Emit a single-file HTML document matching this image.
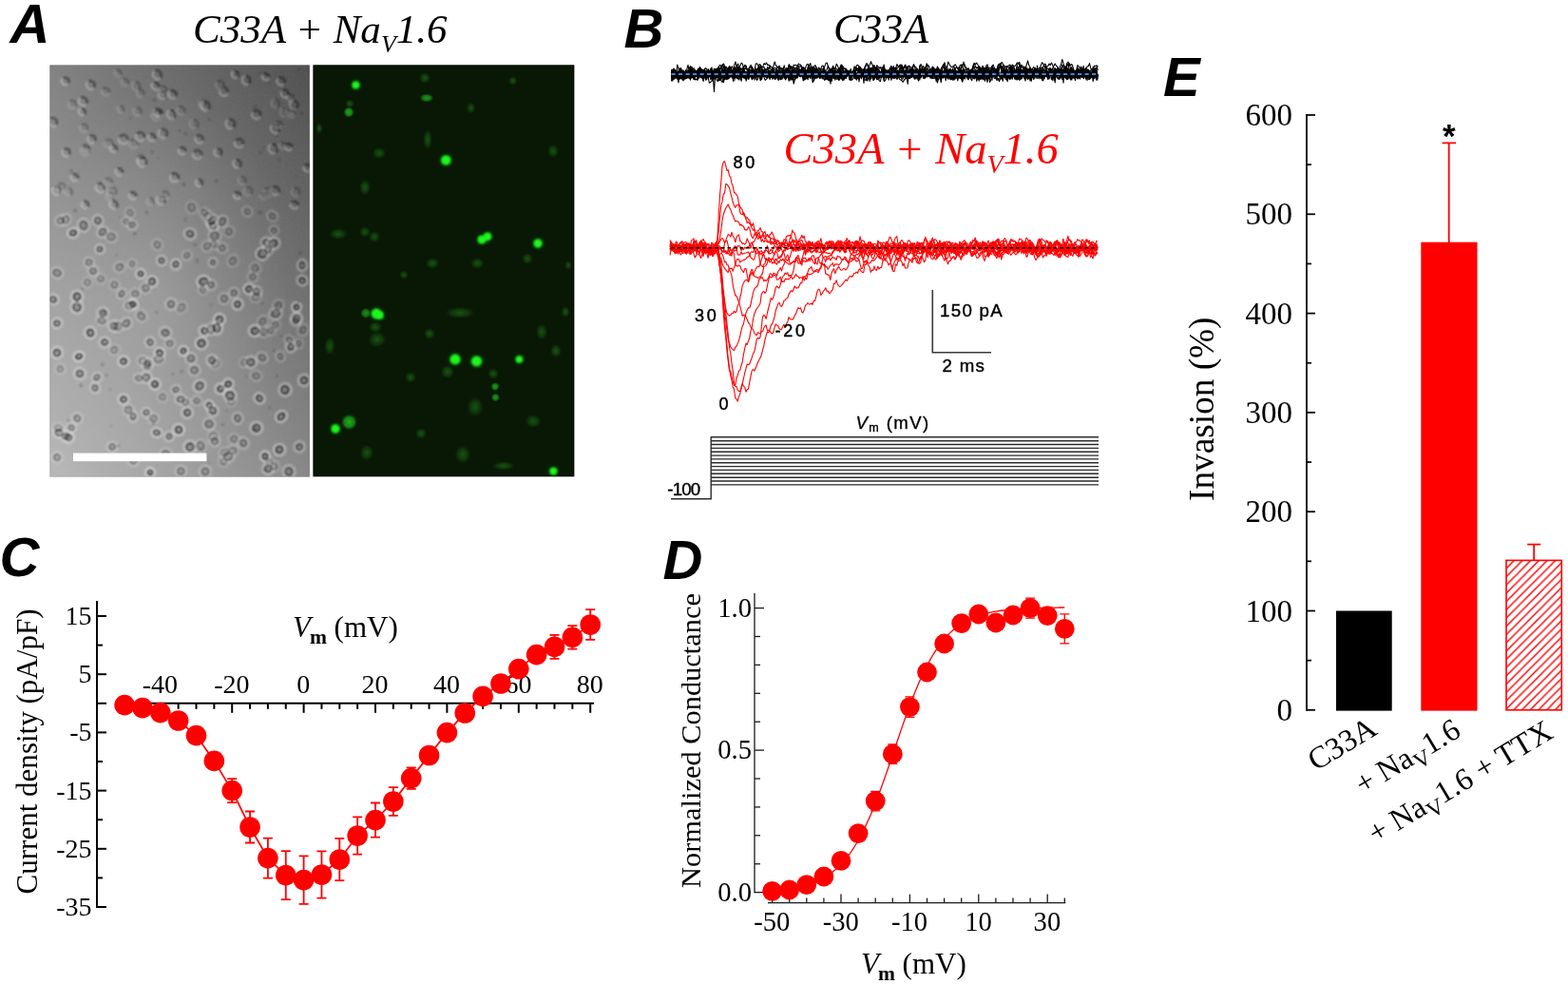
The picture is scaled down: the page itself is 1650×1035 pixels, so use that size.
<!DOCTYPE html>
<html lang="en"><head><meta charset="utf-8"><title>Figure</title>
<style>
html,body{margin:0;padding:0;background:#fff;}
body{width:1650px;height:1035px;overflow:hidden;}
svg{display:block;}
.ser{font-family:"Liberation Serif",serif;}
.seri{font-family:"Liberation Serif",serif;font-style:italic;}
.san{font-family:"Liberation Sans",sans-serif;}
.lab{font-family:"Liberation Sans",sans-serif;font-weight:bold;font-style:italic;font-size:58px;fill:#000;}
</style></head><body>
<svg width="1650" height="1035" viewBox="0 0 1650 1035">
<rect x="0" y="0" width="1650" height="1035" fill="#fff"/>
<g id="panelA">
<defs>
<linearGradient id="gbg" x1="1" y1="0" x2="0.058" y2="1.053">
<stop offset="0" stop-color="#505050"/><stop offset="1" stop-color="#bababa"/></linearGradient>
<radialGradient id="ghl" cx="0.42" cy="0.55" r="0.5"><stop offset="0" stop-color="#fff" stop-opacity="0.13"/><stop offset="1" stop-color="#fff" stop-opacity="0"/></radialGradient>
<radialGradient id="gb" cx="0.5" cy="0.5" r="0.5"><stop offset="0" stop-color="#14f014"/><stop offset="0.5" stop-color="#22f522"/><stop offset="0.68" stop-color="#22e522" stop-opacity="0.95"/><stop offset="0.85" stop-color="#148c12" stop-opacity="0.55"/><stop offset="1" stop-color="#0c400a" stop-opacity="0"/></radialGradient>
<radialGradient id="gd" cx="0.5" cy="0.5" r="0.5"><stop offset="0" stop-color="#1c6a16" stop-opacity="0.75"/><stop offset="0.6" stop-color="#15500f" stop-opacity="0.5"/><stop offset="1" stop-color="#0c300a" stop-opacity="0"/></radialGradient>
<radialGradient id="gm" cx="0.5" cy="0.5" r="0.5"><stop offset="0" stop-color="#22c41e"/><stop offset="0.6" stop-color="#1c9a18" stop-opacity="0.85"/><stop offset="1" stop-color="#0c400a" stop-opacity="0"/></radialGradient>
<filter id="fbl" x="-5%" y="-5%" width="110%" height="110%"><feGaussianBlur stdDeviation="0.9"/></filter>
<filter id="fglow" x="-5%" y="-5%" width="110%" height="110%"><feGaussianBlur stdDeviation="1.8"/></filter>
<filter id="fbl2" x="-5%" y="-5%" width="110%" height="110%"><feGaussianBlur stdDeviation="0.8"/></filter>
<filter id="fgrain" x="0" y="0" width="100%" height="100%"><feTurbulence type="fractalNoise" baseFrequency="0.55" numOctaves="2" seed="4" result="n"/><feColorMatrix in="n" type="matrix" values="0 0 0 0 0.5  0 0 0 0 0.5  0 0 0 0 0.5  0.9 0 0 0 -0.32"/></filter>
<clipPath id="clipL"><rect x="52.2" y="68.2" width="273.7" height="433.6"/></clipPath>
<clipPath id="clipR"><rect x="329.3" y="68.2" width="275.2" height="433.3"/></clipPath>
</defs>
<text class="lab" x="10.5" y="45.3">A</text>
<text class="seri" font-size="43" fill="#000" x="203" y="45">C33A + Na<tspan font-size="26" dy="9.6">V</tspan><tspan dy="-9.6">1.6</tspan></text>
<g clip-path="url(#clipL)">
<rect x="52.2" y="68.2" width="273.7" height="433.6" fill="url(#gbg)"/>
<rect x="52.2" y="68.2" width="273.7" height="433.6" fill="url(#ghl)"/>
<g filter="url(#fbl)" fill="none">
<g transform="translate(69 231) rotate(28)" opacity="0.55"><ellipse rx="5.7" ry="6.4" stroke="#fff" stroke-opacity="0.55" stroke-width="1.7"/><ellipse rx="3.4" ry="4.1" stroke="#141414" stroke-opacity="0.8" stroke-width="1.9" fill="#222" fill-opacity="0.3"/><circle cx="0.7" cy="0.6" r="0.9" fill="#eee" fill-opacity="0.45"/></g>
<g transform="translate(88 237) rotate(167)" opacity="0.65"><ellipse rx="6.4" ry="7.1" stroke="#fff" stroke-opacity="0.55" stroke-width="1.7"/><ellipse rx="4.1" ry="4.8" stroke="#141414" stroke-opacity="0.8" stroke-width="1.9" fill="#222" fill-opacity="0.3"/><circle cx="0.4" cy="0.5" r="0.9" fill="#eee" fill-opacity="0.45"/></g>
<g transform="translate(103 232) rotate(61)" opacity="0.65"><ellipse rx="6.1" ry="5.8" stroke="#fff" stroke-opacity="0.55" stroke-width="1.7"/><ellipse rx="3.8" ry="3.5" stroke="#141414" stroke-opacity="0.8" stroke-width="1.9" fill="#222" fill-opacity="0.3"/><circle cx="-0.7" cy="0.1" r="0.9" fill="#eee" fill-opacity="0.45"/></g>
<g transform="translate(77 245) rotate(163)" opacity="0.86"><ellipse rx="6.1" ry="5.2" stroke="#fff" stroke-opacity="0.55" stroke-width="1.7"/><ellipse rx="3.8" ry="2.9" stroke="#141414" stroke-opacity="0.8" stroke-width="1.9" fill="#222" fill-opacity="0.3"/><circle cx="0.7" cy="0.6" r="0.9" fill="#eee" fill-opacity="0.45"/></g>
<g transform="translate(108 244) rotate(134)" opacity="0.63"><ellipse rx="6.5" ry="5.7" stroke="#fff" stroke-opacity="0.55" stroke-width="1.7"/><ellipse rx="4.2" ry="3.4" stroke="#141414" stroke-opacity="0.8" stroke-width="1.9" fill="#222" fill-opacity="0.3"/><circle cx="-0.3" cy="0.3" r="0.9" fill="#eee" fill-opacity="0.45"/></g>
<g transform="translate(200 246) rotate(110)" opacity="0.70"><ellipse rx="5.9" ry="6.5" stroke="#fff" stroke-opacity="0.55" stroke-width="1.7"/><ellipse rx="3.6" ry="4.2" stroke="#141414" stroke-opacity="0.8" stroke-width="1.9" fill="#222" fill-opacity="0.3"/><circle cx="-0.4" cy="0.6" r="0.9" fill="#eee" fill-opacity="0.45"/></g>
<g transform="translate(224 237) rotate(36)" opacity="0.79"><ellipse rx="6.3" ry="5.7" stroke="#fff" stroke-opacity="0.55" stroke-width="1.7"/><ellipse rx="4" ry="3.4" stroke="#141414" stroke-opacity="0.8" stroke-width="1.9" fill="#222" fill-opacity="0.3"/><circle cx="0.5" cy="-0.5" r="0.9" fill="#eee" fill-opacity="0.45"/></g>
<g transform="translate(226 248) rotate(148)" opacity="0.55"><ellipse rx="6.8" ry="6.7" stroke="#fff" stroke-opacity="0.55" stroke-width="1.7"/><ellipse rx="4.5" ry="4.4" stroke="#141414" stroke-opacity="0.8" stroke-width="1.9" fill="#222" fill-opacity="0.3"/><circle cx="0.2" cy="0.6" r="0.9" fill="#eee" fill-opacity="0.45"/></g>
<g transform="translate(105 262) rotate(95)" opacity="0.74"><ellipse rx="5.2" ry="5.2" stroke="#fff" stroke-opacity="0.55" stroke-width="1.7"/><ellipse rx="2.9" ry="2.9" stroke="#141414" stroke-opacity="0.8" stroke-width="1.9" fill="#222" fill-opacity="0.3"/><circle cx="-0" cy="0.4" r="0.9" fill="#eee" fill-opacity="0.45"/></g>
<g transform="translate(224 276) rotate(22)" opacity="0.58"><ellipse rx="4.9" ry="5" stroke="#fff" stroke-opacity="0.55" stroke-width="1.7"/><ellipse rx="2.6" ry="2.7" stroke="#141414" stroke-opacity="0.8" stroke-width="1.9" fill="#222" fill-opacity="0.3"/><circle cx="0.8" cy="0.6" r="0.9" fill="#eee" fill-opacity="0.45"/></g>
<g transform="translate(170 274) rotate(57)" opacity="0.71"><ellipse rx="5.5" ry="5.3" stroke="#fff" stroke-opacity="0.55" stroke-width="1.7"/><ellipse rx="3.2" ry="3" stroke="#141414" stroke-opacity="0.8" stroke-width="1.9" fill="#222" fill-opacity="0.3"/><circle cx="0.2" cy="0.1" r="0.9" fill="#eee" fill-opacity="0.45"/></g>
<g transform="translate(185 278) rotate(22)" opacity="0.80"><ellipse rx="5.4" ry="5.6" stroke="#fff" stroke-opacity="0.55" stroke-width="1.7"/><ellipse rx="3.1" ry="3.3" stroke="#141414" stroke-opacity="0.8" stroke-width="1.9" fill="#222" fill-opacity="0.3"/><circle cx="0.3" cy="-0.2" r="0.9" fill="#eee" fill-opacity="0.45"/></g>
<g transform="translate(148 288) rotate(109)" opacity="0.90"><ellipse rx="5.1" ry="5.3" stroke="#fff" stroke-opacity="0.55" stroke-width="1.7"/><ellipse rx="2.8" ry="3" stroke="#141414" stroke-opacity="0.8" stroke-width="1.9" fill="#222" fill-opacity="0.3"/><circle cx="-0.2" cy="0.5" r="0.9" fill="#eee" fill-opacity="0.45"/></g>
<g transform="translate(160 296) rotate(89)" opacity="0.87"><ellipse rx="6" ry="5.9" stroke="#fff" stroke-opacity="0.55" stroke-width="1.7"/><ellipse rx="3.7" ry="3.6" stroke="#141414" stroke-opacity="0.8" stroke-width="1.9" fill="#222" fill-opacity="0.3"/><circle cx="-0.1" cy="0.3" r="0.9" fill="#eee" fill-opacity="0.45"/></g>
<g transform="translate(98 285) rotate(125)" opacity="0.58"><ellipse rx="5.6" ry="5.9" stroke="#fff" stroke-opacity="0.55" stroke-width="1.7"/><ellipse rx="3.3" ry="3.6" stroke="#141414" stroke-opacity="0.8" stroke-width="1.9" fill="#222" fill-opacity="0.3"/><circle cx="-0.1" cy="-0.1" r="0.9" fill="#eee" fill-opacity="0.45"/></g>
<g transform="translate(214 296) rotate(162)" opacity="0.91"><ellipse rx="7" ry="6.2" stroke="#fff" stroke-opacity="0.55" stroke-width="1.7"/><ellipse rx="4.7" ry="3.9" stroke="#141414" stroke-opacity="0.8" stroke-width="1.9" fill="#222" fill-opacity="0.3"/><circle cx="-0.4" cy="-0.1" r="0.9" fill="#eee" fill-opacity="0.45"/></g>
<g transform="translate(262 304) rotate(160)" opacity="0.91"><ellipse rx="5.9" ry="5.7" stroke="#fff" stroke-opacity="0.55" stroke-width="1.7"/><ellipse rx="3.6" ry="3.4" stroke="#141414" stroke-opacity="0.8" stroke-width="1.9" fill="#222" fill-opacity="0.3"/><circle cx="0.3" cy="0.4" r="0.9" fill="#eee" fill-opacity="0.45"/></g>
<g transform="translate(270 307) rotate(1)" opacity="0.61"><ellipse rx="5.5" ry="6.1" stroke="#fff" stroke-opacity="0.55" stroke-width="1.7"/><ellipse rx="3.2" ry="3.8" stroke="#141414" stroke-opacity="0.8" stroke-width="1.9" fill="#222" fill-opacity="0.3"/><circle cx="0.4" cy="-0.7" r="0.9" fill="#eee" fill-opacity="0.45"/></g>
<g transform="translate(128 309) rotate(32)" opacity="0.56"><ellipse rx="5" ry="5.9" stroke="#fff" stroke-opacity="0.55" stroke-width="1.7"/><ellipse rx="2.7" ry="3.6" stroke="#141414" stroke-opacity="0.8" stroke-width="1.9" fill="#222" fill-opacity="0.3"/><circle cx="0.5" cy="-0.6" r="0.9" fill="#eee" fill-opacity="0.45"/></g>
<g transform="translate(81 323) rotate(171)" opacity="0.81"><ellipse rx="6.6" ry="6.8" stroke="#fff" stroke-opacity="0.55" stroke-width="1.7"/><ellipse rx="4.3" ry="4.5" stroke="#141414" stroke-opacity="0.8" stroke-width="1.9" fill="#222" fill-opacity="0.3"/><circle cx="0.5" cy="-0.7" r="0.9" fill="#eee" fill-opacity="0.45"/></g>
<g transform="translate(81 312) rotate(19)" opacity="0.89"><ellipse rx="6.3" ry="6.5" stroke="#fff" stroke-opacity="0.55" stroke-width="1.7"/><ellipse rx="4" ry="4.2" stroke="#141414" stroke-opacity="0.8" stroke-width="1.9" fill="#222" fill-opacity="0.3"/><circle cx="0.7" cy="-0.7" r="0.9" fill="#eee" fill-opacity="0.45"/></g>
<g transform="translate(108 329) rotate(44)" opacity="0.63"><ellipse rx="5.8" ry="6.1" stroke="#fff" stroke-opacity="0.55" stroke-width="1.7"/><ellipse rx="3.5" ry="3.8" stroke="#141414" stroke-opacity="0.8" stroke-width="1.9" fill="#222" fill-opacity="0.3"/><circle cx="-0.4" cy="0.2" r="0.9" fill="#eee" fill-opacity="0.45"/></g>
<g transform="translate(120 343) rotate(71)" opacity="0.71"><ellipse rx="6.1" ry="6" stroke="#fff" stroke-opacity="0.55" stroke-width="1.7"/><ellipse rx="3.8" ry="3.7" stroke="#141414" stroke-opacity="0.8" stroke-width="1.9" fill="#222" fill-opacity="0.3"/><circle cx="-0.1" cy="-0.7" r="0.9" fill="#eee" fill-opacity="0.45"/></g>
<g transform="translate(133 340) rotate(135)" opacity="0.62"><ellipse rx="6.5" ry="5.8" stroke="#fff" stroke-opacity="0.55" stroke-width="1.7"/><ellipse rx="4.2" ry="3.5" stroke="#141414" stroke-opacity="0.8" stroke-width="1.9" fill="#222" fill-opacity="0.3"/><circle cx="0.3" cy="0.4" r="0.9" fill="#eee" fill-opacity="0.45"/></g>
<g transform="translate(231 336) rotate(116)" opacity="0.95"><ellipse rx="6.2" ry="6.1" stroke="#fff" stroke-opacity="0.55" stroke-width="1.7"/><ellipse rx="3.9" ry="3.8" stroke="#141414" stroke-opacity="0.8" stroke-width="1.9" fill="#222" fill-opacity="0.3"/><circle cx="-0.6" cy="-0.6" r="0.9" fill="#eee" fill-opacity="0.45"/></g>
<g transform="translate(228 345) rotate(80)" opacity="0.87"><ellipse rx="6.8" ry="6.2" stroke="#fff" stroke-opacity="0.55" stroke-width="1.7"/><ellipse rx="4.5" ry="3.9" stroke="#141414" stroke-opacity="0.8" stroke-width="1.9" fill="#222" fill-opacity="0.3"/><circle cx="-0.5" cy="-0.4" r="0.9" fill="#eee" fill-opacity="0.45"/></g>
<g transform="translate(215 348) rotate(42)" opacity="0.86"><ellipse rx="5.7" ry="5.4" stroke="#fff" stroke-opacity="0.55" stroke-width="1.7"/><ellipse rx="3.4" ry="3.1" stroke="#141414" stroke-opacity="0.8" stroke-width="1.9" fill="#222" fill-opacity="0.3"/><circle cx="0.7" cy="-0.3" r="0.9" fill="#eee" fill-opacity="0.45"/></g>
<g transform="translate(174 350) rotate(105)" opacity="0.67"><ellipse rx="6.1" ry="6.6" stroke="#fff" stroke-opacity="0.55" stroke-width="1.7"/><ellipse rx="3.8" ry="4.3" stroke="#141414" stroke-opacity="0.8" stroke-width="1.9" fill="#222" fill-opacity="0.3"/><circle cx="-0.5" cy="-0.8" r="0.9" fill="#eee" fill-opacity="0.45"/></g>
<g transform="translate(158 360) rotate(65)" opacity="0.69"><ellipse rx="5.8" ry="5.5" stroke="#fff" stroke-opacity="0.55" stroke-width="1.7"/><ellipse rx="3.5" ry="3.2" stroke="#141414" stroke-opacity="0.8" stroke-width="1.9" fill="#222" fill-opacity="0.3"/><circle cx="0.4" cy="-0.6" r="0.9" fill="#eee" fill-opacity="0.45"/></g>
<g transform="translate(212 361) rotate(84)" opacity="0.93"><ellipse rx="6.5" ry="6.6" stroke="#fff" stroke-opacity="0.55" stroke-width="1.7"/><ellipse rx="4.2" ry="4.3" stroke="#141414" stroke-opacity="0.8" stroke-width="1.9" fill="#222" fill-opacity="0.3"/><circle cx="0.5" cy="0.1" r="0.9" fill="#eee" fill-opacity="0.45"/></g>
<g transform="translate(268 348) rotate(72)" opacity="0.88"><ellipse rx="6.2" ry="6.4" stroke="#fff" stroke-opacity="0.55" stroke-width="1.7"/><ellipse rx="3.9" ry="4.1" stroke="#141414" stroke-opacity="0.8" stroke-width="1.9" fill="#222" fill-opacity="0.3"/><circle cx="0.7" cy="-0.1" r="0.9" fill="#eee" fill-opacity="0.45"/></g>
<g transform="translate(168 371) rotate(122)" opacity="0.98"><ellipse rx="5.3" ry="5.9" stroke="#fff" stroke-opacity="0.55" stroke-width="1.7"/><ellipse rx="3" ry="3.6" stroke="#141414" stroke-opacity="0.8" stroke-width="1.9" fill="#222" fill-opacity="0.3"/><circle cx="0.6" cy="-0.4" r="0.9" fill="#eee" fill-opacity="0.45"/></g>
<g transform="translate(193 369) rotate(127)" opacity="0.94"><ellipse rx="5.3" ry="5.2" stroke="#fff" stroke-opacity="0.55" stroke-width="1.7"/><ellipse rx="3" ry="2.9" stroke="#141414" stroke-opacity="0.8" stroke-width="1.9" fill="#222" fill-opacity="0.3"/><circle cx="0.6" cy="-0.4" r="0.9" fill="#eee" fill-opacity="0.45"/></g>
<g transform="translate(201 377) rotate(131)" opacity="0.59"><ellipse rx="6.1" ry="6.2" stroke="#fff" stroke-opacity="0.55" stroke-width="1.7"/><ellipse rx="3.8" ry="3.9" stroke="#141414" stroke-opacity="0.8" stroke-width="1.9" fill="#222" fill-opacity="0.3"/><circle cx="-0.7" cy="0.5" r="0.9" fill="#eee" fill-opacity="0.45"/></g>
<g transform="translate(156 382) rotate(122)" opacity="0.55"><ellipse rx="5.5" ry="5.8" stroke="#fff" stroke-opacity="0.55" stroke-width="1.7"/><ellipse rx="3.2" ry="3.5" stroke="#141414" stroke-opacity="0.8" stroke-width="1.9" fill="#222" fill-opacity="0.3"/><circle cx="-0.3" cy="-0.1" r="0.9" fill="#eee" fill-opacity="0.45"/></g>
<g transform="translate(223 379) rotate(172)" opacity="0.73"><ellipse rx="5.6" ry="6" stroke="#fff" stroke-opacity="0.55" stroke-width="1.7"/><ellipse rx="3.3" ry="3.7" stroke="#141414" stroke-opacity="0.8" stroke-width="1.9" fill="#222" fill-opacity="0.3"/><circle cx="0.1" cy="-0.6" r="0.9" fill="#eee" fill-opacity="0.45"/></g>
<g transform="translate(83 375) rotate(160)" opacity="0.96"><ellipse rx="5.9" ry="5.2" stroke="#fff" stroke-opacity="0.55" stroke-width="1.7"/><ellipse rx="3.6" ry="2.9" stroke="#141414" stroke-opacity="0.8" stroke-width="1.9" fill="#222" fill-opacity="0.3"/><circle cx="-0.6" cy="0.7" r="0.9" fill="#eee" fill-opacity="0.45"/></g>
<g transform="translate(60 371) rotate(53)" opacity="0.85"><ellipse rx="6.1" ry="6.1" stroke="#fff" stroke-opacity="0.55" stroke-width="1.7"/><ellipse rx="3.8" ry="3.8" stroke="#141414" stroke-opacity="0.8" stroke-width="1.9" fill="#222" fill-opacity="0.3"/><circle cx="0.2" cy="0.5" r="0.9" fill="#eee" fill-opacity="0.45"/></g>
<g transform="translate(84 393) rotate(121)" opacity="0.79"><ellipse rx="6" ry="6.2" stroke="#fff" stroke-opacity="0.55" stroke-width="1.7"/><ellipse rx="3.7" ry="3.9" stroke="#141414" stroke-opacity="0.8" stroke-width="1.9" fill="#222" fill-opacity="0.3"/><circle cx="-0.6" cy="-0" r="0.9" fill="#eee" fill-opacity="0.45"/></g>
<g transform="translate(154 397) rotate(102)" opacity="0.63"><ellipse rx="6" ry="6" stroke="#fff" stroke-opacity="0.55" stroke-width="1.7"/><ellipse rx="3.7" ry="3.7" stroke="#141414" stroke-opacity="0.8" stroke-width="1.9" fill="#222" fill-opacity="0.3"/><circle cx="0.2" cy="0.2" r="0.9" fill="#eee" fill-opacity="0.45"/></g>
<g transform="translate(163 404) rotate(22)" opacity="0.97"><ellipse rx="6" ry="5.8" stroke="#fff" stroke-opacity="0.55" stroke-width="1.7"/><ellipse rx="3.7" ry="3.5" stroke="#141414" stroke-opacity="0.8" stroke-width="1.9" fill="#222" fill-opacity="0.3"/><circle cx="-0.6" cy="-0.3" r="0.9" fill="#eee" fill-opacity="0.45"/></g>
<g transform="translate(264 381) rotate(117)" opacity="0.76"><ellipse rx="6.3" ry="6.3" stroke="#fff" stroke-opacity="0.55" stroke-width="1.7"/><ellipse rx="4" ry="4" stroke="#141414" stroke-opacity="0.8" stroke-width="1.9" fill="#222" fill-opacity="0.3"/><circle cx="-0.3" cy="-0.5" r="0.9" fill="#eee" fill-opacity="0.45"/></g>
<g transform="translate(232 409) rotate(98)" opacity="0.88"><ellipse rx="5.7" ry="5.7" stroke="#fff" stroke-opacity="0.55" stroke-width="1.7"/><ellipse rx="3.4" ry="3.4" stroke="#141414" stroke-opacity="0.8" stroke-width="1.9" fill="#222" fill-opacity="0.3"/><circle cx="-0.2" cy="-0.4" r="0.9" fill="#eee" fill-opacity="0.45"/></g>
<g transform="translate(318 279) rotate(91)" opacity="0.66"><ellipse rx="6.3" ry="5.3" stroke="#fff" stroke-opacity="0.55" stroke-width="1.7"/><ellipse rx="4" ry="3" stroke="#141414" stroke-opacity="0.8" stroke-width="1.9" fill="#222" fill-opacity="0.3"/><circle cx="0.4" cy="-0.2" r="0.9" fill="#eee" fill-opacity="0.45"/></g>
<g transform="translate(318 295) rotate(139)" opacity="0.71"><ellipse rx="5.6" ry="5.8" stroke="#fff" stroke-opacity="0.55" stroke-width="1.7"/><ellipse rx="3.3" ry="3.5" stroke="#141414" stroke-opacity="0.8" stroke-width="1.9" fill="#222" fill-opacity="0.3"/><circle cx="0.6" cy="-0.6" r="0.9" fill="#eee" fill-opacity="0.45"/></g>
<g transform="translate(312 323) rotate(140)" opacity="0.88"><ellipse rx="5.2" ry="5.2" stroke="#fff" stroke-opacity="0.55" stroke-width="1.7"/><ellipse rx="2.9" ry="2.9" stroke="#141414" stroke-opacity="0.8" stroke-width="1.9" fill="#222" fill-opacity="0.3"/><circle cx="-0.5" cy="-0.5" r="0.9" fill="#eee" fill-opacity="0.45"/></g>
<g transform="translate(312 335) rotate(135)" opacity="0.82"><ellipse rx="6.1" ry="6.2" stroke="#fff" stroke-opacity="0.55" stroke-width="1.7"/><ellipse rx="3.8" ry="3.9" stroke="#141414" stroke-opacity="0.8" stroke-width="1.9" fill="#222" fill-opacity="0.3"/><circle cx="-0.6" cy="-0.2" r="0.9" fill="#eee" fill-opacity="0.45"/></g>
<g transform="translate(280 255) rotate(36)" opacity="0.66"><ellipse rx="5.6" ry="5.7" stroke="#fff" stroke-opacity="0.55" stroke-width="1.7"/><ellipse rx="3.3" ry="3.4" stroke="#141414" stroke-opacity="0.8" stroke-width="1.9" fill="#222" fill-opacity="0.3"/><circle cx="0.5" cy="-0.8" r="0.9" fill="#eee" fill-opacity="0.45"/></g>
<g transform="translate(276 267) rotate(69)" opacity="0.80"><ellipse rx="6.8" ry="6.9" stroke="#fff" stroke-opacity="0.55" stroke-width="1.7"/><ellipse rx="4.5" ry="4.6" stroke="#141414" stroke-opacity="0.8" stroke-width="1.9" fill="#222" fill-opacity="0.3"/><circle cx="0.1" cy="0.2" r="0.9" fill="#eee" fill-opacity="0.45"/></g>
<g transform="translate(288 256) rotate(155)" opacity="0.77"><ellipse rx="6.7" ry="6.2" stroke="#fff" stroke-opacity="0.55" stroke-width="1.7"/><ellipse rx="4.4" ry="3.9" stroke="#141414" stroke-opacity="0.8" stroke-width="1.9" fill="#222" fill-opacity="0.3"/><circle cx="0.2" cy="0.4" r="0.9" fill="#eee" fill-opacity="0.45"/></g>
<g transform="translate(306 365) rotate(89)" opacity="0.79"><ellipse rx="5.7" ry="5.5" stroke="#fff" stroke-opacity="0.55" stroke-width="1.7"/><ellipse rx="3.4" ry="3.2" stroke="#141414" stroke-opacity="0.8" stroke-width="1.9" fill="#222" fill-opacity="0.3"/><circle cx="-0.1" cy="-0.5" r="0.9" fill="#eee" fill-opacity="0.45"/></g>
<g transform="translate(56 315) rotate(116)" opacity="0.75"><ellipse rx="5.4" ry="6" stroke="#fff" stroke-opacity="0.55" stroke-width="1.7"/><ellipse rx="3.1" ry="3.7" stroke="#141414" stroke-opacity="0.8" stroke-width="1.9" fill="#222" fill-opacity="0.3"/><circle cx="0.1" cy="0.7" r="0.9" fill="#eee" fill-opacity="0.45"/></g>
<g transform="translate(60 287) rotate(112)" opacity="0.57"><ellipse rx="5.9" ry="6.8" stroke="#fff" stroke-opacity="0.55" stroke-width="1.7"/><ellipse rx="3.6" ry="4.5" stroke="#141414" stroke-opacity="0.8" stroke-width="1.9" fill="#222" fill-opacity="0.3"/><circle cx="-0.2" cy="-0.4" r="0.9" fill="#eee" fill-opacity="0.45"/></g>
<g transform="translate(240 404) rotate(58)" opacity="0.94"><ellipse rx="5.5" ry="5.9" stroke="#fff" stroke-opacity="0.55" stroke-width="1.7"/><ellipse rx="3.2" ry="3.6" stroke="#141414" stroke-opacity="0.8" stroke-width="1.9" fill="#222" fill-opacity="0.3"/><circle cx="0.3" cy="-0.6" r="0.9" fill="#eee" fill-opacity="0.45"/></g>
<g transform="translate(242 416) rotate(129)" opacity="0.88"><ellipse rx="6.5" ry="6.9" stroke="#fff" stroke-opacity="0.55" stroke-width="1.7"/><ellipse rx="4.2" ry="4.6" stroke="#141414" stroke-opacity="0.8" stroke-width="1.9" fill="#222" fill-opacity="0.3"/><circle cx="-0.3" cy="0.5" r="0.9" fill="#eee" fill-opacity="0.45"/></g>
<g transform="translate(210 406) rotate(136)" opacity="0.77"><ellipse rx="6.9" ry="6.3" stroke="#fff" stroke-opacity="0.55" stroke-width="1.7"/><ellipse rx="4.6" ry="4" stroke="#141414" stroke-opacity="0.8" stroke-width="1.9" fill="#222" fill-opacity="0.3"/><circle cx="-0.6" cy="-0.7" r="0.9" fill="#eee" fill-opacity="0.45"/></g>
<g transform="translate(220 426) rotate(89)" opacity="0.86"><ellipse rx="5.1" ry="5.1" stroke="#fff" stroke-opacity="0.55" stroke-width="1.7"/><ellipse rx="2.8" ry="2.8" stroke="#141414" stroke-opacity="0.8" stroke-width="1.9" fill="#222" fill-opacity="0.3"/><circle cx="0.1" cy="-0.1" r="0.9" fill="#eee" fill-opacity="0.45"/></g>
<g transform="translate(224 432) rotate(136)" opacity="0.73"><ellipse rx="5.9" ry="6.1" stroke="#fff" stroke-opacity="0.55" stroke-width="1.7"/><ellipse rx="3.6" ry="3.8" stroke="#141414" stroke-opacity="0.8" stroke-width="1.9" fill="#222" fill-opacity="0.3"/><circle cx="-0.5" cy="0.6" r="0.9" fill="#eee" fill-opacity="0.45"/></g>
<g transform="translate(197 434) rotate(95)" opacity="0.82"><ellipse rx="6" ry="6" stroke="#fff" stroke-opacity="0.55" stroke-width="1.7"/><ellipse rx="3.7" ry="3.7" stroke="#141414" stroke-opacity="0.8" stroke-width="1.9" fill="#222" fill-opacity="0.3"/><circle cx="-0.4" cy="-0.8" r="0.9" fill="#eee" fill-opacity="0.45"/></g>
<g transform="translate(140 438) rotate(83)" opacity="0.64"><ellipse rx="5.9" ry="5.2" stroke="#fff" stroke-opacity="0.55" stroke-width="1.7"/><ellipse rx="3.6" ry="2.9" stroke="#141414" stroke-opacity="0.8" stroke-width="1.9" fill="#222" fill-opacity="0.3"/><circle cx="-0.5" cy="-0.5" r="0.9" fill="#eee" fill-opacity="0.45"/></g>
<g transform="translate(154 434) rotate(20)" opacity="0.63"><ellipse rx="5.4" ry="5.3" stroke="#fff" stroke-opacity="0.55" stroke-width="1.7"/><ellipse rx="3.1" ry="3" stroke="#141414" stroke-opacity="0.8" stroke-width="1.9" fill="#222" fill-opacity="0.3"/><circle cx="-0" cy="-0.7" r="0.9" fill="#eee" fill-opacity="0.45"/></g>
<g transform="translate(75 450) rotate(127)" opacity="0.57"><ellipse rx="5.3" ry="5.3" stroke="#fff" stroke-opacity="0.55" stroke-width="1.7"/><ellipse rx="3" ry="3" stroke="#141414" stroke-opacity="0.8" stroke-width="1.9" fill="#222" fill-opacity="0.3"/><circle cx="-0.2" cy="-0.2" r="0.9" fill="#eee" fill-opacity="0.45"/></g>
<g transform="translate(165 455) rotate(17)" opacity="0.76"><ellipse rx="5.9" ry="5.1" stroke="#fff" stroke-opacity="0.55" stroke-width="1.7"/><ellipse rx="3.6" ry="2.8" stroke="#141414" stroke-opacity="0.8" stroke-width="1.9" fill="#222" fill-opacity="0.3"/><circle cx="-0.5" cy="0.2" r="0.9" fill="#eee" fill-opacity="0.45"/></g>
<g transform="translate(178 459) rotate(131)" opacity="0.67"><ellipse rx="5.3" ry="5.2" stroke="#fff" stroke-opacity="0.55" stroke-width="1.7"/><ellipse rx="3" ry="2.9" stroke="#141414" stroke-opacity="0.8" stroke-width="1.9" fill="#222" fill-opacity="0.3"/><circle cx="0.5" cy="-0.1" r="0.9" fill="#eee" fill-opacity="0.45"/></g>
<g transform="translate(188 452) rotate(48)" opacity="0.92"><ellipse rx="6.1" ry="6.1" stroke="#fff" stroke-opacity="0.55" stroke-width="1.7"/><ellipse rx="3.8" ry="3.8" stroke="#141414" stroke-opacity="0.8" stroke-width="1.9" fill="#222" fill-opacity="0.3"/><circle cx="0.2" cy="-0.2" r="0.9" fill="#eee" fill-opacity="0.45"/></g>
<g transform="translate(60 481) rotate(107)" opacity="0.55"><ellipse rx="5.7" ry="6" stroke="#fff" stroke-opacity="0.55" stroke-width="1.7"/><ellipse rx="3.4" ry="3.7" stroke="#141414" stroke-opacity="0.8" stroke-width="1.9" fill="#222" fill-opacity="0.3"/><circle cx="-0.8" cy="-0.7" r="0.9" fill="#eee" fill-opacity="0.45"/></g>
<g transform="translate(158 497) rotate(118)" opacity="0.96"><ellipse rx="5.1" ry="5.1" stroke="#fff" stroke-opacity="0.55" stroke-width="1.7"/><ellipse rx="2.8" ry="2.8" stroke="#141414" stroke-opacity="0.8" stroke-width="1.9" fill="#222" fill-opacity="0.3"/><circle cx="-0.5" cy="0.8" r="0.9" fill="#eee" fill-opacity="0.45"/></g>
<g transform="translate(216 496) rotate(169)" opacity="0.57"><ellipse rx="6.3" ry="6.4" stroke="#fff" stroke-opacity="0.55" stroke-width="1.7"/><ellipse rx="4" ry="4.1" stroke="#141414" stroke-opacity="0.8" stroke-width="1.9" fill="#222" fill-opacity="0.3"/><circle cx="-0.3" cy="0.2" r="0.9" fill="#eee" fill-opacity="0.45"/></g>
<g transform="translate(256 466) rotate(153)" opacity="0.60"><ellipse rx="5.9" ry="6.2" stroke="#fff" stroke-opacity="0.55" stroke-width="1.7"/><ellipse rx="3.6" ry="3.9" stroke="#141414" stroke-opacity="0.8" stroke-width="1.9" fill="#222" fill-opacity="0.3"/><circle cx="-0.2" cy="-0.3" r="0.9" fill="#eee" fill-opacity="0.45"/></g>
<g transform="translate(296 438) rotate(133)" opacity="0.88"><ellipse rx="6.7" ry="5.7" stroke="#fff" stroke-opacity="0.55" stroke-width="1.7"/><ellipse rx="4.4" ry="3.4" stroke="#141414" stroke-opacity="0.8" stroke-width="1.9" fill="#222" fill-opacity="0.3"/><circle cx="0.5" cy="0.1" r="0.9" fill="#eee" fill-opacity="0.45"/></g>
<g transform="translate(294 473) rotate(41)" opacity="0.90"><ellipse rx="6.2" ry="6.3" stroke="#fff" stroke-opacity="0.55" stroke-width="1.7"/><ellipse rx="3.9" ry="4" stroke="#141414" stroke-opacity="0.8" stroke-width="1.9" fill="#222" fill-opacity="0.3"/><circle cx="-0" cy="-0.4" r="0.9" fill="#eee" fill-opacity="0.45"/></g>
<g transform="translate(315 470) rotate(128)" opacity="0.72"><ellipse rx="5.8" ry="5.7" stroke="#fff" stroke-opacity="0.55" stroke-width="1.7"/><ellipse rx="3.5" ry="3.4" stroke="#141414" stroke-opacity="0.8" stroke-width="1.9" fill="#222" fill-opacity="0.3"/><circle cx="-0" cy="-0.6" r="0.9" fill="#eee" fill-opacity="0.45"/></g>
<g transform="translate(273 419) rotate(137)" opacity="0.85"><ellipse rx="5.5" ry="6.1" stroke="#fff" stroke-opacity="0.55" stroke-width="1.7"/><ellipse rx="3.2" ry="3.8" stroke="#141414" stroke-opacity="0.8" stroke-width="1.9" fill="#222" fill-opacity="0.3"/><circle cx="-0.6" cy="-0.4" r="0.9" fill="#eee" fill-opacity="0.45"/></g>
<g transform="translate(304 496) rotate(157)" opacity="0.75"><ellipse rx="6.5" ry="6.8" stroke="#fff" stroke-opacity="0.55" stroke-width="1.7"/><ellipse rx="4.2" ry="4.5" stroke="#141414" stroke-opacity="0.8" stroke-width="1.9" fill="#222" fill-opacity="0.3"/><circle cx="0.6" cy="0.4" r="0.9" fill="#eee" fill-opacity="0.45"/></g>
<g transform="translate(279 480) rotate(72)" opacity="0.98"><ellipse rx="5.6" ry="5.2" stroke="#fff" stroke-opacity="0.55" stroke-width="1.7"/><ellipse rx="3.3" ry="2.9" stroke="#141414" stroke-opacity="0.8" stroke-width="1.9" fill="#222" fill-opacity="0.3"/><circle cx="-0.6" cy="0.1" r="0.9" fill="#eee" fill-opacity="0.45"/></g>
<g transform="translate(102 397) rotate(43)" opacity="0.57"><ellipse rx="5" ry="5.7" stroke="#fff" stroke-opacity="0.55" stroke-width="1.7"/><ellipse rx="2.7" ry="3.4" stroke="#141414" stroke-opacity="0.8" stroke-width="1.9" fill="#222" fill-opacity="0.3"/><circle cx="-0.6" cy="0.2" r="0.9" fill="#eee" fill-opacity="0.45"/></g>
<g transform="translate(100 408) rotate(174)" opacity="0.65"><ellipse rx="5.4" ry="5.7" stroke="#fff" stroke-opacity="0.55" stroke-width="1.7"/><ellipse rx="3.1" ry="3.4" stroke="#141414" stroke-opacity="0.8" stroke-width="1.9" fill="#222" fill-opacity="0.3"/><circle cx="0.1" cy="-0.1" r="0.9" fill="#eee" fill-opacity="0.45"/></g>
<g transform="translate(220 446) rotate(96)" opacity="0.63"><ellipse rx="6.4" ry="6.6" stroke="#fff" stroke-opacity="0.55" stroke-width="1.7"/><ellipse rx="4.1" ry="4.3" stroke="#141414" stroke-opacity="0.8" stroke-width="1.9" fill="#222" fill-opacity="0.3"/><circle cx="-0.5" cy="-0.7" r="0.9" fill="#eee" fill-opacity="0.45"/></g>
<g transform="translate(226 464) rotate(174)" opacity="0.64"><ellipse rx="5.8" ry="5.7" stroke="#fff" stroke-opacity="0.55" stroke-width="1.7"/><ellipse rx="3.5" ry="3.4" stroke="#141414" stroke-opacity="0.8" stroke-width="1.9" fill="#222" fill-opacity="0.3"/><circle cx="0.6" cy="-0.7" r="0.9" fill="#eee" fill-opacity="0.45"/></g>
<g transform="translate(62 455) rotate(111)" opacity="0.84"><ellipse rx="5.6" ry="6.3" stroke="#fff" stroke-opacity="0.55" stroke-width="1.7"/><ellipse rx="3.3" ry="4" stroke="#141414" stroke-opacity="0.8" stroke-width="1.9" fill="#222" fill-opacity="0.3"/><circle cx="0.4" cy="0.6" r="0.9" fill="#eee" fill-opacity="0.45"/></g>
<g transform="translate(72 460) rotate(20)" opacity="0.93"><ellipse rx="5.9" ry="5.7" stroke="#fff" stroke-opacity="0.55" stroke-width="1.7"/><ellipse rx="3.6" ry="3.4" stroke="#141414" stroke-opacity="0.8" stroke-width="1.9" fill="#222" fill-opacity="0.3"/><circle cx="0.2" cy="0.5" r="0.9" fill="#eee" fill-opacity="0.45"/></g>
<g transform="translate(118 470) rotate(131)" opacity="0.58"><ellipse rx="5.7" ry="5.6" stroke="#fff" stroke-opacity="0.55" stroke-width="1.7"/><ellipse rx="3.4" ry="3.3" stroke="#141414" stroke-opacity="0.8" stroke-width="1.9" fill="#222" fill-opacity="0.3"/><circle cx="-0.2" cy="-0" r="0.9" fill="#eee" fill-opacity="0.45"/></g>
<g transform="translate(130 420) rotate(76)" opacity="0.84"><ellipse rx="5.5" ry="5.7" stroke="#fff" stroke-opacity="0.55" stroke-width="1.7"/><ellipse rx="3.2" ry="3.4" stroke="#141414" stroke-opacity="0.8" stroke-width="1.9" fill="#222" fill-opacity="0.3"/><circle cx="0.2" cy="-0.5" r="0.9" fill="#eee" fill-opacity="0.45"/></g>
<g transform="translate(250 440) rotate(78)" opacity="0.59"><ellipse rx="6.4" ry="5.6" stroke="#fff" stroke-opacity="0.55" stroke-width="1.7"/><ellipse rx="4.1" ry="3.3" stroke="#141414" stroke-opacity="0.8" stroke-width="1.9" fill="#222" fill-opacity="0.3"/><circle cx="-0.5" cy="-0.5" r="0.9" fill="#eee" fill-opacity="0.45"/></g>
<g transform="translate(300 410) rotate(178)" opacity="0.83"><ellipse rx="6.7" ry="7" stroke="#fff" stroke-opacity="0.55" stroke-width="1.7"/><ellipse rx="4.4" ry="4.7" stroke="#141414" stroke-opacity="0.8" stroke-width="1.9" fill="#222" fill-opacity="0.3"/><circle cx="0.7" cy="0.1" r="0.9" fill="#eee" fill-opacity="0.45"/></g>
<g transform="translate(320 400) rotate(171)" opacity="0.77"><ellipse rx="6.4" ry="6.3" stroke="#fff" stroke-opacity="0.55" stroke-width="1.7"/><ellipse rx="4.1" ry="4" stroke="#141414" stroke-opacity="0.8" stroke-width="1.9" fill="#222" fill-opacity="0.3"/><circle cx="0.4" cy="-0.1" r="0.9" fill="#eee" fill-opacity="0.45"/></g>
<g transform="translate(290 330) rotate(168)" opacity="0.63"><ellipse rx="7.1" ry="6.2" stroke="#fff" stroke-opacity="0.55" stroke-width="1.7"/><ellipse rx="4.8" ry="3.9" stroke="#141414" stroke-opacity="0.8" stroke-width="1.9" fill="#222" fill-opacity="0.3"/><circle cx="-0.6" cy="0.4" r="0.9" fill="#eee" fill-opacity="0.45"/></g>
<g transform="translate(250 320) rotate(7)" opacity="0.89"><ellipse rx="5.7" ry="5.9" stroke="#fff" stroke-opacity="0.55" stroke-width="1.7"/><ellipse rx="3.4" ry="3.6" stroke="#141414" stroke-opacity="0.8" stroke-width="1.9" fill="#222" fill-opacity="0.3"/><circle cx="-0.4" cy="-0.1" r="0.9" fill="#eee" fill-opacity="0.45"/></g>
<g transform="translate(180 320) rotate(52)" opacity="0.60"><ellipse rx="6.1" ry="6.1" stroke="#fff" stroke-opacity="0.55" stroke-width="1.7"/><ellipse rx="3.8" ry="3.8" stroke="#141414" stroke-opacity="0.8" stroke-width="1.9" fill="#222" fill-opacity="0.3"/><circle cx="-0.3" cy="-0.1" r="0.9" fill="#eee" fill-opacity="0.45"/></g>
<g transform="translate(140 320) rotate(126)" opacity="0.99"><ellipse rx="5.1" ry="5.7" stroke="#fff" stroke-opacity="0.55" stroke-width="1.7"/><ellipse rx="2.8" ry="3.4" stroke="#141414" stroke-opacity="0.8" stroke-width="1.9" fill="#222" fill-opacity="0.3"/><circle cx="0.8" cy="0.6" r="0.9" fill="#eee" fill-opacity="0.45"/></g>
<g transform="translate(60 340) rotate(83)" opacity="0.79"><ellipse rx="5.4" ry="5.6" stroke="#fff" stroke-opacity="0.55" stroke-width="1.7"/><ellipse rx="3.1" ry="3.3" stroke="#141414" stroke-opacity="0.8" stroke-width="1.9" fill="#222" fill-opacity="0.3"/><circle cx="0.1" cy="-0.2" r="0.9" fill="#eee" fill-opacity="0.45"/></g>
<g transform="translate(95 350) rotate(160)" opacity="0.91"><ellipse rx="6" ry="6.3" stroke="#fff" stroke-opacity="0.55" stroke-width="1.7"/><ellipse rx="3.7" ry="4" stroke="#141414" stroke-opacity="0.8" stroke-width="1.9" fill="#222" fill-opacity="0.3"/><circle cx="-0.3" cy="-0.4" r="0.9" fill="#eee" fill-opacity="0.45"/></g>
<g transform="translate(110 360) rotate(96)" opacity="0.79"><ellipse rx="5.6" ry="5.8" stroke="#fff" stroke-opacity="0.55" stroke-width="1.7"/><ellipse rx="3.3" ry="3.5" stroke="#141414" stroke-opacity="0.8" stroke-width="1.9" fill="#222" fill-opacity="0.3"/><circle cx="-0.5" cy="-0.7" r="0.9" fill="#eee" fill-opacity="0.45"/></g>
<g transform="translate(130 380) rotate(176)" opacity="0.90"><ellipse rx="5.9" ry="5.6" stroke="#fff" stroke-opacity="0.55" stroke-width="1.7"/><ellipse rx="3.6" ry="3.3" stroke="#141414" stroke-opacity="0.8" stroke-width="1.9" fill="#222" fill-opacity="0.3"/><circle cx="0.8" cy="-0.7" r="0.9" fill="#eee" fill-opacity="0.45"/></g>
<g transform="translate(185 410) rotate(61)" opacity="0.57"><ellipse rx="5" ry="5.5" stroke="#fff" stroke-opacity="0.55" stroke-width="1.7"/><ellipse rx="2.7" ry="3.2" stroke="#141414" stroke-opacity="0.8" stroke-width="1.9" fill="#222" fill-opacity="0.3"/><circle cx="0.1" cy="-0.6" r="0.9" fill="#eee" fill-opacity="0.45"/></g>
<g transform="translate(190 420) rotate(75)" opacity="0.67"><ellipse rx="5.4" ry="6.1" stroke="#fff" stroke-opacity="0.55" stroke-width="1.7"/><ellipse rx="3.1" ry="3.8" stroke="#141414" stroke-opacity="0.8" stroke-width="1.9" fill="#222" fill-opacity="0.3"/><circle cx="-0.7" cy="-0.1" r="0.9" fill="#eee" fill-opacity="0.45"/></g>
<g transform="translate(270 450) rotate(146)" opacity="0.66"><ellipse rx="6.3" ry="6.6" stroke="#fff" stroke-opacity="0.55" stroke-width="1.7"/><ellipse rx="4" ry="4.3" stroke="#141414" stroke-opacity="0.8" stroke-width="1.9" fill="#222" fill-opacity="0.3"/><circle cx="-0.6" cy="0.4" r="0.9" fill="#eee" fill-opacity="0.45"/></g>
<g transform="translate(240 480) rotate(99)" opacity="0.68"><ellipse rx="6.3" ry="6.7" stroke="#fff" stroke-opacity="0.55" stroke-width="1.7"/><ellipse rx="4" ry="4.4" stroke="#141414" stroke-opacity="0.8" stroke-width="1.9" fill="#222" fill-opacity="0.3"/><circle cx="-0.5" cy="-0.8" r="0.9" fill="#eee" fill-opacity="0.45"/></g>
<g transform="translate(200 470) rotate(84)" opacity="0.85"><ellipse rx="6.6" ry="6.6" stroke="#fff" stroke-opacity="0.55" stroke-width="1.7"/><ellipse rx="4.3" ry="4.3" stroke="#141414" stroke-opacity="0.8" stroke-width="1.9" fill="#222" fill-opacity="0.3"/><circle cx="0.7" cy="0.5" r="0.9" fill="#eee" fill-opacity="0.45"/></g>
<g transform="translate(120.3 367.9) rotate(31)" opacity="0.35"><ellipse rx="5.9" ry="6.1" stroke="#fff" stroke-opacity="0.55" stroke-width="1.7"/><ellipse rx="3.6" ry="3.8" stroke="#141414" stroke-opacity="0.8" stroke-width="1.9" fill="#222" fill-opacity="0.3"/><circle cx="0.3" cy="0.8" r="0.9" fill="#eee" fill-opacity="0.45"/></g>
<g transform="translate(154.9 384.7) rotate(82)" opacity="0.50"><ellipse rx="5.9" ry="5.8" stroke="#fff" stroke-opacity="0.55" stroke-width="1.7"/><ellipse rx="3.6" ry="3.5" stroke="#141414" stroke-opacity="0.8" stroke-width="1.9" fill="#222" fill-opacity="0.3"/><circle cx="-0.1" cy="0.7" r="0.9" fill="#eee" fill-opacity="0.45"/></g>
<g transform="translate(221.9 233.4) rotate(74)" opacity="0.51"><ellipse rx="5.3" ry="5.6" stroke="#fff" stroke-opacity="0.55" stroke-width="1.7"/><ellipse rx="3" ry="3.3" stroke="#141414" stroke-opacity="0.8" stroke-width="1.9" fill="#222" fill-opacity="0.3"/><circle cx="0.5" cy="0.7" r="0.9" fill="#eee" fill-opacity="0.45"/></g>
<g transform="translate(61.5 450.3) rotate(99)" opacity="0.42"><ellipse rx="5.5" ry="6.2" stroke="#fff" stroke-opacity="0.55" stroke-width="1.7"/><ellipse rx="3.2" ry="3.9" stroke="#141414" stroke-opacity="0.8" stroke-width="1.9" fill="#222" fill-opacity="0.3"/><circle cx="-0.4" cy="0.3" r="0.9" fill="#eee" fill-opacity="0.45"/></g>
<g transform="translate(126 280.8) rotate(67)" opacity="0.43"><ellipse rx="5.8" ry="6.6" stroke="#fff" stroke-opacity="0.55" stroke-width="1.7"/><ellipse rx="3.5" ry="4.3" stroke="#141414" stroke-opacity="0.8" stroke-width="1.9" fill="#222" fill-opacity="0.3"/><circle cx="0.6" cy="0.7" r="0.9" fill="#eee" fill-opacity="0.45"/></g>
<g transform="translate(318.9 347.1) rotate(33)" opacity="0.40"><ellipse rx="5.7" ry="6.6" stroke="#fff" stroke-opacity="0.55" stroke-width="1.7"/><ellipse rx="3.4" ry="4.3" stroke="#141414" stroke-opacity="0.8" stroke-width="1.9" fill="#222" fill-opacity="0.3"/><circle cx="0.5" cy="-0.3" r="0.9" fill="#eee" fill-opacity="0.45"/></g>
<g transform="translate(277.2 348.9) rotate(57)" opacity="0.40"><ellipse rx="6.2" ry="6.2" stroke="#fff" stroke-opacity="0.55" stroke-width="1.7"/><ellipse rx="3.9" ry="3.9" stroke="#141414" stroke-opacity="0.8" stroke-width="1.9" fill="#222" fill-opacity="0.3"/><circle cx="-0.3" cy="-0.6" r="0.9" fill="#eee" fill-opacity="0.45"/></g>
<g transform="translate(225.4 257.3) rotate(41)" opacity="0.35"><ellipse rx="6.2" ry="5.2" stroke="#fff" stroke-opacity="0.55" stroke-width="1.7"/><ellipse rx="3.9" ry="2.9" stroke="#141414" stroke-opacity="0.8" stroke-width="1.9" fill="#222" fill-opacity="0.3"/><circle cx="-0.7" cy="0" r="0.9" fill="#eee" fill-opacity="0.45"/></g>
<g transform="translate(224.3 458.9) rotate(147)" opacity="0.30"><ellipse rx="6.7" ry="6.4" stroke="#fff" stroke-opacity="0.55" stroke-width="1.7"/><ellipse rx="4.4" ry="4.1" stroke="#141414" stroke-opacity="0.8" stroke-width="1.9" fill="#222" fill-opacity="0.3"/><circle cx="-0.3" cy="0.7" r="0.9" fill="#eee" fill-opacity="0.45"/></g>
<g transform="translate(195.1 423.3) rotate(48)" opacity="0.44"><ellipse rx="5.2" ry="5.4" stroke="#fff" stroke-opacity="0.55" stroke-width="1.7"/><ellipse rx="2.9" ry="3.1" stroke="#141414" stroke-opacity="0.8" stroke-width="1.9" fill="#222" fill-opacity="0.3"/><circle cx="-0.7" cy="-0.4" r="0.9" fill="#eee" fill-opacity="0.45"/></g>
<g transform="translate(233.9 233) rotate(32)" opacity="0.55"><ellipse rx="5.9" ry="7" stroke="#fff" stroke-opacity="0.55" stroke-width="1.7"/><ellipse rx="3.6" ry="4.7" stroke="#141414" stroke-opacity="0.8" stroke-width="1.9" fill="#222" fill-opacity="0.3"/><circle cx="0.3" cy="0.2" r="0.9" fill="#eee" fill-opacity="0.45"/></g>
<g transform="translate(256.7 381.1) rotate(32)" opacity="0.35"><ellipse rx="5" ry="5.8" stroke="#fff" stroke-opacity="0.55" stroke-width="1.7"/><ellipse rx="2.7" ry="3.5" stroke="#141414" stroke-opacity="0.8" stroke-width="1.9" fill="#222" fill-opacity="0.3"/><circle cx="0.5" cy="0.6" r="0.9" fill="#eee" fill-opacity="0.45"/></g>
<g transform="translate(136.9 223.7) rotate(69)" opacity="0.33"><ellipse rx="5.9" ry="5.5" stroke="#fff" stroke-opacity="0.55" stroke-width="1.7"/><ellipse rx="3.6" ry="3.2" stroke="#141414" stroke-opacity="0.8" stroke-width="1.9" fill="#222" fill-opacity="0.3"/><circle cx="-0.2" cy="0.8" r="0.9" fill="#eee" fill-opacity="0.45"/></g>
<g transform="translate(284.8 347.8) rotate(23)" opacity="0.39"><ellipse rx="5.3" ry="5.3" stroke="#fff" stroke-opacity="0.55" stroke-width="1.7"/><ellipse rx="3" ry="3" stroke="#141414" stroke-opacity="0.8" stroke-width="1.9" fill="#222" fill-opacity="0.3"/><circle cx="0.7" cy="-0.7" r="0.9" fill="#eee" fill-opacity="0.45"/></g>
<g transform="translate(246.3 461.9) rotate(176)" opacity="0.36"><ellipse rx="6.1" ry="6.1" stroke="#fff" stroke-opacity="0.55" stroke-width="1.7"/><ellipse rx="3.8" ry="3.8" stroke="#141414" stroke-opacity="0.8" stroke-width="1.9" fill="#222" fill-opacity="0.3"/><circle cx="-0.2" cy="0.7" r="0.9" fill="#eee" fill-opacity="0.45"/></g>
<g transform="translate(245.1 473.8) rotate(4)" opacity="0.39"><ellipse rx="6.2" ry="5.7" stroke="#fff" stroke-opacity="0.55" stroke-width="1.7"/><ellipse rx="3.9" ry="3.4" stroke="#141414" stroke-opacity="0.8" stroke-width="1.9" fill="#222" fill-opacity="0.3"/><circle cx="0.4" cy="0.5" r="0.9" fill="#eee" fill-opacity="0.45"/></g>
<g transform="translate(161.5 440.1) rotate(80)" opacity="0.43"><ellipse rx="6" ry="6.1" stroke="#fff" stroke-opacity="0.55" stroke-width="1.7"/><ellipse rx="3.7" ry="3.8" stroke="#141414" stroke-opacity="0.8" stroke-width="1.9" fill="#222" fill-opacity="0.3"/><circle cx="0.5" cy="-0.5" r="0.9" fill="#eee" fill-opacity="0.45"/></g>
<g transform="translate(174.5 477.9) rotate(32)" opacity="0.54"><ellipse rx="6.6" ry="6.5" stroke="#fff" stroke-opacity="0.55" stroke-width="1.7"/><ellipse rx="4.3" ry="4.2" stroke="#141414" stroke-opacity="0.8" stroke-width="1.9" fill="#222" fill-opacity="0.3"/><circle cx="0.5" cy="-0.5" r="0.9" fill="#eee" fill-opacity="0.45"/></g>
<g transform="translate(288.3 242.4) rotate(176)" opacity="0.40"><ellipse rx="5.3" ry="5.2" stroke="#fff" stroke-opacity="0.55" stroke-width="1.7"/><ellipse rx="3" ry="2.9" stroke="#141414" stroke-opacity="0.8" stroke-width="1.9" fill="#222" fill-opacity="0.3"/><circle cx="0.6" cy="-0.6" r="0.9" fill="#eee" fill-opacity="0.45"/></g>
<g transform="translate(93.6 276) rotate(178)" opacity="0.47"><ellipse rx="5.8" ry="5.7" stroke="#fff" stroke-opacity="0.55" stroke-width="1.7"/><ellipse rx="3.5" ry="3.4" stroke="#141414" stroke-opacity="0.8" stroke-width="1.9" fill="#222" fill-opacity="0.3"/><circle cx="0" cy="0.4" r="0.9" fill="#eee" fill-opacity="0.45"/></g>
<g transform="translate(311 337.6) rotate(26)" opacity="0.45"><ellipse rx="5.5" ry="5.4" stroke="#fff" stroke-opacity="0.55" stroke-width="1.7"/><ellipse rx="3.2" ry="3.1" stroke="#141414" stroke-opacity="0.8" stroke-width="1.9" fill="#222" fill-opacity="0.3"/><circle cx="-0.3" cy="0" r="0.9" fill="#eee" fill-opacity="0.45"/></g>
<g transform="translate(222.2 299.6) rotate(108)" opacity="0.55"><ellipse rx="5.6" ry="5.6" stroke="#fff" stroke-opacity="0.55" stroke-width="1.7"/><ellipse rx="3.3" ry="3.3" stroke="#141414" stroke-opacity="0.8" stroke-width="1.9" fill="#222" fill-opacity="0.3"/><circle cx="0.7" cy="0.6" r="0.9" fill="#eee" fill-opacity="0.45"/></g>
<g transform="translate(190.9 323.4) rotate(49)" opacity="0.33"><ellipse rx="6" ry="7" stroke="#fff" stroke-opacity="0.55" stroke-width="1.7"/><ellipse rx="3.7" ry="4.7" stroke="#141414" stroke-opacity="0.8" stroke-width="1.9" fill="#222" fill-opacity="0.3"/><circle cx="0" cy="0.4" r="0.9" fill="#eee" fill-opacity="0.45"/></g>
<g transform="translate(149.9 379.4) rotate(174)" opacity="0.41"><ellipse rx="5.9" ry="5.5" stroke="#fff" stroke-opacity="0.55" stroke-width="1.7"/><ellipse rx="3.6" ry="3.2" stroke="#141414" stroke-opacity="0.8" stroke-width="1.9" fill="#222" fill-opacity="0.3"/><circle cx="-0" cy="0.1" r="0.9" fill="#eee" fill-opacity="0.45"/></g>
<g transform="translate(211.1 469.1) rotate(79)" opacity="0.46"><ellipse rx="7" ry="6.4" stroke="#fff" stroke-opacity="0.55" stroke-width="1.7"/><ellipse rx="4.7" ry="4.1" stroke="#141414" stroke-opacity="0.8" stroke-width="1.9" fill="#222" fill-opacity="0.3"/><circle cx="-0.7" cy="-0.1" r="0.9" fill="#eee" fill-opacity="0.45"/></g>
<g transform="translate(236.7 476) rotate(154)" opacity="0.40"><ellipse rx="6.7" ry="5.7" stroke="#fff" stroke-opacity="0.55" stroke-width="1.7"/><ellipse rx="4.4" ry="3.4" stroke="#141414" stroke-opacity="0.8" stroke-width="1.9" fill="#222" fill-opacity="0.3"/><circle cx="0.8" cy="-0.2" r="0.9" fill="#eee" fill-opacity="0.45"/></g>
<g transform="translate(282.4 493.5) rotate(78)" opacity="0.52"><ellipse rx="5.7" ry="6.1" stroke="#fff" stroke-opacity="0.55" stroke-width="1.7"/><ellipse rx="3.4" ry="3.8" stroke="#141414" stroke-opacity="0.8" stroke-width="1.9" fill="#222" fill-opacity="0.3"/><circle cx="0.3" cy="-0.2" r="0.9" fill="#eee" fill-opacity="0.45"/></g>
<g transform="translate(233.9 260.8) rotate(67)" opacity="0.46"><ellipse rx="5.7" ry="5.6" stroke="#fff" stroke-opacity="0.55" stroke-width="1.7"/><ellipse rx="3.4" ry="3.3" stroke="#141414" stroke-opacity="0.8" stroke-width="1.9" fill="#222" fill-opacity="0.3"/><circle cx="0.6" cy="0.1" r="0.9" fill="#eee" fill-opacity="0.45"/></g>
<g transform="translate(283.5 486.1) rotate(111)" opacity="0.34"><ellipse rx="5.2" ry="5.4" stroke="#fff" stroke-opacity="0.55" stroke-width="1.7"/><ellipse rx="2.9" ry="3.1" stroke="#141414" stroke-opacity="0.8" stroke-width="1.9" fill="#222" fill-opacity="0.3"/><circle cx="-0.7" cy="-0.3" r="0.9" fill="#eee" fill-opacity="0.45"/></g>
<g transform="translate(295 374.9) rotate(166)" opacity="0.43"><ellipse rx="5.1" ry="5.7" stroke="#fff" stroke-opacity="0.55" stroke-width="1.7"/><ellipse rx="2.8" ry="3.4" stroke="#141414" stroke-opacity="0.8" stroke-width="1.9" fill="#222" fill-opacity="0.3"/><circle cx="0.4" cy="0.5" r="0.9" fill="#eee" fill-opacity="0.45"/></g>
<g transform="translate(245 274.3) rotate(123)" opacity="0.33"><ellipse rx="6.9" ry="6.2" stroke="#fff" stroke-opacity="0.55" stroke-width="1.7"/><ellipse rx="4.6" ry="3.9" stroke="#141414" stroke-opacity="0.8" stroke-width="1.9" fill="#222" fill-opacity="0.3"/><circle cx="0.6" cy="-0.2" r="0.9" fill="#eee" fill-opacity="0.45"/></g>
<g transform="translate(275.9 376.2) rotate(34)" opacity="0.51"><ellipse rx="6.4" ry="5.6" stroke="#fff" stroke-opacity="0.55" stroke-width="1.7"/><ellipse rx="4.1" ry="3.3" stroke="#141414" stroke-opacity="0.8" stroke-width="1.9" fill="#222" fill-opacity="0.3"/><circle cx="0.2" cy="-0.7" r="0.9" fill="#eee" fill-opacity="0.45"/></g>
<g transform="translate(132.7 232.8) rotate(150)" opacity="0.35"><ellipse rx="5.2" ry="4.9" stroke="#fff" stroke-opacity="0.55" stroke-width="1.7"/><ellipse rx="2.9" ry="2.6" stroke="#141414" stroke-opacity="0.8" stroke-width="1.9" fill="#222" fill-opacity="0.3"/><circle cx="-0.4" cy="-0.2" r="0.9" fill="#eee" fill-opacity="0.45"/></g>
<g transform="translate(281.7 493.1) rotate(119)" opacity="0.41"><ellipse rx="5.9" ry="6.1" stroke="#fff" stroke-opacity="0.55" stroke-width="1.7"/><ellipse rx="3.6" ry="3.8" stroke="#141414" stroke-opacity="0.8" stroke-width="1.9" fill="#222" fill-opacity="0.3"/><circle cx="-0.6" cy="0.8" r="0.9" fill="#eee" fill-opacity="0.45"/></g>
<g transform="translate(81.2 440) rotate(136)" opacity="0.55"><ellipse rx="5.6" ry="6.1" stroke="#fff" stroke-opacity="0.55" stroke-width="1.7"/><ellipse rx="3.3" ry="3.8" stroke="#141414" stroke-opacity="0.8" stroke-width="1.9" fill="#222" fill-opacity="0.3"/><circle cx="-0.7" cy="-0.8" r="0.9" fill="#eee" fill-opacity="0.45"/></g>
<g transform="translate(165.5 257.4) rotate(149)" opacity="0.38"><ellipse rx="5.8" ry="6.4" stroke="#fff" stroke-opacity="0.55" stroke-width="1.7"/><ellipse rx="3.5" ry="4.1" stroke="#141414" stroke-opacity="0.8" stroke-width="1.9" fill="#222" fill-opacity="0.3"/><circle cx="-0.1" cy="0.1" r="0.9" fill="#eee" fill-opacity="0.45"/></g>
<g transform="translate(135 431) rotate(16)" opacity="0.46"><ellipse rx="6" ry="6.2" stroke="#fff" stroke-opacity="0.55" stroke-width="1.7"/><ellipse rx="3.7" ry="3.9" stroke="#141414" stroke-opacity="0.8" stroke-width="1.9" fill="#222" fill-opacity="0.3"/><circle cx="-0.8" cy="0.7" r="0.9" fill="#eee" fill-opacity="0.45"/></g>
<g transform="translate(286.7 227.4) rotate(42)" opacity="0.42"><ellipse rx="6.1" ry="5.4" stroke="#fff" stroke-opacity="0.55" stroke-width="1.7"/><ellipse rx="3.8" ry="3.1" stroke="#141414" stroke-opacity="0.8" stroke-width="1.9" fill="#222" fill-opacity="0.3"/><circle cx="0.6" cy="0.1" r="0.9" fill="#eee" fill-opacity="0.45"/></g>
<g transform="translate(219 227.6) rotate(95)" opacity="0.35"><ellipse rx="6.3" ry="5.9" stroke="#fff" stroke-opacity="0.55" stroke-width="1.7"/><ellipse rx="4" ry="3.6" stroke="#141414" stroke-opacity="0.8" stroke-width="1.9" fill="#222" fill-opacity="0.3"/><circle cx="-0.3" cy="0.6" r="0.9" fill="#eee" fill-opacity="0.45"/></g>
<g transform="translate(246.2 308) rotate(64)" opacity="0.49"><ellipse rx="5.6" ry="5.7" stroke="#fff" stroke-opacity="0.55" stroke-width="1.7"/><ellipse rx="3.3" ry="3.4" stroke="#141414" stroke-opacity="0.8" stroke-width="1.9" fill="#222" fill-opacity="0.3"/><circle cx="0.7" cy="0.6" r="0.9" fill="#eee" fill-opacity="0.45"/></g>
<g transform="translate(288.8 490.6) rotate(78)" opacity="0.38"><ellipse rx="5.8" ry="5.6" stroke="#fff" stroke-opacity="0.55" stroke-width="1.7"/><ellipse rx="3.5" ry="3.3" stroke="#141414" stroke-opacity="0.8" stroke-width="1.9" fill="#222" fill-opacity="0.3"/><circle cx="-0.5" cy="0.6" r="0.9" fill="#eee" fill-opacity="0.45"/></g>
<g transform="translate(190.4 495.6) rotate(22)" opacity="0.53"><ellipse rx="6" ry="6.1" stroke="#fff" stroke-opacity="0.55" stroke-width="1.7"/><ellipse rx="3.7" ry="3.8" stroke="#141414" stroke-opacity="0.8" stroke-width="1.9" fill="#222" fill-opacity="0.3"/><circle cx="-0.2" cy="-0.5" r="0.9" fill="#eee" fill-opacity="0.45"/></g>
<g transform="translate(139.1 236.6) rotate(69)" opacity="0.51"><ellipse rx="5.1" ry="5.6" stroke="#fff" stroke-opacity="0.55" stroke-width="1.7"/><ellipse rx="2.8" ry="3.3" stroke="#141414" stroke-opacity="0.8" stroke-width="1.9" fill="#222" fill-opacity="0.3"/><circle cx="0.5" cy="-0.7" r="0.9" fill="#eee" fill-opacity="0.45"/></g>
<g transform="translate(215.1 223.8) rotate(45)" opacity="0.37"><ellipse rx="5.7" ry="5.4" stroke="#fff" stroke-opacity="0.55" stroke-width="1.7"/><ellipse rx="3.4" ry="3.1" stroke="#141414" stroke-opacity="0.8" stroke-width="1.9" fill="#222" fill-opacity="0.3"/><circle cx="0.3" cy="-0.3" r="0.9" fill="#eee" fill-opacity="0.45"/></g>
<g transform="translate(109.7 329.6) rotate(102)" opacity="0.36"><ellipse rx="5.2" ry="5.4" stroke="#fff" stroke-opacity="0.55" stroke-width="1.7"/><ellipse rx="2.9" ry="3.1" stroke="#141414" stroke-opacity="0.8" stroke-width="1.9" fill="#222" fill-opacity="0.3"/><circle cx="0.3" cy="-0.5" r="0.9" fill="#eee" fill-opacity="0.45"/></g>
<g transform="translate(217.9 258.9) rotate(135)" opacity="0.40"><ellipse rx="6.3" ry="5.7" stroke="#fff" stroke-opacity="0.55" stroke-width="1.7"/><ellipse rx="4" ry="3.4" stroke="#141414" stroke-opacity="0.8" stroke-width="1.9" fill="#222" fill-opacity="0.3"/><circle cx="0.1" cy="0.2" r="0.9" fill="#eee" fill-opacity="0.45"/></g>
<g transform="translate(69.1 458.8) rotate(142)" opacity="0.52"><ellipse rx="6" ry="5.5" stroke="#fff" stroke-opacity="0.55" stroke-width="1.7"/><ellipse rx="3.7" ry="3.2" stroke="#141414" stroke-opacity="0.8" stroke-width="1.9" fill="#222" fill-opacity="0.3"/><circle cx="-0" cy="0.1" r="0.9" fill="#eee" fill-opacity="0.45"/></g>
<g transform="translate(140.2 484.4) rotate(40)" opacity="0.50"><ellipse rx="6.1" ry="5.9" stroke="#fff" stroke-opacity="0.55" stroke-width="1.7"/><ellipse rx="3.8" ry="3.6" stroke="#141414" stroke-opacity="0.8" stroke-width="1.9" fill="#222" fill-opacity="0.3"/><circle cx="0.8" cy="-0.2" r="0.9" fill="#eee" fill-opacity="0.45"/></g>
<g transform="translate(292.9 321.2) rotate(129)" opacity="0.39"><ellipse rx="6.5" ry="6" stroke="#fff" stroke-opacity="0.55" stroke-width="1.7"/><ellipse rx="4.2" ry="3.7" stroke="#141414" stroke-opacity="0.8" stroke-width="1.9" fill="#222" fill-opacity="0.3"/><circle cx="0.4" cy="0.1" r="0.9" fill="#eee" fill-opacity="0.45"/></g>
<g transform="translate(178.6 361.1) rotate(86)" opacity="0.44"><ellipse rx="5.5" ry="5.9" stroke="#fff" stroke-opacity="0.55" stroke-width="1.7"/><ellipse rx="3.2" ry="3.6" stroke="#141414" stroke-opacity="0.8" stroke-width="1.9" fill="#222" fill-opacity="0.3"/><circle cx="0.6" cy="-0.1" r="0.9" fill="#eee" fill-opacity="0.45"/></g>
<g transform="translate(226.7 382.4) rotate(37)" opacity="0.33"><ellipse rx="6" ry="6.3" stroke="#fff" stroke-opacity="0.55" stroke-width="1.7"/><ellipse rx="3.7" ry="4" stroke="#141414" stroke-opacity="0.8" stroke-width="1.9" fill="#222" fill-opacity="0.3"/><circle cx="0.4" cy="0.1" r="0.9" fill="#eee" fill-opacity="0.45"/></g>
<g transform="translate(204.5 389.3) rotate(97)" opacity="0.55"><ellipse rx="6.2" ry="6.2" stroke="#fff" stroke-opacity="0.55" stroke-width="1.7"/><ellipse rx="3.9" ry="3.9" stroke="#141414" stroke-opacity="0.8" stroke-width="1.9" fill="#222" fill-opacity="0.3"/><circle cx="0.5" cy="0.4" r="0.9" fill="#eee" fill-opacity="0.45"/></g>
<g transform="translate(304.4 357.5) rotate(132)" opacity="0.39"><ellipse rx="5.1" ry="5.9" stroke="#fff" stroke-opacity="0.55" stroke-width="1.7"/><ellipse rx="2.8" ry="3.6" stroke="#141414" stroke-opacity="0.8" stroke-width="1.9" fill="#222" fill-opacity="0.3"/><circle cx="-0" cy="0.1" r="0.9" fill="#eee" fill-opacity="0.45"/></g>
<g transform="translate(171 417.4) rotate(69)" opacity="0.33"><ellipse rx="5.9" ry="5.7" stroke="#fff" stroke-opacity="0.55" stroke-width="1.7"/><ellipse rx="3.6" ry="3.4" stroke="#141414" stroke-opacity="0.8" stroke-width="1.9" fill="#222" fill-opacity="0.3"/><circle cx="0.1" cy="-0.3" r="0.9" fill="#eee" fill-opacity="0.45"/></g>
<g transform="translate(120.3 299.6) rotate(35)" opacity="0.40"><ellipse rx="5.8" ry="6.1" stroke="#fff" stroke-opacity="0.55" stroke-width="1.7"/><ellipse rx="3.5" ry="3.8" stroke="#141414" stroke-opacity="0.8" stroke-width="1.9" fill="#222" fill-opacity="0.3"/><circle cx="0.1" cy="-0.6" r="0.9" fill="#eee" fill-opacity="0.45"/></g>
<g transform="translate(314.2 361.4) rotate(91)" opacity="0.34"><ellipse rx="5.4" ry="5.1" stroke="#fff" stroke-opacity="0.55" stroke-width="1.7"/><ellipse rx="3.1" ry="2.8" stroke="#141414" stroke-opacity="0.8" stroke-width="1.9" fill="#222" fill-opacity="0.3"/><circle cx="-0.6" cy="0.1" r="0.9" fill="#eee" fill-opacity="0.45"/></g>
<g transform="translate(201.7 218.2) rotate(72)" opacity="0.32"><ellipse rx="6.9" ry="6.4" stroke="#fff" stroke-opacity="0.55" stroke-width="1.7"/><ellipse rx="4.6" ry="4.1" stroke="#141414" stroke-opacity="0.8" stroke-width="1.9" fill="#222" fill-opacity="0.3"/><circle cx="-0.4" cy="-0.3" r="0.9" fill="#eee" fill-opacity="0.45"/></g>
<g transform="translate(166.8 378) rotate(86)" opacity="0.41"><ellipse rx="5.9" ry="7.1" stroke="#fff" stroke-opacity="0.55" stroke-width="1.7"/><ellipse rx="3.6" ry="4.8" stroke="#141414" stroke-opacity="0.8" stroke-width="1.9" fill="#222" fill-opacity="0.3"/><circle cx="-0.4" cy="0.7" r="0.9" fill="#eee" fill-opacity="0.45"/></g>
<g transform="translate(63.3 388) rotate(36)" opacity="0.36"><ellipse rx="5.7" ry="5.6" stroke="#fff" stroke-opacity="0.55" stroke-width="1.7"/><ellipse rx="3.4" ry="3.3" stroke="#141414" stroke-opacity="0.8" stroke-width="1.9" fill="#222" fill-opacity="0.3"/><circle cx="0.8" cy="0.5" r="0.9" fill="#eee" fill-opacity="0.45"/></g>
<g transform="translate(223.6 231.9) rotate(127)" opacity="0.49"><ellipse rx="6.7" ry="5.7" stroke="#fff" stroke-opacity="0.55" stroke-width="1.7"/><ellipse rx="4.4" ry="3.4" stroke="#141414" stroke-opacity="0.8" stroke-width="1.9" fill="#222" fill-opacity="0.3"/><circle cx="-0.4" cy="-0.1" r="0.9" fill="#eee" fill-opacity="0.45"/></g>
<g transform="translate(222.4 346) rotate(30)" opacity="0.47"><ellipse rx="6.2" ry="6.8" stroke="#fff" stroke-opacity="0.55" stroke-width="1.7"/><ellipse rx="3.9" ry="4.5" stroke="#141414" stroke-opacity="0.8" stroke-width="1.9" fill="#222" fill-opacity="0.3"/><circle cx="-0.4" cy="0" r="0.9" fill="#eee" fill-opacity="0.45"/></g>
<g transform="translate(236 314.1) rotate(91)" opacity="0.47"><ellipse rx="6.2" ry="6.1" stroke="#fff" stroke-opacity="0.55" stroke-width="1.7"/><ellipse rx="3.9" ry="3.8" stroke="#141414" stroke-opacity="0.8" stroke-width="1.9" fill="#222" fill-opacity="0.3"/><circle cx="-0.1" cy="0.5" r="0.9" fill="#eee" fill-opacity="0.45"/></g>
<g transform="translate(243.2 422.4) rotate(70)" opacity="0.31"><ellipse rx="5.7" ry="5.8" stroke="#fff" stroke-opacity="0.55" stroke-width="1.7"/><ellipse rx="3.4" ry="3.5" stroke="#141414" stroke-opacity="0.8" stroke-width="1.9" fill="#222" fill-opacity="0.3"/><circle cx="-0.5" cy="0.2" r="0.9" fill="#eee" fill-opacity="0.45"/></g>
<g transform="translate(63.8 232) rotate(172)" opacity="0.51"><ellipse rx="5.9" ry="5.6" stroke="#fff" stroke-opacity="0.55" stroke-width="1.7"/><ellipse rx="3.6" ry="3.3" stroke="#141414" stroke-opacity="0.8" stroke-width="1.9" fill="#222" fill-opacity="0.3"/><circle cx="0.4" cy="-0.2" r="0.9" fill="#eee" fill-opacity="0.45"/></g>
<g transform="translate(235.1 485.7) rotate(166)" opacity="0.35"><ellipse rx="5.5" ry="5.7" stroke="#fff" stroke-opacity="0.55" stroke-width="1.7"/><ellipse rx="3.2" ry="3.4" stroke="#141414" stroke-opacity="0.8" stroke-width="1.9" fill="#222" fill-opacity="0.3"/><circle cx="-0.5" cy="0.8" r="0.9" fill="#eee" fill-opacity="0.45"/></g>
<g transform="translate(123.8 343.2) rotate(27)" opacity="0.44"><ellipse rx="6.2" ry="6.5" stroke="#fff" stroke-opacity="0.55" stroke-width="1.7"/><ellipse rx="3.9" ry="4.2" stroke="#141414" stroke-opacity="0.8" stroke-width="1.9" fill="#222" fill-opacity="0.3"/><circle cx="0.3" cy="0.2" r="0.9" fill="#eee" fill-opacity="0.45"/></g>
<g transform="translate(213.3 304.9) rotate(159)" opacity="0.34"><ellipse rx="5.2" ry="5.7" stroke="#fff" stroke-opacity="0.55" stroke-width="1.7"/><ellipse rx="2.9" ry="3.4" stroke="#141414" stroke-opacity="0.8" stroke-width="1.9" fill="#222" fill-opacity="0.3"/><circle cx="-0.8" cy="-0.7" r="0.9" fill="#eee" fill-opacity="0.45"/></g>
<g transform="translate(153.4 302.9) rotate(179)" opacity="0.45"><ellipse rx="6.1" ry="6.2" stroke="#fff" stroke-opacity="0.55" stroke-width="1.7"/><ellipse rx="3.8" ry="3.9" stroke="#141414" stroke-opacity="0.8" stroke-width="1.9" fill="#222" fill-opacity="0.3"/><circle cx="-0.4" cy="0.3" r="0.9" fill="#eee" fill-opacity="0.45"/></g>
<g transform="translate(154.7 382.4) rotate(31)" opacity="0.31"><ellipse rx="5.1" ry="5.6" stroke="#fff" stroke-opacity="0.55" stroke-width="1.7"/><ellipse rx="2.8" ry="3.3" stroke="#141414" stroke-opacity="0.8" stroke-width="1.9" fill="#222" fill-opacity="0.3"/><circle cx="0" cy="-0.3" r="0.9" fill="#eee" fill-opacity="0.45"/></g>
<g transform="translate(136.7 321) rotate(70)" opacity="0.50"><ellipse rx="5.9" ry="6.9" stroke="#fff" stroke-opacity="0.55" stroke-width="1.7"/><ellipse rx="3.6" ry="4.6" stroke="#141414" stroke-opacity="0.8" stroke-width="1.9" fill="#222" fill-opacity="0.3"/><circle cx="-0.1" cy="0.3" r="0.9" fill="#eee" fill-opacity="0.45"/></g>
<g transform="translate(260.3 222.6) rotate(144)" opacity="0.39"><ellipse rx="5.4" ry="5.7" stroke="#fff" stroke-opacity="0.55" stroke-width="1.7"/><ellipse rx="3.1" ry="3.4" stroke="#141414" stroke-opacity="0.8" stroke-width="1.9" fill="#222" fill-opacity="0.3"/><circle cx="-0.4" cy="-0.1" r="0.9" fill="#eee" fill-opacity="0.45"/></g>
<g transform="translate(207.1 421.6) rotate(98)" opacity="0.45"><ellipse rx="5.3" ry="5.6" stroke="#fff" stroke-opacity="0.55" stroke-width="1.7"/><ellipse rx="3" ry="3.3" stroke="#141414" stroke-opacity="0.8" stroke-width="1.9" fill="#222" fill-opacity="0.3"/><circle cx="-0.3" cy="-0.8" r="0.9" fill="#eee" fill-opacity="0.45"/></g>
<g transform="translate(139.2 277.5) rotate(102)" opacity="0.37"><ellipse rx="5.2" ry="5.1" stroke="#fff" stroke-opacity="0.55" stroke-width="1.7"/><ellipse rx="2.9" ry="2.8" stroke="#141414" stroke-opacity="0.8" stroke-width="1.9" fill="#222" fill-opacity="0.3"/><circle cx="0.4" cy="0.2" r="0.9" fill="#eee" fill-opacity="0.45"/></g>
<g transform="translate(268.6 282.1) rotate(77)" opacity="0.38"><ellipse rx="6.4" ry="6.1" stroke="#fff" stroke-opacity="0.55" stroke-width="1.7"/><ellipse rx="4.1" ry="3.8" stroke="#141414" stroke-opacity="0.8" stroke-width="1.9" fill="#222" fill-opacity="0.3"/><circle cx="-0.7" cy="0.5" r="0.9" fill="#eee" fill-opacity="0.45"/></g>
<g transform="translate(107.1 337.3) rotate(105)" opacity="0.46"><ellipse rx="5.4" ry="6.5" stroke="#fff" stroke-opacity="0.55" stroke-width="1.7"/><ellipse rx="3.1" ry="4.2" stroke="#141414" stroke-opacity="0.8" stroke-width="1.9" fill="#222" fill-opacity="0.3"/><circle cx="-0.1" cy="-0.6" r="0.9" fill="#eee" fill-opacity="0.45"/></g>
<g transform="translate(240.9 243.6) rotate(180)" opacity="0.33"><ellipse rx="6" ry="6.3" stroke="#fff" stroke-opacity="0.55" stroke-width="1.7"/><ellipse rx="3.7" ry="4" stroke="#141414" stroke-opacity="0.8" stroke-width="1.9" fill="#222" fill-opacity="0.3"/><circle cx="-0" cy="-0" r="0.9" fill="#eee" fill-opacity="0.45"/></g>
<g transform="translate(142.4 308.8) rotate(2)" opacity="0.42"><ellipse rx="6.1" ry="5.6" stroke="#fff" stroke-opacity="0.55" stroke-width="1.7"/><ellipse rx="3.8" ry="3.3" stroke="#141414" stroke-opacity="0.8" stroke-width="1.9" fill="#222" fill-opacity="0.3"/><circle cx="-0.8" cy="0.3" r="0.9" fill="#eee" fill-opacity="0.45"/></g>
<g transform="translate(276.4 338.2) rotate(122)" opacity="0.38"><ellipse rx="6.9" ry="5.7" stroke="#fff" stroke-opacity="0.55" stroke-width="1.7"/><ellipse rx="4.6" ry="3.4" stroke="#141414" stroke-opacity="0.8" stroke-width="1.9" fill="#222" fill-opacity="0.3"/><circle cx="-0" cy="-0.3" r="0.9" fill="#eee" fill-opacity="0.45"/></g>
<g transform="translate(282.2 262.6) rotate(16)" opacity="0.54"><ellipse rx="5.3" ry="5.9" stroke="#fff" stroke-opacity="0.55" stroke-width="1.7"/><ellipse rx="3" ry="3.6" stroke="#141414" stroke-opacity="0.8" stroke-width="1.9" fill="#222" fill-opacity="0.3"/><circle cx="-0.7" cy="0.7" r="0.9" fill="#eee" fill-opacity="0.45"/></g>
<g transform="translate(146.2 397.7) rotate(96)" opacity="0.49"><ellipse rx="5.1" ry="5.9" stroke="#fff" stroke-opacity="0.55" stroke-width="1.7"/><ellipse rx="2.8" ry="3.6" stroke="#141414" stroke-opacity="0.8" stroke-width="1.9" fill="#222" fill-opacity="0.3"/><circle cx="0" cy="0.2" r="0.9" fill="#eee" fill-opacity="0.45"/></g>
<g transform="translate(289.8 341.8) rotate(173)" opacity="0.30"><ellipse rx="5.7" ry="5.5" stroke="#fff" stroke-opacity="0.55" stroke-width="1.7"/><ellipse rx="3.4" ry="3.2" stroke="#141414" stroke-opacity="0.8" stroke-width="1.9" fill="#222" fill-opacity="0.3"/><circle cx="-0.7" cy="0.3" r="0.9" fill="#eee" fill-opacity="0.45"/></g>
<g transform="translate(117 249) rotate(101)" opacity="0.40"><ellipse rx="6.3" ry="6.7" stroke="#fff" stroke-opacity="0.55" stroke-width="1.7"/><ellipse rx="4" ry="4.4" stroke="#141414" stroke-opacity="0.8" stroke-width="1.9" fill="#222" fill-opacity="0.3"/><circle cx="-0.1" cy="0.2" r="0.9" fill="#eee" fill-opacity="0.45"/></g>
<g transform="translate(196.8 268.6) rotate(46)" opacity="0.42"><ellipse rx="5.2" ry="5.7" stroke="#fff" stroke-opacity="0.55" stroke-width="1.7"/><ellipse rx="2.9" ry="3.4" stroke="#141414" stroke-opacity="0.8" stroke-width="1.9" fill="#222" fill-opacity="0.3"/><circle cx="-0.4" cy="-0.2" r="0.9" fill="#eee" fill-opacity="0.45"/></g>
<g transform="translate(269.4 450.6) rotate(86)" opacity="0.35"><ellipse rx="6.4" ry="6.7" stroke="#fff" stroke-opacity="0.55" stroke-width="1.7"/><ellipse rx="4.1" ry="4.4" stroke="#141414" stroke-opacity="0.8" stroke-width="1.9" fill="#222" fill-opacity="0.3"/><circle cx="-0.3" cy="-0.7" r="0.9" fill="#eee" fill-opacity="0.45"/></g>
<g transform="translate(106.1 293.3) rotate(43)" opacity="0.35"><ellipse rx="5.7" ry="5.8" stroke="#fff" stroke-opacity="0.55" stroke-width="1.7"/><ellipse rx="3.4" ry="3.5" stroke="#141414" stroke-opacity="0.8" stroke-width="1.9" fill="#222" fill-opacity="0.3"/><circle cx="-0.6" cy="-0.5" r="0.9" fill="#eee" fill-opacity="0.45"/></g>
<g transform="translate(269.5 395.4) rotate(102)" opacity="0.39"><ellipse rx="5.6" ry="6.4" stroke="#fff" stroke-opacity="0.55" stroke-width="1.7"/><ellipse rx="3.3" ry="4.1" stroke="#141414" stroke-opacity="0.8" stroke-width="1.9" fill="#222" fill-opacity="0.3"/><circle cx="-0.1" cy="-0.7" r="0.9" fill="#eee" fill-opacity="0.45"/></g>
<g transform="translate(269.2 312) rotate(131)" opacity="0.37"><ellipse rx="6.5" ry="6" stroke="#fff" stroke-opacity="0.55" stroke-width="1.7"/><ellipse rx="4.2" ry="3.7" stroke="#141414" stroke-opacity="0.8" stroke-width="1.9" fill="#222" fill-opacity="0.3"/><circle cx="-0.4" cy="-0.4" r="0.9" fill="#eee" fill-opacity="0.45"/></g>
<g transform="translate(92 297) rotate(131)" opacity="0.33"><ellipse rx="5.7" ry="5.8" stroke="#fff" stroke-opacity="0.55" stroke-width="1.7"/><ellipse rx="3.4" ry="3.5" stroke="#141414" stroke-opacity="0.8" stroke-width="1.9" fill="#222" fill-opacity="0.3"/><circle cx="0.4" cy="-0" r="0.9" fill="#eee" fill-opacity="0.45"/></g>
<g transform="translate(266 291.2) rotate(36)" opacity="0.40"><ellipse rx="5.8" ry="5.7" stroke="#fff" stroke-opacity="0.55" stroke-width="1.7"/><ellipse rx="3.5" ry="3.4" stroke="#141414" stroke-opacity="0.8" stroke-width="1.9" fill="#222" fill-opacity="0.3"/><circle cx="0.2" cy="0.3" r="0.9" fill="#eee" fill-opacity="0.45"/></g>
<g transform="translate(148.7 332.2) rotate(144)" opacity="0.48"><ellipse rx="6" ry="7" stroke="#fff" stroke-opacity="0.55" stroke-width="1.7"/><ellipse rx="3.7" ry="4.7" stroke="#141414" stroke-opacity="0.8" stroke-width="1.9" fill="#222" fill-opacity="0.3"/><circle cx="0.8" cy="-0.6" r="0.9" fill="#eee" fill-opacity="0.45"/></g>
<path d="M71.3 87.8A3.6 3.6 0 0 0 66.3 82.6" stroke="#0c0c0c" stroke-opacity="0.45" stroke-width="2.4"/>
<path d="M65.2 82.8A4.4 4.4 0 0 0 71.2 88.8" stroke="#fff" stroke-opacity="0.38" stroke-width="1.7"/>
<path d="M98.6 92.4A4.3 4.3 0 0 0 92.9 86.1" stroke="#0c0c0c" stroke-opacity="0.45" stroke-width="2.4"/>
<path d="M91.7 86.2A5.1 5.1 0 0 0 98.3 93.5" stroke="#fff" stroke-opacity="0.38" stroke-width="1.7"/>
<path d="M90.7 109.3A4.3 4.3 0 0 0 84.8 103.2" stroke="#0c0c0c" stroke-opacity="0.45" stroke-width="2.4"/>
<path d="M83.6 103.4A5.1 5.1 0 0 0 90.5 110.4" stroke="#fff" stroke-opacity="0.38" stroke-width="1.7"/>
<path d="M88.3 120.1A3.4 3.4 0 0 0 85.1 114.2" stroke="#0c0c0c" stroke-opacity="0.45" stroke-width="2.4"/>
<path d="M84.1 114A4.2 4.2 0 0 0 88 121.1" stroke="#fff" stroke-opacity="0.38" stroke-width="1.7"/>
<path d="M58.8 131.4A4.4 4.4 0 0 0 52.7 125.1" stroke="#0c0c0c" stroke-opacity="0.45" stroke-width="2.4"/>
<path d="M51.6 125.3A5.2 5.2 0 0 0 58.5 132.5" stroke="#fff" stroke-opacity="0.38" stroke-width="1.7"/>
<path d="M99.4 148.8A3.7 3.7 0 0 0 94.1 143.6" stroke="#0c0c0c" stroke-opacity="0.45" stroke-width="2.4"/>
<path d="M93 143.8A4.5 4.5 0 0 0 99.3 149.9" stroke="#fff" stroke-opacity="0.38" stroke-width="1.7"/>
<path d="M168.4 81.6A4.4 4.4 0 0 0 163 74.8" stroke="#0c0c0c" stroke-opacity="0.45" stroke-width="2.4"/>
<path d="M161.8 74.9A5.2 5.2 0 0 0 168.1 82.7" stroke="#fff" stroke-opacity="0.38" stroke-width="1.7"/>
<path d="M166 93.1A3.7 3.7 0 0 0 161.5 87.3" stroke="#0c0c0c" stroke-opacity="0.45" stroke-width="2.4"/>
<path d="M160.4 87.3A4.5 4.5 0 0 0 165.8 94.1" stroke="#fff" stroke-opacity="0.38" stroke-width="1.7"/>
<path d="M173.2 102.4A3.2 3.2 0 0 0 168.5 98" stroke="#0c0c0c" stroke-opacity="0.45" stroke-width="2.4"/>
<path d="M167.4 98.1A4 4 0 0 0 173.1 103.4" stroke="#fff" stroke-opacity="0.38" stroke-width="1.7"/>
<path d="M184.5 102A3.9 3.9 0 0 0 179 96.5" stroke="#0c0c0c" stroke-opacity="0.45" stroke-width="2.4"/>
<path d="M178 96.6A4.7 4.7 0 0 0 184.3 103.1" stroke="#fff" stroke-opacity="0.38" stroke-width="1.7"/>
<path d="M168.4 121A3.8 3.8 0 0 0 163.1 115.5" stroke="#0c0c0c" stroke-opacity="0.45" stroke-width="2.4"/>
<path d="M162 115.6A4.6 4.6 0 0 0 168.2 122.1" stroke="#fff" stroke-opacity="0.38" stroke-width="1.7"/>
<path d="M182.7 123.8A4.2 4.2 0 0 0 178.6 116.5" stroke="#0c0c0c" stroke-opacity="0.45" stroke-width="2.4"/>
<path d="M177.5 116.4A5 5 0 0 0 182.2 124.8" stroke="#fff" stroke-opacity="0.38" stroke-width="1.7"/>
<path d="M218.6 115.3A4.6 4.6 0 0 0 214.7 107.1" stroke="#0c0c0c" stroke-opacity="0.45" stroke-width="2.4"/>
<path d="M213.5 106.9A5.4 5.4 0 0 0 218 116.3" stroke="#fff" stroke-opacity="0.38" stroke-width="1.7"/>
<path d="M244.8 134A4.4 4.4 0 0 0 240.5 126.3" stroke="#0c0c0c" stroke-opacity="0.45" stroke-width="2.4"/>
<path d="M239.4 126.2A5.2 5.2 0 0 0 244.2 135.1" stroke="#fff" stroke-opacity="0.38" stroke-width="1.7"/>
<path d="M174 143.8A4.3 4.3 0 0 0 169.3 136.6" stroke="#0c0c0c" stroke-opacity="0.45" stroke-width="2.4"/>
<path d="M168.2 136.6A5.1 5.1 0 0 0 173.6 144.9" stroke="#fff" stroke-opacity="0.38" stroke-width="1.7"/>
<path d="M162.2 146.5A3.3 3.3 0 0 0 157.4 142" stroke="#0c0c0c" stroke-opacity="0.45" stroke-width="2.4"/>
<path d="M156.4 142.1A4.1 4.1 0 0 0 162.2 147.5" stroke="#fff" stroke-opacity="0.38" stroke-width="1.7"/>
<path d="M151.7 145.4A4.4 4.4 0 0 0 144 141.3" stroke="#0c0c0c" stroke-opacity="0.45" stroke-width="2.4"/>
<path d="M143 141.9A5.2 5.2 0 0 0 151.8 146.5" stroke="#fff" stroke-opacity="0.38" stroke-width="1.7"/>
<path d="M134 147.9A4.4 4.4 0 0 0 125.7 144.8" stroke="#0c0c0c" stroke-opacity="0.45" stroke-width="2.4"/>
<path d="M124.8 145.5A5.2 5.2 0 0 0 134.2 149.1" stroke="#fff" stroke-opacity="0.38" stroke-width="1.7"/>
<path d="M121.8 158.7A3.3 3.3 0 0 0 117.7 153.6" stroke="#0c0c0c" stroke-opacity="0.45" stroke-width="2.4"/>
<path d="M116.7 153.6A4.1 4.1 0 0 0 121.7 159.7" stroke="#fff" stroke-opacity="0.38" stroke-width="1.7"/>
<path d="M194.7 160A3.3 3.3 0 0 0 189 156.5" stroke="#0c0c0c" stroke-opacity="0.45" stroke-width="2.4"/>
<path d="M188 156.8A4.1 4.1 0 0 0 194.8 161" stroke="#fff" stroke-opacity="0.38" stroke-width="1.7"/>
<path d="M213 148.3A3.8 3.8 0 0 0 206.6 144.2" stroke="#0c0c0c" stroke-opacity="0.45" stroke-width="2.4"/>
<path d="M205.6 144.6A4.6 4.6 0 0 0 213.1 149.4" stroke="#fff" stroke-opacity="0.38" stroke-width="1.7"/>
<path d="M211.9 163.8A4.3 4.3 0 0 0 203.8 160.9" stroke="#0c0c0c" stroke-opacity="0.45" stroke-width="2.4"/>
<path d="M202.9 161.5A5.1 5.1 0 0 0 212.2 164.9" stroke="#fff" stroke-opacity="0.38" stroke-width="1.7"/>
<path d="M255.5 152.2A4.1 4.1 0 0 0 248.1 148.5" stroke="#0c0c0c" stroke-opacity="0.45" stroke-width="2.4"/>
<path d="M247.1 149A4.9 4.9 0 0 0 255.7 153.3" stroke="#fff" stroke-opacity="0.38" stroke-width="1.7"/>
<path d="M251.3 175.8A4 4 0 0 0 248.1 168.5" stroke="#0c0c0c" stroke-opacity="0.45" stroke-width="2.4"/>
<path d="M247 168.3A4.8 4.8 0 0 0 250.7 176.7" stroke="#fff" stroke-opacity="0.38" stroke-width="1.7"/>
<path d="M289.5 160.2A4.4 4.4 0 0 0 285.8 152.1" stroke="#0c0c0c" stroke-opacity="0.45" stroke-width="2.4"/>
<path d="M284.7 152A5.2 5.2 0 0 0 288.9 161.2" stroke="#fff" stroke-opacity="0.38" stroke-width="1.7"/>
<path d="M306.8 155.8A3.3 3.3 0 0 0 301 152.7" stroke="#0c0c0c" stroke-opacity="0.45" stroke-width="2.4"/>
<path d="M300 153A4.1 4.1 0 0 0 307 156.8" stroke="#fff" stroke-opacity="0.38" stroke-width="1.7"/>
<path d="M302.7 100.4A3.6 3.6 0 0 0 296.9 96.1" stroke="#0c0c0c" stroke-opacity="0.45" stroke-width="2.4"/>
<path d="M295.9 96.4A4.4 4.4 0 0 0 302.7 101.5" stroke="#fff" stroke-opacity="0.38" stroke-width="1.7"/>
<path d="M249.4 80.9A3.2 3.2 0 0 0 246.1 75.4" stroke="#0c0c0c" stroke-opacity="0.45" stroke-width="2.4"/>
<path d="M245.1 75.2A4 4 0 0 0 249.1 81.9" stroke="#fff" stroke-opacity="0.38" stroke-width="1.7"/>
<path d="M261.2 88A4.2 4.2 0 0 0 258.1 80.3" stroke="#0c0c0c" stroke-opacity="0.45" stroke-width="2.4"/>
<path d="M257 80A5 5 0 0 0 260.6 89" stroke="#fff" stroke-opacity="0.38" stroke-width="1.7"/>
<path d="M239.5 97.8A3.9 3.9 0 0 0 232.3 94.8" stroke="#0c0c0c" stroke-opacity="0.45" stroke-width="2.4"/>
<path d="M231.3 95.3A4.7 4.7 0 0 0 239.7 98.9" stroke="#fff" stroke-opacity="0.38" stroke-width="1.7"/>
<path d="M81.7 188.2A3.5 3.5 0 0 0 76 184.3" stroke="#0c0c0c" stroke-opacity="0.45" stroke-width="2.4"/>
<path d="M75 184.5A4.3 4.3 0 0 0 81.8 189.3" stroke="#fff" stroke-opacity="0.38" stroke-width="1.7"/>
<path d="M109.1 199.9A4.2 4.2 0 0 0 102.5 194.6" stroke="#0c0c0c" stroke-opacity="0.45" stroke-width="2.4"/>
<path d="M101.4 194.9A5 5 0 0 0 109 201.1" stroke="#fff" stroke-opacity="0.38" stroke-width="1.7"/>
<path d="M187.3 188.8A4.3 4.3 0 0 0 180.3 183.9" stroke="#0c0c0c" stroke-opacity="0.45" stroke-width="2.4"/>
<path d="M179.2 184.3A5.1 5.1 0 0 0 187.3 189.9" stroke="#fff" stroke-opacity="0.38" stroke-width="1.7"/>
<path d="M211.3 194.9A3.2 3.2 0 0 0 208.2 189.3" stroke="#0c0c0c" stroke-opacity="0.45" stroke-width="2.4"/>
<path d="M207.2 189.1A4 4 0 0 0 211 195.9" stroke="#fff" stroke-opacity="0.38" stroke-width="1.7"/>
<path d="M327.5 177.8A4 4 0 0 0 320.2 174.9" stroke="#0c0c0c" stroke-opacity="0.45" stroke-width="2.4"/>
<path d="M319.3 175.5A4.8 4.8 0 0 0 327.8 178.8" stroke="#fff" stroke-opacity="0.38" stroke-width="1.7"/>
<path d="M128.4 182.5A3.5 3.5 0 0 0 123.2 178" stroke="#0c0c0c" stroke-opacity="0.45" stroke-width="2.4"/>
<path d="M122.1 178.1A4.3 4.3 0 0 0 128.4 183.6" stroke="#fff" stroke-opacity="0.38" stroke-width="1.7"/>
<path d="M282.8 81.8A3.4 3.4 0 0 0 276.9 78.7" stroke="#0c0c0c" stroke-opacity="0.45" stroke-width="2.4"/>
<path d="M275.9 79.1A4.2 4.2 0 0 0 283.1 82.8" stroke="#fff" stroke-opacity="0.38" stroke-width="1.7"/>
<path d="M298.5 87.9A3.8 3.8 0 0 0 293 82.6" stroke="#0c0c0c" stroke-opacity="0.45" stroke-width="2.4"/>
<path d="M292 82.8A4.6 4.6 0 0 0 298.4 89" stroke="#fff" stroke-opacity="0.38" stroke-width="1.7"/>
<path d="M311.5 113.8A4.1 4.1 0 0 0 307.8 106.5" stroke="#0c0c0c" stroke-opacity="0.45" stroke-width="2.4"/>
<path d="M306.7 106.3A4.9 4.9 0 0 0 311 114.8" stroke="#fff" stroke-opacity="0.38" stroke-width="1.7"/>
<path d="M273.5 122.4A4.2 4.2 0 0 0 266.2 118.2" stroke="#0c0c0c" stroke-opacity="0.45" stroke-width="2.4"/>
<path d="M265.2 118.7A5 5 0 0 0 273.5 123.6" stroke="#fff" stroke-opacity="0.38" stroke-width="1.7"/>
<path d="M292.1 138.8A4.4 4.4 0 0 0 287.2 131.6" stroke="#0c0c0c" stroke-opacity="0.45" stroke-width="2.4"/>
<path d="M286.1 131.6A5.2 5.2 0 0 0 291.7 139.9" stroke="#fff" stroke-opacity="0.38" stroke-width="1.7"/>
<path d="M231.4 163.2A3.5 3.5 0 0 0 228.1 157" stroke="#0c0c0c" stroke-opacity="0.45" stroke-width="2.4"/>
<path d="M227 156.8A4.3 4.3 0 0 0 231 164.2" stroke="#fff" stroke-opacity="0.38" stroke-width="1.7"/>
<path d="M152.7 173.6A4.5 4.5 0 0 0 146.7 167" stroke="#0c0c0c" stroke-opacity="0.45" stroke-width="2.4"/>
<path d="M145.6 167.1A5.3 5.3 0 0 0 152.4 174.7" stroke="#fff" stroke-opacity="0.38" stroke-width="1.7"/>
<path d="M72.5 162.8A3.7 3.7 0 0 0 67.1 157.6" stroke="#0c0c0c" stroke-opacity="0.45" stroke-width="2.4"/>
<path d="M66 157.8A4.5 4.5 0 0 0 72.3 163.9" stroke="#fff" stroke-opacity="0.38" stroke-width="1.7"/>
<path d="M62.1 203.6A4.2 4.2 0 0 0 57.3 196.8" stroke="#0c0c0c" stroke-opacity="0.45" stroke-width="2.4"/>
<path d="M56.1 196.9A5 5 0 0 0 61.8 204.7" stroke="#fff" stroke-opacity="0.38" stroke-width="1.7"/>
<path d="M142.9 207.2A3.7 3.7 0 0 0 136.7 203.4" stroke="#0c0c0c" stroke-opacity="0.45" stroke-width="2.4"/>
<path d="M135.7 203.7A4.5 4.5 0 0 0 143.1 208.3" stroke="#fff" stroke-opacity="0.38" stroke-width="1.7"/>
<path d="M172.1 213.7A4.3 4.3 0 0 0 167.3 206.7" stroke="#0c0c0c" stroke-opacity="0.45" stroke-width="2.4"/>
<path d="M166.1 206.7A5.1 5.1 0 0 0 171.7 214.8" stroke="#fff" stroke-opacity="0.38" stroke-width="1.7"/>
<path d="M252.9 206.6A3.3 3.3 0 0 0 246.9 203.9" stroke="#0c0c0c" stroke-opacity="0.45" stroke-width="2.4"/>
<path d="M245.9 204.4A4.1 4.1 0 0 0 253.2 207.6" stroke="#fff" stroke-opacity="0.38" stroke-width="1.7"/>
<path d="M293 203A4.2 4.2 0 0 0 286.6 197.6" stroke="#0c0c0c" stroke-opacity="0.45" stroke-width="2.4"/>
<path d="M285.5 197.9A5 5 0 0 0 292.9 204.1" stroke="#fff" stroke-opacity="0.38" stroke-width="1.7"/>
<path d="M313.4 216.7A3.8 3.8 0 0 0 306.4 213.9" stroke="#0c0c0c" stroke-opacity="0.45" stroke-width="2.4"/>
<path d="M305.5 214.4A4.6 4.6 0 0 0 313.6 217.8" stroke="#fff" stroke-opacity="0.38" stroke-width="1.7"/>
<path d="M121.7 218.4A3.8 3.8 0 0 0 117.8 211.9" stroke="#0c0c0c" stroke-opacity="0.45" stroke-width="2.4"/>
<path d="M116.7 211.8A4.6 4.6 0 0 0 121.3 219.4" stroke="#fff" stroke-opacity="0.38" stroke-width="1.7"/>
<path d="M91.8 217.8A3.3 3.3 0 0 0 87.7 212.5" stroke="#0c0c0c" stroke-opacity="0.45" stroke-width="2.4"/>
<path d="M86.7 212.5A4.1 4.1 0 0 0 91.6 218.8" stroke="#fff" stroke-opacity="0.38" stroke-width="1.7"/>
<path d="M263.7 204.2A4 4 0 0 0 258.7 197.9" stroke="#0c0c0c" stroke-opacity="0.26" stroke-width="2.4"/>
<path d="M257.6 197.9A4.8 4.8 0 0 0 263.4 205.3" stroke="#fff" stroke-opacity="0.2" stroke-width="1.7"/>
<path d="M93.3 160.9A4.5 4.5 0 0 0 86.2 155.4" stroke="#0c0c0c" stroke-opacity="0.26" stroke-width="2.4"/>
<path d="M85.1 155.8A5.3 5.3 0 0 0 93.2 162.1" stroke="#fff" stroke-opacity="0.2" stroke-width="1.7"/>
<path d="M309 117.9A3.8 3.8 0 0 0 302.9 113.3" stroke="#0c0c0c" stroke-opacity="0.26" stroke-width="2.4"/>
<path d="M301.8 113.6A4.6 4.6 0 0 0 309 119" stroke="#fff" stroke-opacity="0.2" stroke-width="1.7"/>
<path d="M285 204.6A4 4 0 0 0 278.7 199.5" stroke="#0c0c0c" stroke-opacity="0.26" stroke-width="2.4"/>
<path d="M277.7 199.8A4.8 4.8 0 0 0 284.9 205.7" stroke="#fff" stroke-opacity="0.2" stroke-width="1.7"/>
<path d="M174.6 97.4A3.9 3.9 0 0 0 169 92" stroke="#0c0c0c" stroke-opacity="0.26" stroke-width="2.4"/>
<path d="M167.9 92.2A4.7 4.7 0 0 0 174.4 98.5" stroke="#fff" stroke-opacity="0.2" stroke-width="1.7"/>
<path d="M117.7 193.1A3.9 3.9 0 0 0 110.9 189.5" stroke="#0c0c0c" stroke-opacity="0.26" stroke-width="2.4"/>
<path d="M109.9 189.9A4.7 4.7 0 0 0 117.9 194.2" stroke="#fff" stroke-opacity="0.2" stroke-width="1.7"/>
<path d="M171.4 120.5A3.5 3.5 0 0 0 165.5 117" stroke="#0c0c0c" stroke-opacity="0.26" stroke-width="2.4"/>
<path d="M164.5 117.4A4.3 4.3 0 0 0 171.6 121.6" stroke="#fff" stroke-opacity="0.2" stroke-width="1.7"/>
<path d="M177.1 206.8A3.6 3.6 0 0 0 170.7 203.5" stroke="#0c0c0c" stroke-opacity="0.26" stroke-width="2.4"/>
<path d="M169.7 203.9A4.4 4.4 0 0 0 177.3 207.9" stroke="#fff" stroke-opacity="0.2" stroke-width="1.7"/>
<path d="M126.6 79.1A3.3 3.3 0 0 0 122 74.4" stroke="#0c0c0c" stroke-opacity="0.26" stroke-width="2.4"/>
<path d="M121 74.5A4.1 4.1 0 0 0 126.5 80.2" stroke="#fff" stroke-opacity="0.2" stroke-width="1.7"/>
<path d="M309.6 121.1A3.8 3.8 0 0 0 303.4 116.8" stroke="#0c0c0c" stroke-opacity="0.26" stroke-width="2.4"/>
<path d="M302.3 117.1A4.6 4.6 0 0 0 309.7 122.2" stroke="#fff" stroke-opacity="0.2" stroke-width="1.7"/>
<path d="M160.6 214.7A3.5 3.5 0 0 0 156.8 208.9" stroke="#0c0c0c" stroke-opacity="0.26" stroke-width="2.4"/>
<path d="M155.8 208.7A4.3 4.3 0 0 0 160.3 215.7" stroke="#fff" stroke-opacity="0.2" stroke-width="1.7"/>
<path d="M134.2 88.6A3.4 3.4 0 0 0 129.2 84.1" stroke="#0c0c0c" stroke-opacity="0.26" stroke-width="2.4"/>
<path d="M128.1 84.2A4.2 4.2 0 0 0 134.1 89.6" stroke="#fff" stroke-opacity="0.2" stroke-width="1.7"/>
<path d="M291.6 112.3A4 4 0 0 0 288.9 104.8" stroke="#0c0c0c" stroke-opacity="0.26" stroke-width="2.4"/>
<path d="M287.8 104.4A4.8 4.8 0 0 0 291 113.2" stroke="#fff" stroke-opacity="0.2" stroke-width="1.7"/>
<path d="M117.5 209.3A3.4 3.4 0 0 0 114.1 203.4" stroke="#0c0c0c" stroke-opacity="0.26" stroke-width="2.4"/>
<path d="M113.1 203.2A4.2 4.2 0 0 0 117.2 210.3" stroke="#fff" stroke-opacity="0.2" stroke-width="1.7"/>
<path d="M120.9 204.6A4.5 4.5 0 0 0 114.7 198" stroke="#0c0c0c" stroke-opacity="0.26" stroke-width="2.4"/>
<path d="M113.6 198.2A5.3 5.3 0 0 0 120.6 205.8" stroke="#fff" stroke-opacity="0.2" stroke-width="1.7"/>
<path d="M147.2 120.2A4 4 0 0 0 142.7 113.7" stroke="#0c0c0c" stroke-opacity="0.26" stroke-width="2.4"/>
<path d="M141.6 113.6A4.8 4.8 0 0 0 146.9 121.3" stroke="#fff" stroke-opacity="0.2" stroke-width="1.7"/>
<path d="M118 152.8A4.1 4.1 0 0 0 110.8 148.8" stroke="#0c0c0c" stroke-opacity="0.26" stroke-width="2.4"/>
<path d="M109.8 149.2A4.9 4.9 0 0 0 118.1 153.9" stroke="#fff" stroke-opacity="0.2" stroke-width="1.7"/>
<path d="M205.8 134.2A4.1 4.1 0 0 0 203 126.4" stroke="#0c0c0c" stroke-opacity="0.26" stroke-width="2.4"/>
<path d="M201.9 126.1A4.9 4.9 0 0 0 205.2 135.1" stroke="#fff" stroke-opacity="0.2" stroke-width="1.7"/>
<path d="M193.4 119A3.8 3.8 0 0 0 188 113.6" stroke="#0c0c0c" stroke-opacity="0.26" stroke-width="2.4"/>
<path d="M187 113.7A4.6 4.6 0 0 0 193.2 120.1" stroke="#fff" stroke-opacity="0.2" stroke-width="1.7"/>
<path d="M280.1 207.6A3.3 3.3 0 0 0 274.5 204.3" stroke="#0c0c0c" stroke-opacity="0.26" stroke-width="2.4"/>
<path d="M273.6 204.6A4.1 4.1 0 0 0 280.3 208.6" stroke="#fff" stroke-opacity="0.2" stroke-width="1.7"/>
<path d="M257.1 192.8A3.6 3.6 0 0 0 253 186.8" stroke="#0c0c0c" stroke-opacity="0.26" stroke-width="2.4"/>
<path d="M251.9 186.7A4.4 4.4 0 0 0 256.8 193.8" stroke="#fff" stroke-opacity="0.2" stroke-width="1.7"/>
<path d="M79.4 112.2A4.1 4.1 0 0 0 73.2 106.9" stroke="#0c0c0c" stroke-opacity="0.26" stroke-width="2.4"/>
<path d="M72.1 107.2A4.9 4.9 0 0 0 79.3 113.3" stroke="#fff" stroke-opacity="0.2" stroke-width="1.7"/>
<path d="M114.7 97.9A3.9 3.9 0 0 0 107.8 94.4" stroke="#0c0c0c" stroke-opacity="0.26" stroke-width="2.4"/>
<path d="M106.8 94.9A4.7 4.7 0 0 0 114.9 99" stroke="#fff" stroke-opacity="0.2" stroke-width="1.7"/>
<path d="M313.8 205A3.9 3.9 0 0 0 309.1 198.7" stroke="#0c0c0c" stroke-opacity="0.26" stroke-width="2.4"/>
<path d="M308 198.7A4.7 4.7 0 0 0 313.5 206" stroke="#fff" stroke-opacity="0.2" stroke-width="1.7"/>
<path d="M299.7 155.1A3.3 3.3 0 0 0 294.9 150.7" stroke="#0c0c0c" stroke-opacity="0.26" stroke-width="2.4"/>
<path d="M293.9 150.8A4.1 4.1 0 0 0 299.7 156.1" stroke="#fff" stroke-opacity="0.2" stroke-width="1.7"/>
<path d="M91 137A3.7 3.7 0 0 0 85.6 131.9" stroke="#0c0c0c" stroke-opacity="0.26" stroke-width="2.4"/>
<path d="M84.5 132.1A4.5 4.5 0 0 0 90.9 138" stroke="#fff" stroke-opacity="0.2" stroke-width="1.7"/>
<path d="M73.7 205.1A3.7 3.7 0 0 0 71.2 198.2" stroke="#0c0c0c" stroke-opacity="0.26" stroke-width="2.4"/>
<path d="M70.1 197.9A4.5 4.5 0 0 0 73.1 206" stroke="#fff" stroke-opacity="0.2" stroke-width="1.7"/>
<path d="M128.8 117.6A3.3 3.3 0 0 0 125.8 111.9" stroke="#0c0c0c" stroke-opacity="0.26" stroke-width="2.4"/>
<path d="M124.8 111.7A4.1 4.1 0 0 0 128.5 118.6" stroke="#fff" stroke-opacity="0.2" stroke-width="1.7"/>
<path d="M308.6 104.1A3.3 3.3 0 0 0 302.7 101" stroke="#0c0c0c" stroke-opacity="0.26" stroke-width="2.4"/>
<path d="M301.8 101.4A4.1 4.1 0 0 0 308.8 105.1" stroke="#fff" stroke-opacity="0.2" stroke-width="1.7"/>
<path d="M301.5 121.4A4 4 0 0 0 297.3 114.7" stroke="#0c0c0c" stroke-opacity="0.26" stroke-width="2.4"/>
<path d="M296.2 114.6A4.8 4.8 0 0 0 301.1 122.5" stroke="#fff" stroke-opacity="0.2" stroke-width="1.7"/>
<path d="M235.2 91.9A4.2 4.2 0 0 0 228.7 86.7" stroke="#0c0c0c" stroke-opacity="0.26" stroke-width="2.4"/>
<path d="M227.6 87.1A5 5 0 0 0 235.2 93" stroke="#fff" stroke-opacity="0.2" stroke-width="1.7"/>
<path d="M296 132.2A3.3 3.3 0 0 0 290.5 128.7" stroke="#0c0c0c" stroke-opacity="0.26" stroke-width="2.4"/>
<path d="M289.5 129A4.1 4.1 0 0 0 296.1 133.2" stroke="#fff" stroke-opacity="0.2" stroke-width="1.7"/>
<path d="M151.6 167.8A3.5 3.5 0 0 0 145 165.3" stroke="#0c0c0c" stroke-opacity="0.26" stroke-width="2.4"/>
<path d="M144.1 165.9A4.3 4.3 0 0 0 151.9 168.8" stroke="#fff" stroke-opacity="0.2" stroke-width="1.7"/>
<path d="M215.1 112.4A3.4 3.4 0 0 0 211.3 106.8" stroke="#0c0c0c" stroke-opacity="0.26" stroke-width="2.4"/>
<path d="M210.3 106.6A4.2 4.2 0 0 0 214.9 113.4" stroke="#fff" stroke-opacity="0.2" stroke-width="1.7"/>
<path d="M93.5 157A3.5 3.5 0 0 0 87.2 153.8" stroke="#0c0c0c" stroke-opacity="0.26" stroke-width="2.4"/>
<path d="M86.3 154.2A4.3 4.3 0 0 0 93.8 158" stroke="#fff" stroke-opacity="0.2" stroke-width="1.7"/>
<path d="M67.5 200A4.3 4.3 0 0 0 60.9 194.3" stroke="#0c0c0c" stroke-opacity="0.26" stroke-width="2.4"/>
<path d="M59.8 194.6A5.1 5.1 0 0 0 67.3 201.1" stroke="#fff" stroke-opacity="0.2" stroke-width="1.7"/>
<path d="M150.1 100.7A3.4 3.4 0 0 0 145.6 95.6" stroke="#0c0c0c" stroke-opacity="0.26" stroke-width="2.4"/>
<path d="M144.6 95.6A4.2 4.2 0 0 0 149.9 101.7" stroke="#fff" stroke-opacity="0.2" stroke-width="1.7"/>
<path d="M145.2 94A4.2 4.2 0 0 0 142 86.4" stroke="#0c0c0c" stroke-opacity="0.26" stroke-width="2.4"/>
<path d="M140.8 86.1A5 5 0 0 0 144.6 95" stroke="#fff" stroke-opacity="0.2" stroke-width="1.7"/>
<path d="M144.7 153A4.5 4.5 0 0 0 136.8 148.8" stroke="#0c0c0c" stroke-opacity="0.26" stroke-width="2.4"/>
<path d="M135.8 149.4A5.3 5.3 0 0 0 144.8 154.2" stroke="#fff" stroke-opacity="0.2" stroke-width="1.7"/>
<path d="M168.1 124A4.5 4.5 0 0 0 160.7 118.9" stroke="#0c0c0c" stroke-opacity="0.26" stroke-width="2.4"/>
<path d="M159.6 119.3A5.3 5.3 0 0 0 168 125.2" stroke="#fff" stroke-opacity="0.2" stroke-width="1.7"/>
<circle cx="220.3" cy="487.4" r="1" fill="#222" fill-opacity="0.4"/>
<circle cx="137.3" cy="124.5" r="0.9" fill="#222" fill-opacity="0.4"/>
<circle cx="268.4" cy="112.6" r="1.3" fill="#222" fill-opacity="0.4"/>
<circle cx="161.4" cy="445.9" r="1.3" fill="#222" fill-opacity="0.4"/>
<circle cx="238.7" cy="432" r="0.8" fill="#222" fill-opacity="0.4"/>
<circle cx="126.6" cy="229" r="1.1" fill="#222" fill-opacity="0.4"/>
<circle cx="234.3" cy="446.5" r="1.3" fill="#222" fill-opacity="0.4"/>
<circle cx="303" cy="368.5" r="1" fill="#222" fill-opacity="0.4"/>
<circle cx="191.1" cy="390.9" r="1.4" fill="#222" fill-opacity="0.4"/>
<circle cx="154.4" cy="223.4" r="1.2" fill="#222" fill-opacity="0.4"/>
<circle cx="116.7" cy="448.1" r="0.8" fill="#222" fill-opacity="0.4"/>
<circle cx="228.6" cy="278.9" r="0.9" fill="#222" fill-opacity="0.4"/>
<circle cx="207.7" cy="274" r="1.5" fill="#222" fill-opacity="0.4"/>
<circle cx="291.3" cy="321.9" r="1.4" fill="#222" fill-opacity="0.4"/>
<circle cx="291.1" cy="142.4" r="1.4" fill="#222" fill-opacity="0.4"/>
<circle cx="277.7" cy="494.1" r="1.3" fill="#222" fill-opacity="0.4"/>
<circle cx="160.3" cy="159.9" r="1.3" fill="#222" fill-opacity="0.4"/>
<circle cx="112" cy="394.6" r="1.2" fill="#222" fill-opacity="0.4"/>
<circle cx="275.7" cy="223.9" r="1" fill="#222" fill-opacity="0.4"/>
<circle cx="296.6" cy="354.2" r="1.1" fill="#222" fill-opacity="0.4"/>
<circle cx="205.1" cy="257.5" r="1.3" fill="#222" fill-opacity="0.4"/>
<circle cx="193.5" cy="193.7" r="1.5" fill="#222" fill-opacity="0.4"/>
<circle cx="291.5" cy="395.2" r="1" fill="#222" fill-opacity="0.4"/>
<circle cx="107.7" cy="383.4" r="1.4" fill="#222" fill-opacity="0.4"/>
<circle cx="229.6" cy="163" r="1.3" fill="#222" fill-opacity="0.4"/>
<circle cx="195.2" cy="231" r="1.2" fill="#222" fill-opacity="0.4"/>
<circle cx="175.4" cy="348.4" r="1.3" fill="#222" fill-opacity="0.4"/>
<circle cx="317.4" cy="119.4" r="1.2" fill="#222" fill-opacity="0.4"/>
<circle cx="307.5" cy="351.9" r="1.2" fill="#222" fill-opacity="0.4"/>
<circle cx="282.9" cy="85.3" r="1.4" fill="#222" fill-opacity="0.4"/>
<circle cx="221.8" cy="320.9" r="1" fill="#222" fill-opacity="0.4"/>
<circle cx="220.7" cy="125.4" r="1.2" fill="#222" fill-opacity="0.4"/>
<circle cx="124.6" cy="468.9" r="1.4" fill="#222" fill-opacity="0.4"/>
<circle cx="181.8" cy="393.6" r="1.1" fill="#222" fill-opacity="0.4"/>
<circle cx="195.3" cy="140.8" r="1.4" fill="#222" fill-opacity="0.4"/>
<circle cx="259.2" cy="395.8" r="0.9" fill="#222" fill-opacity="0.4"/>
<circle cx="274" cy="77.1" r="1.2" fill="#222" fill-opacity="0.4"/>
<circle cx="185.8" cy="97.2" r="1.1" fill="#222" fill-opacity="0.4"/>
<circle cx="292" cy="337.9" r="1" fill="#222" fill-opacity="0.4"/>
<circle cx="272.6" cy="223.4" r="1.4" fill="#222" fill-opacity="0.4"/>
<circle cx="162.6" cy="105.1" r="1.5" fill="#222" fill-opacity="0.4"/>
<circle cx="74.9" cy="179.8" r="1.3" fill="#222" fill-opacity="0.4"/>
<circle cx="86.6" cy="303.8" r="1.4" fill="#222" fill-opacity="0.4"/>
<circle cx="212.9" cy="220.3" r="1.3" fill="#222" fill-opacity="0.4"/>
<circle cx="275.6" cy="318.8" r="1.2" fill="#222" fill-opacity="0.4"/>
<circle cx="141.7" cy="245.6" r="1.5" fill="#222" fill-opacity="0.4"/>
<circle cx="314.5" cy="72.7" r="0.9" fill="#222" fill-opacity="0.4"/>
<circle cx="115.9" cy="409.8" r="0.9" fill="#222" fill-opacity="0.4"/>
<circle cx="101.1" cy="398.3" r="0.9" fill="#222" fill-opacity="0.4"/>
<circle cx="316" cy="266" r="1.4" fill="#222" fill-opacity="0.4"/>
<circle cx="274" cy="160.3" r="1.3" fill="#222" fill-opacity="0.4"/>
<circle cx="166.4" cy="166.6" r="0.8" fill="#222" fill-opacity="0.4"/>
<circle cx="243.1" cy="311" r="1" fill="#222" fill-opacity="0.4"/>
<circle cx="277.5" cy="155.9" r="1.1" fill="#222" fill-opacity="0.4"/>
<circle cx="79.2" cy="221.3" r="1.4" fill="#222" fill-opacity="0.4"/>
<circle cx="189" cy="137.4" r="1" fill="#222" fill-opacity="0.4"/>
<circle cx="227.4" cy="190.3" r="1.4" fill="#222" fill-opacity="0.4"/>
<circle cx="72.1" cy="442.2" r="1.2" fill="#222" fill-opacity="0.4"/>
<circle cx="274.7" cy="222.9" r="0.8" fill="#222" fill-opacity="0.4"/>
<circle cx="101.8" cy="339" r="0.8" fill="#222" fill-opacity="0.4"/>
<circle cx="85.3" cy="405.3" r="1.4" fill="#222" fill-opacity="0.4"/>
<circle cx="283.7" cy="428.7" r="1.2" fill="#222" fill-opacity="0.4"/>
<circle cx="288.8" cy="369.2" r="1.2" fill="#222" fill-opacity="0.4"/>
<circle cx="169.2" cy="82.4" r="0.9" fill="#222" fill-opacity="0.4"/>
<circle cx="122.4" cy="268.3" r="0.9" fill="#222" fill-opacity="0.4"/>
<circle cx="314.1" cy="317.6" r="1.3" fill="#222" fill-opacity="0.4"/>
<circle cx="293.5" cy="168.4" r="1.4" fill="#222" fill-opacity="0.4"/>
<circle cx="310.8" cy="185.9" r="0.9" fill="#222" fill-opacity="0.4"/>
<circle cx="268.8" cy="451" r="1.4" fill="#222" fill-opacity="0.4"/>
<circle cx="164.6" cy="328.5" r="0.9" fill="#222" fill-opacity="0.4"/>
</g>
<rect x="52.2" y="68.2" width="273.7" height="433.6" filter="url(#fgrain)" opacity="0.16"/>
<rect x="52.7" y="68.7" width="272.7" height="432.6" fill="none" stroke="#000" stroke-opacity="0.12" stroke-width="1"/>
<rect x="77" y="476.6" width="140.4" height="8.6" fill="#fff"/>
</g>
<g clip-path="url(#clipR)">
<rect x="329.3" y="68.2" width="275.2" height="433.3" fill="#091805"/>
<ellipse cx="368" cy="109" rx="5" ry="5" fill="url(#gd)"/>
<ellipse cx="447" cy="82" rx="6.2" ry="6.2" fill="url(#gd)"/>
<ellipse cx="495.6" cy="113.6" rx="5" ry="6.2" fill="url(#gd)"/>
<ellipse cx="539.6" cy="85" rx="5" ry="5" fill="url(#gd)"/>
<ellipse cx="450" cy="147" rx="5" ry="11.2" fill="url(#gd)"/>
<ellipse cx="399" cy="161" rx="7.5" ry="6.2" fill="url(#gd)"/>
<ellipse cx="582" cy="159" rx="6.2" ry="7.5" fill="url(#gd)"/>
<ellipse cx="384" cy="197" rx="6.2" ry="8.8" fill="url(#gd)"/>
<ellipse cx="356" cy="246" rx="10" ry="6.2" fill="url(#gd)"/>
<ellipse cx="384" cy="244" rx="6.2" ry="6.2" fill="url(#gd)"/>
<ellipse cx="394" cy="249" rx="6.2" ry="6.2" fill="url(#gd)"/>
<ellipse cx="455" cy="277" rx="7.5" ry="6.2" fill="url(#gd)"/>
<ellipse cx="502.4" cy="277" rx="7.5" ry="6.2" fill="url(#gd)"/>
<ellipse cx="555" cy="272" rx="6.2" ry="6.2" fill="url(#gd)"/>
<ellipse cx="425" cy="289" rx="5" ry="5" fill="url(#gd)"/>
<ellipse cx="484" cy="329" rx="16.2" ry="6.2" fill="url(#gd)"/>
<ellipse cx="595" cy="328" rx="5" ry="6.2" fill="url(#gd)"/>
<ellipse cx="570" cy="349" rx="6.2" ry="8.8" fill="url(#gd)"/>
<ellipse cx="452" cy="351" rx="6.2" ry="6.2" fill="url(#gd)"/>
<ellipse cx="397" cy="357" rx="10" ry="8.8" fill="url(#gd)"/>
<ellipse cx="395" cy="344" rx="7.5" ry="6.2" fill="url(#gd)"/>
<ellipse cx="585" cy="369" rx="6.2" ry="7.5" fill="url(#gd)"/>
<ellipse cx="471" cy="391" rx="7.5" ry="7.5" fill="url(#gd)"/>
<ellipse cx="432" cy="397" rx="6.2" ry="6.2" fill="url(#gd)"/>
<ellipse cx="519" cy="393" rx="6.2" ry="6.2" fill="url(#gd)"/>
<ellipse cx="500" cy="428" rx="8.8" ry="11.2" fill="url(#gd)"/>
<ellipse cx="530" cy="490" rx="12.5" ry="5" fill="url(#gd)"/>
<ellipse cx="443" cy="456" rx="6.2" ry="6.2" fill="url(#gd)"/>
<ellipse cx="386" cy="476" rx="7.5" ry="8.8" fill="url(#gd)"/>
<ellipse cx="487" cy="478" rx="8.8" ry="10" fill="url(#gd)"/>
<ellipse cx="561" cy="443" rx="8.8" ry="7.5" fill="url(#gd)"/>
<ellipse cx="347" cy="364" rx="6.2" ry="10" fill="url(#gd)"/>
<ellipse cx="336" cy="135" rx="3.8" ry="6.2" fill="url(#gd)"/>
<ellipse cx="598" cy="279" rx="3.8" ry="5" fill="url(#gd)"/>
<ellipse cx="367" cy="118" rx="6" ry="6" fill="url(#gm)" opacity="0.85"/>
<ellipse cx="449" cy="103" rx="7.8" ry="4.8" fill="url(#gm)" opacity="0.75"/>
<ellipse cx="367.4" cy="444" rx="9" ry="9" fill="url(#gm)" opacity="0.90"/>
<ellipse cx="521" cy="406.6" rx="4.8" ry="4.8" fill="url(#gm)" opacity="0.80"/>
<ellipse cx="521.4" cy="418" rx="4.8" ry="4.8" fill="url(#gm)" opacity="0.75"/>
<ellipse cx="385" cy="329.4" rx="6" ry="6" fill="url(#gm)" opacity="0.70"/>
<g filter="url(#fglow)" fill="#17c417" fill-opacity="0.5">
<circle cx="374.4" cy="89.4" r="4.8"/>
<circle cx="469.3" cy="168.5" r="6.1"/>
<circle cx="507" cy="252" r="5.2"/>
<circle cx="513" cy="248.8" r="5"/>
<circle cx="566" cy="256" r="5.4"/>
<circle cx="396" cy="330" r="6.2"/>
<circle cx="399.5" cy="331.5" r="5"/>
<circle cx="479" cy="378" r="6.5"/>
<circle cx="501.5" cy="380" r="6.5"/>
<circle cx="546.4" cy="378" r="4.5"/>
<circle cx="353" cy="451" r="5.4"/>
<circle cx="582.4" cy="495.6" r="4.8"/>
</g>
<g filter="url(#fbl2)" fill="#1ff81f">
<circle cx="374.4" cy="89.4" r="3.7"/>
<circle cx="469.3" cy="168.5" r="4.8"/>
<circle cx="507" cy="252" r="4.1"/>
<circle cx="513" cy="248.8" r="3.9"/>
<circle cx="566" cy="256" r="4.2"/>
<circle cx="396" cy="330" r="4.9"/>
<circle cx="399.5" cy="331.5" r="3.9"/>
<circle cx="479" cy="378" r="5.1"/>
<circle cx="501.5" cy="380" r="5.1"/>
<circle cx="546.4" cy="378" r="3.5"/>
<circle cx="353" cy="451" r="4.2"/>
<circle cx="582.4" cy="495.6" r="3.7"/>
</g>
<rect x="329.9" y="68.8" width="274" height="432.1" fill="none" stroke="#000" stroke-opacity="0.6" stroke-width="1.2"/>
</g>
</g>
<g id="panelB">
<text class="lab" x="656.5" y="49.5">B</text>
<text class="seri" font-size="44" fill="#000" x="877" y="45">C33A</text>
<g fill="none" stroke="#000" stroke-width="1.1" stroke-linejoin="round">
<polyline points="706.5,78.1 707.8,77.9 709,75.1 710.2,75.1 711.5,77.9 712.8,80.6 714,83.1 715.2,81.4 716.5,81.3 717.8,79.6 719,75.9 720.2,76.8 721.5,77.4 722.8,81.7 724,76.7 725.2,72.2 726.5,69.5 727.8,71.9 729,75.9 730.2,77.6 731.5,79.5 732.8,77.7 734,78.4 735.2,78.1 736.5,78.1 737.8,80.8 739,81.2 740.2,84.8 741.5,80.2 742.8,77.7 744,74.7 745.2,75.7 746.5,78.4 747.8,79.5 749,78.9 750.2,75.7 751.5,74.2 752.8,77.5 754,74.4 755.2,75.9 756.5,74.4 757.8,73 759,72.7 760.2,74.4 761.5,73.4 762.8,72.6 764,69.9 765.2,72.2 766.5,73.8 767.8,73.9 769,72.6 770.2,73.3 771.5,74.7 772.8,79.5 774,80.7 775.2,80.1 776.5,78.4 777.8,73.1 779,73.5 780.2,72.1 781.5,73.8 782.8,70.1 784,69.4 785.2,69.2 786.5,74.2 787.8,72.2 789,70.3 790.2,68.3 791.5,75.1 792.8,79.1 794,74.9 795.2,67.1 796.5,66.7 797.8,69 799,71.7 800.2,72.9 801.5,76.5 802.8,79 804,77.6 805.2,76.3 806.5,79.1 807.8,79.9 809,80 810.2,78 811.5,73.7 812.8,75.2 814,76 815.2,80.1 816.5,73.7 817.8,70.6 819,71.2 820.2,71.5 821.5,72.4 822.8,72.7 824,73.7 825.2,77.2 826.5,76.3 827.8,78.6 829,76.1 830.2,76.3 831.5,76.8 832.8,78.4 834,75.8 835.2,74.8 836.5,74.6 837.8,75.9 839,75 840.2,74.8 841.5,77.7 842.8,78.5 844,74 845.2,70.8 846.5,71.4 847.8,73.5 849,76.5 850.2,74.8 851.5,77.9 852.8,72.6 854,73.1 855.2,71.9 856.5,76.6 857.8,79.8 859,79.2 860.2,77.3 861.5,75.9 862.8,76.4 864,75.7 865.2,76 866.5,76 867.8,76.3 869,77.3 870.2,77.3 871.5,81.2 872.8,80.4 874,78.4 875.2,73.7 876.5,73.1 877.8,75.7 879,75.8 880.2,76.6 881.5,78.4 882.8,74 884,71 885.2,67.9 886.5,73.7 887.8,76.4 889,75.1 890.2,75.6 891.5,75.6 892.8,75.5 894,79 895.2,79.1 896.5,79 897.8,74.1 899,72.9 900.2,73.9 901.5,68.7 902.8,68.2 904,70.3 905.2,73.4 906.5,74.2 907.8,74.1 909,78.1 910.2,81.1 911.5,75.9 912.8,73.5 914,70 915.2,74.5 916.5,77.4 917.8,72.8 919,73.7 920.2,68.7 921.5,75.3 922.8,70.2 924,73.4 925.2,74.4 926.5,77.1 927.8,77.1 929,76.3 930.2,76.9 931.5,76.3 932.8,77.8 934,79.6 935.2,79.1 936.5,81.5 937.8,77.2 939,79.6 940.2,73.7 941.5,76.2 942.8,75.8 944,76.7 945.2,77.7 946.5,73.3 947.8,69.9 949,69.9 950.2,71 951.5,72 952.8,67.9 954,72.2 955.2,75.7 956.5,81.5 957.8,77.2 959,75.7 960.2,70.6 961.5,73.9 962.8,77 964,77.5 965.2,79.1 966.5,77.9 967.8,79.3 969,72.4 970.2,73.2 971.5,73.4 972.8,76 974,74.1 975.2,75.1 976.5,79.2 977.8,76.4 979,77.8 980.2,77.8 981.5,82.7 982.8,80.1 984,75.7 985.2,74.8 986.5,75.4 987.8,77.1 989,77.9 990.2,77.2 991.5,72.4 992.8,68.9 994,65.7 995.2,71.9 996.5,73.2 997.8,75.7 999,74.1 1000.2,75.1 1001.5,76.4 1002.8,79 1004,77.3 1005.2,79.2 1006.5,79.5 1007.8,82.8 1009,79.4 1010.2,78.2 1011.5,71.4 1012.8,70.6 1014,65 1015.2,70.8 1016.5,70.5 1017.8,74.3 1019,71.8 1020.2,74.2 1021.5,73.1 1022.8,73.9 1024,77.5 1025.2,78.7 1026.5,79.3 1027.8,77.7 1029,77.3 1030.2,73.8 1031.5,70.7 1032.8,73.2 1034,72.4 1035.2,72.4 1036.5,72.2 1037.8,77 1039,78.2 1040.2,77.8 1041.5,76.6 1042.8,74.2 1044,69.6 1045.2,68 1046.5,72.1 1047.8,74.1 1049,73.6 1050.2,70.3 1051.5,68.4 1052.8,69.9 1054,69.1 1055.2,72.8 1056.5,68.4 1057.8,71.4 1059,69.4 1060.2,70.2 1061.5,71 1062.8,71.7 1064,71.2 1065.2,68 1066.5,69.1 1067.8,72.6 1069,75.9 1070.2,76.8 1071.5,79 1072.8,78.1 1074,79.2 1075.2,79.2 1076.5,79.5 1077.8,72.7 1079,73.2 1080.2,74.9 1081.5,78.4 1082.8,75.7 1084,77 1085.2,74.1 1086.5,75.9 1087.8,76.9 1089,78.5 1090.2,78.9 1091.5,77.9 1092.8,79.5 1094,79.2 1095.2,77.3 1096.5,75.8 1097.8,74.5 1099,73.3 1100.2,76.7 1101.5,76.8 1102.8,75.8 1104,72.2 1105.2,71.6 1106.5,73.7 1107.8,75.9 1109,74.9 1110.2,71.5 1111.5,76.6 1112.8,80.5 1114,83.4 1115.2,73.1 1116.5,72 1117.8,71.7 1119,80.1 1120.2,79.7 1121.5,78.7 1122.8,76.4 1124,71.7 1125.2,73.9 1126.5,73.5 1127.8,75.9 1129,76.5 1130.2,79.4 1131.5,78.1 1132.8,74.1 1134,71.2 1135.2,74.3 1136.5,74.8 1137.8,72.3 1139,76.1 1140.2,78.9 1141.5,78.5 1142.8,71.7 1144,73 1145.2,77.3 1146.5,83.5 1147.8,81.8 1149,78.1 1150.2,75 1151.5,69.2 1152.8,69.5 1154,68.8 1155.2,74.1"/>
<polyline points="706.5,79.3 707.8,79.8 709,79.4 710.2,80.7 711.5,79 712.8,81.6 714,79.4 715.2,82.8 716.5,80.5 717.8,82.7 719,81.9 720.2,81.3 721.5,82.8 722.8,81.7 724,80.3 725.2,76.7 726.5,71.9 727.8,73.8 729,77 730.2,83.8 731.5,81 732.8,79.1 734,77.9 735.2,78.3 736.5,74.3 737.8,73.2 739,76.7 740.2,79.5 741.5,81.1 742.8,76.6 744,75.5 745.2,72.5 746.5,74.8 747.8,76.7 749,78.7 750.2,79.6 751.5,79 752.8,77 754,71.9 755.2,72.7 756.5,76.4 757.8,72.6 759,71.1 760.2,67.6 761.5,71 762.8,73.4 764,73.7 765.2,73.9 766.5,70.8 767.8,72.4 769,77.3 770.2,77.5 771.5,75.5 772.8,70 774,72.9 775.2,74 776.5,74.3 777.8,72.7 779,71.5 780.2,73 781.5,71.6 782.8,73.3 784,71.6 785.2,72.9 786.5,72.8 787.8,73.9 789,73.4 790.2,73.8 791.5,74.6 792.8,75.3 794,75.3 795.2,76.2 796.5,72.7 797.8,71.9 799,67.6 800.2,68.2 801.5,70.2 802.8,70.6 804,70.5 805.2,74.2 806.5,77.4 807.8,82.5 809,77.1 810.2,74.8 811.5,74.4 812.8,71.2 814,69.4 815.2,65 816.5,69 817.8,70.2 819,70.2 820.2,69.5 821.5,72.2 822.8,71.5 824,73 825.2,68.9 826.5,74.3 827.8,71.3 829,73.1 830.2,69.4 831.5,72.3 832.8,73 834,73.7 835.2,73.4 836.5,74.5 837.8,72.9 839,70.3 840.2,67 841.5,68.2 842.8,68.1 844,73.6 845.2,74.6 846.5,76.6 847.8,70.8 849,67.9 850.2,67.3 851.5,72.6 852.8,76.7 854,77.3 855.2,75.1 856.5,73.5 857.8,76.7 859,76.8 860.2,80.2 861.5,79.3 862.8,78.1 864,73.3 865.2,72.6 866.5,71.6 867.8,70.2 869,66.6 870.2,66 871.5,70.1 872.8,72.7 874,74.5 875.2,76.8 876.5,75.4 877.8,77.9 879,75.3 880.2,76.2 881.5,73.5 882.8,75.7 884,74.6 885.2,72.2 886.5,68.7 887.8,72 889,72.6 890.2,73.7 891.5,74.5 892.8,79.4 894,80.7 895.2,82.8 896.5,80.3 897.8,78.4 899,69.8 900.2,70.4 901.5,72.6 902.8,75.7 904,74.6 905.2,73.8 906.5,75.5 907.8,75.2 909,73 910.2,71.2 911.5,66.8 912.8,67 914,70 915.2,77.5 916.5,74.1 917.8,71.5 919,68.4 920.2,71.1 921.5,73.1 922.8,72.2 924,73.7 925.2,71.9 926.5,71.1 927.8,71.1 929,70.7 930.2,73.9 931.5,72.8 932.8,74.6 934,73.6 935.2,74.5 936.5,73.1 937.8,69.3 939,72.6 940.2,75.7 941.5,78.5 942.8,71.1 944,67.5 945.2,70.3 946.5,68.8 947.8,73.8 949,70.4 950.2,75 951.5,69.1 952.8,71.4 954,73.2 955.2,74.9 956.5,75 957.8,72.8 959,73.9 960.2,72.5 961.5,73.6 962.8,74.6 964,75.9 965.2,77.9 966.5,79.5 967.8,77.7 969,77 970.2,70.5 971.5,75.6 972.8,72.1 974,71.7 975.2,66.7 976.5,72.2 977.8,76.1 979,74 980.2,71.9 981.5,70 982.8,71.8 984,75.1 985.2,77.5 986.5,80.3 987.8,77.6 989,75.3 990.2,75.1 991.5,73.2 992.8,68.7 994,67.2 995.2,70.4 996.5,75 997.8,77.5 999,73.7 1000.2,75.3 1001.5,73.6 1002.8,75.7 1004,76.8 1005.2,74.9 1006.5,74.5 1007.8,76.8 1009,80.2 1010.2,79.4 1011.5,76 1012.8,74.9 1014,76.4 1015.2,76.6 1016.5,76.8 1017.8,76.1 1019,75 1020.2,76.3 1021.5,78 1022.8,76 1024,71.7 1025.2,70.3 1026.5,70.5 1027.8,72 1029,70.5 1030.2,73 1031.5,72.4 1032.8,77.9 1034,78.9 1035.2,81.4 1036.5,73.7 1037.8,69.2 1039,67.9 1040.2,72.1 1041.5,75 1042.8,76.6 1044,70.5 1045.2,72.1 1046.5,72.4 1047.8,73.8 1049,72.7 1050.2,70.4 1051.5,72.6 1052.8,68.1 1054,65.4 1055.2,66.9 1056.5,72.9 1057.8,75.5 1059,78.3 1060.2,74.8 1061.5,78 1062.8,70.6 1064,72.2 1065.2,69.9 1066.5,75.4 1067.8,77.4 1069,74.5 1070.2,68.9 1071.5,66.4 1072.8,65.5 1074,70 1075.2,68.3 1076.5,70.6 1077.8,70.2 1079,72.7 1080.2,71.8 1081.5,74.5 1082.8,72.8 1084,73.9 1085.2,72.4 1086.5,73.7 1087.8,76.8 1089,75.5 1090.2,74.7 1091.5,74 1092.8,75.4 1094,74.6 1095.2,71.5 1096.5,70.9 1097.8,75.2 1099,77.8 1100.2,77.5 1101.5,70 1102.8,69.6 1104,67 1105.2,68.6 1106.5,66 1107.8,68.7 1109,72 1110.2,78.4 1111.5,77.7 1112.8,76 1114,73.3 1115.2,74.1 1116.5,74.8 1117.8,70.6 1119,70.2 1120.2,74 1121.5,77.1 1122.8,76.6 1124,75.5 1125.2,74.6 1126.5,72.6 1127.8,72.3 1129,73 1130.2,79 1131.5,77.4 1132.8,73.9 1134,72.1 1135.2,77.2 1136.5,78.1 1137.8,80.1 1139,75.2 1140.2,78 1141.5,74.7 1142.8,72.9 1144,73.8 1145.2,73 1146.5,75.1 1147.8,74.2 1149,72.4 1150.2,73.3 1151.5,73.1 1152.8,75.2 1154,72.7 1155.2,72.5"/>
<polyline points="706.5,80.7 707.8,81 709,83.8 710.2,79.6 711.5,78.1 712.8,68.1 714,72.1 715.2,72.1 716.5,80.7 717.8,83.3 719,84 720.2,81.7 721.5,76.5 722.8,74.9 724,74.1 725.2,76.4 726.5,78.1 727.8,79.5 729,77.9 730.2,79.6 731.5,80.4 732.8,80.5 734,80 735.2,78.7 736.5,76.7 737.8,78.3 739,79.5 740.2,79.9 741.5,79.2 742.8,78.9 744,77.7 745.2,78.8 746.5,78.7 747.8,83.6 749,80.8 750.2,79.8 751.5,75.1 752.8,76.6 754,74.6 755.2,77.1 756.5,75.8 757.8,75.9 759,77.8 760.2,76.4 761.5,76.2 762.8,70.6 764,70.5 765.2,71.9 766.5,78.8 767.8,78.9 769,77.3 770.2,77.8 771.5,77.9 772.8,79.6 774,79.7 775.2,80.5 776.5,81.4 777.8,76.7 779,77.1 780.2,74.5 781.5,76.1 782.8,77.9 784,82.8 785.2,81.3 786.5,77.9 787.8,74.2 789,73.4 790.2,75.5 791.5,75.7 792.8,77.2 794,77.3 795.2,73.1 796.5,75.1 797.8,71.1 799,72.7 800.2,70.2 801.5,72.4 802.8,75.5 804,76.7 805.2,76.7 806.5,76.1 807.8,79 809,79.8 810.2,79.5 811.5,78.8 812.8,79.3 814,76.1 815.2,78.5 816.5,82.4 817.8,81 819,76 820.2,72.5 821.5,78.3 822.8,79.7 824,78.3 825.2,74.4 826.5,73.2 827.8,75.8 829,75.7 830.2,73.5 831.5,71.4 832.8,69.8 834,71.3 835.2,70.5 836.5,75.2 837.8,74.3 839,73.4 840.2,71.8 841.5,73 842.8,73.5 844,74.3 845.2,75.8 846.5,79.5 847.8,82.8 849,79.8 850.2,76.6 851.5,68.4 852.8,73.7 854,73.1 855.2,77.9 856.5,75.2 857.8,73.9 859,74.9 860.2,73.8 861.5,72.9 862.8,72.6 864,75 865.2,74.9 866.5,75.9 867.8,74 869,78.6 870.2,77.9 871.5,80 872.8,78.6 874,79.5 875.2,76.1 876.5,78 877.8,74.7 879,75.3 880.2,77.2 881.5,79.7 882.8,79.6 884,74 885.2,71.5 886.5,72.2 887.8,76.3 889,78.7 890.2,79.4 891.5,77.4 892.8,79.2 894,77.5 895.2,76.5 896.5,75.5 897.8,76.4 899,77 900.2,74.1 901.5,73.5 902.8,75.2 904,77.1 905.2,75.2 906.5,74.8 907.8,74.5 909,74.9 910.2,75.6 911.5,74.7 912.8,76 914,76 915.2,79.1 916.5,78.5 917.8,77.7 919,73.4 920.2,79.3 921.5,77.5 922.8,81.6 924,75.8 925.2,78.3 926.5,80.3 927.8,76.6 929,74.2 930.2,70.8 931.5,75.6 932.8,75.1 934,78.4 935.2,78.7 936.5,76.8 937.8,74.3 939,70.7 940.2,76.2 941.5,73.4 942.8,77.1 944,77.3 945.2,78.6 946.5,75.6 947.8,69.8 949,71.9 950.2,76.1 951.5,77.8 952.8,77.2 954,76.7 955.2,79.6 956.5,73.5 957.8,71.9 959,72.4 960.2,78.3 961.5,80.6 962.8,74 964,72.9 965.2,72.1 966.5,82 967.8,79.8 969,78.1 970.2,73.2 971.5,76.8 972.8,76.6 974,78.8 975.2,75.5 976.5,76.9 977.8,73.6 979,75.4 980.2,73.6 981.5,71.5 982.8,73.3 984,75.3 985.2,77.3 986.5,75.5 987.8,76.9 989,76.1 990.2,75.5 991.5,74.6 992.8,77.5 994,77.1 995.2,71.9 996.5,73.3 997.8,74.6 999,78.8 1000.2,75.8 1001.5,75.6 1002.8,74.8 1004,73.3 1005.2,71.3 1006.5,71 1007.8,71.8 1009,71 1010.2,73.4 1011.5,72.1 1012.8,75.6 1014,72.4 1015.2,75.6 1016.5,77 1017.8,79.4 1019,77.3 1020.2,74.7 1021.5,74.6 1022.8,72.6 1024,71.3 1025.2,71.4 1026.5,73.9 1027.8,75.2 1029,76.3 1030.2,78.7 1031.5,80.4 1032.8,80.1 1034,78 1035.2,76.2 1036.5,74.5 1037.8,74.5 1039,74.1 1040.2,71.3 1041.5,71.3 1042.8,71.6 1044,73 1045.2,73.6 1046.5,74.7 1047.8,76.3 1049,80.4 1050.2,74.3 1051.5,74.2 1052.8,66.5 1054,73.6 1055.2,79.2 1056.5,77.9 1057.8,76.2 1059,72 1060.2,76.3 1061.5,77.2 1062.8,71.7 1064,74 1065.2,73.6 1066.5,78.1 1067.8,75.3 1069,75.8 1070.2,74.8 1071.5,76.4 1072.8,74.1 1074,70.7 1075.2,70.2 1076.5,71.6 1077.8,77.5 1079,75.8 1080.2,75.3 1081.5,75.1 1082.8,77.1 1084,79.6 1085.2,82.3 1086.5,80.2 1087.8,74 1089,71.8 1090.2,76.6 1091.5,82.1 1092.8,82.1 1094,77.8 1095.2,74.6 1096.5,74.8 1097.8,74.2 1099,72 1100.2,68.3 1101.5,75 1102.8,82.4 1104,83 1105.2,76.6 1106.5,73.3 1107.8,73.2 1109,77.2 1110.2,76.6 1111.5,75.9 1112.8,75.9 1114,74.9 1115.2,77.5 1116.5,74.9 1117.8,75.4 1119,75.6 1120.2,74.3 1121.5,71.3 1122.8,66.3 1124,65.2 1125.2,67.3 1126.5,71.6 1127.8,74.2 1129,76.8 1130.2,77.1 1131.5,75.4 1132.8,72.9 1134,68.5 1135.2,69.8 1136.5,72.1 1137.8,77.3 1139,77.4 1140.2,76.1 1141.5,76.9 1142.8,77.2 1144,79 1145.2,78.3 1146.5,78.7 1147.8,79.8 1149,77.5 1150.2,76.4 1151.5,72.2 1152.8,71.8 1154,75.6 1155.2,80.6"/>
<polyline points="706.5,76.7 707.8,73.1 709,72.8 710.2,73.4 711.5,76.4 712.8,76.3 714,76.7 715.2,74.8 716.5,72.8 717.8,76.6 719,74.3 720.2,77.5 721.5,75.1 722.8,78 724,76.9 725.2,76.7 726.5,76.2 727.8,75.3 729,75.7 730.2,78.3 731.5,78.8 732.8,78.4 734,73.3 735.2,71.8 736.5,72.9 737.8,78.4 739,78 740.2,75.7 741.5,72.5 742.8,71.5 744,73.7 745.2,77.5 746.5,80.1 747.8,79.9 749,81 750.2,79 751.5,96.5 752.8,75.5 754,75.1 755.2,72.5 756.5,69.6 757.8,68.4 759,69.8 760.2,73.4 761.5,73.8 762.8,76 764,77.3 765.2,76.6 766.5,75.7 767.8,71 769,72.3 770.2,69.8 771.5,72.5 772.8,73.3 774,72.6 775.2,74.2 776.5,70.2 777.8,73.2 779,68.6 780.2,66.2 781.5,67.3 782.8,74.4 784,79.9 785.2,79.2 786.5,75.5 787.8,77.2 789,80.2 790.2,78.8 791.5,73.7 792.8,74.2 794,74.6 795.2,77.8 796.5,76.5 797.8,75.7 799,73.4 800.2,68.3 801.5,72 802.8,72.8 804,77.1 805.2,72.4 806.5,74 807.8,70.7 809,72.9 810.2,69 811.5,70.2 812.8,71.9 814,73.8 815.2,73.7 816.5,73.4 817.8,73.4 819,74.9 820.2,74.1 821.5,76.3 822.8,74.6 824,74.7 825.2,73.5 826.5,77.2 827.8,77.7 829,75.3 830.2,70.1 831.5,69.2 832.8,70.5 834,71.2 835.2,70.3 836.5,72.5 837.8,70.8 839,72.3 840.2,70.4 841.5,76.6 842.8,72.9 844,74.2 845.2,70.9 846.5,74.4 847.8,74.5 849,78.5 850.2,79 851.5,79.2 852.8,72.9 854,73.3 855.2,69.8 856.5,72.2 857.8,71.8 859,77 860.2,79.1 861.5,78.7 862.8,77.6 864,75.4 865.2,75.1 866.5,73.4 867.8,75.3 869,74.7 870.2,73 871.5,69.2 872.8,74.1 874,72.1 875.2,74.2 876.5,69.3 877.8,72.8 879,71.1 880.2,72.6 881.5,73.1 882.8,73.2 884,71.4 885.2,68.8 886.5,71.4 887.8,75.9 889,81.3 890.2,82.4 891.5,78.7 892.8,75.7 894,74.7 895.2,77.8 896.5,77.9 897.8,76.9 899,71.5 900.2,71.4 901.5,71.8 902.8,72.9 904,70.9 905.2,70.6 906.5,72.6 907.8,73.1 909,74.5 910.2,73.2 911.5,75.2 912.8,76.7 914,76.3 915.2,75.6 916.5,72.1 917.8,72.5 919,73.2 920.2,70.7 921.5,72 922.8,68.6 924,70.3 925.2,71.2 926.5,70.7 927.8,74.4 929,76.4 930.2,81.8 931.5,80.5 932.8,77.2 934,74.8 935.2,77.7 936.5,75.5 937.8,75.9 939,72.7 940.2,73.7 941.5,71.4 942.8,70.9 944,71.9 945.2,71 946.5,69.3 947.8,67.8 949,70.5 950.2,72.6 951.5,75.7 952.8,73.8 954,72.7 955.2,69.9 956.5,69.2 957.8,70.5 959,70.8 960.2,73.5 961.5,68.2 962.8,70.1 964,70.7 965.2,75.9 966.5,74 967.8,76.8 969,76.1 970.2,76.2 971.5,74.1 972.8,74.7 974,74.5 975.2,75.8 976.5,75.5 977.8,78.1 979,78 980.2,82 981.5,80.4 982.8,77.5 984,73.5 985.2,73.4 986.5,70 987.8,72.9 989,74 990.2,75.2 991.5,70.2 992.8,69.9 994,72.3 995.2,72.8 996.5,72.8 997.8,75.3 999,77.9 1000.2,77.8 1001.5,76.7 1002.8,71.9 1004,68.7 1005.2,67.9 1006.5,69.7 1007.8,72.8 1009,71.2 1010.2,71 1011.5,70.5 1012.8,67.9 1014,66.7 1015.2,68.1 1016.5,72.3 1017.8,72.6 1019,71.9 1020.2,75.1 1021.5,79.6 1022.8,76.9 1024,72.6 1025.2,66.4 1026.5,67.5 1027.8,66.2 1029,68.2 1030.2,69.9 1031.5,71.8 1032.8,72.8 1034,69.3 1035.2,71.6 1036.5,71.6 1037.8,71.9 1039,70.3 1040.2,73 1041.5,73 1042.8,73.8 1044,69.2 1045.2,73.5 1046.5,73.8 1047.8,75.8 1049,72.3 1050.2,68.3 1051.5,67.1 1052.8,70.5 1054,73.9 1055.2,75.5 1056.5,72.9 1057.8,72.1 1059,73.1 1060.2,69.6 1061.5,69 1062.8,68 1064,70.4 1065.2,70.2 1066.5,69.8 1067.8,69.7 1069,68.4 1070.2,66.1 1071.5,66.4 1072.8,68.5 1074,72.6 1075.2,74.2 1076.5,73.6 1077.8,70.6 1079,71.1 1080.2,70.9 1081.5,74.5 1082.8,74.2 1084,76.7 1085.2,75.4 1086.5,75.4 1087.8,74.1 1089,71.7 1090.2,73 1091.5,72.2 1092.8,72.3 1094,71.1 1095.2,73.1 1096.5,74.6 1097.8,70.1 1099,67.3 1100.2,67.3 1101.5,72.6 1102.8,72.1 1104,72.6 1105.2,73 1106.5,75.4 1107.8,71.7 1109,69.2 1110.2,66.9 1111.5,69.2 1112.8,70.1 1114,73.5 1115.2,74.4 1116.5,72.6 1117.8,68.1 1119,69.4 1120.2,69.7 1121.5,71.8 1122.8,73.3 1124,77.9 1125.2,81.2 1126.5,76.5 1127.8,76.9 1129,74.1 1130.2,78.3 1131.5,75.2 1132.8,77.5 1134,75.7 1135.2,75.8 1136.5,73.5 1137.8,71.9 1139,71.8 1140.2,73.7 1141.5,73.2 1142.8,73.5 1144,69.9 1145.2,69.8 1146.5,66.6 1147.8,71.9 1149,74.5 1150.2,76.9 1151.5,75.5 1152.8,71.3 1154,72.1 1155.2,69"/>
<polyline points="706.5,82.3 707.8,82.9 709,82.3 710.2,76.3 711.5,76.8 712.8,78.3 714,79.9 715.2,82.4 716.5,81.1 717.8,81.7 719,81.1 720.2,79.8 721.5,80.9 722.8,81.7 724,81 725.2,76.8 726.5,71.1 727.8,70.2 729,73.2 730.2,71.6 731.5,76.2 732.8,78.2 734,78.7 735.2,77.1 736.5,70.4 737.8,75.1 739,74.3 740.2,77.6 741.5,76.1 742.8,78.7 744,78.5 745.2,78.4 746.5,76.3 747.8,77.2 749,74.9 750.2,76 751.5,72 752.8,73.4 754,72.6 755.2,76.5 756.5,75 757.8,71.7 759,69.7 760.2,68.9 761.5,67 762.8,70.3 764,74.3 765.2,75.6 766.5,72.3 767.8,69.4 769,72.3 770.2,74.6 771.5,74.8 772.8,68 774,64.9 775.2,71.6 776.5,73.5 777.8,76 779,71.6 780.2,73.5 781.5,73.1 782.8,70 784,68.2 785.2,72.1 786.5,73.3 787.8,77 789,70.4 790.2,71.3 791.5,70.2 792.8,75.6 794,73.9 795.2,74.6 796.5,73.3 797.8,74 799,73.8 800.2,71.3 801.5,71.2 802.8,70.2 804,66.6 805.2,68 806.5,66 807.8,68.5 809,67.9 810.2,71.3 811.5,73.4 812.8,76.7 814,73 815.2,71.2 816.5,71.7 817.8,74.8 819,79.2 820.2,74.6 821.5,75.4 822.8,74 824,76.9 825.2,75.4 826.5,77.2 827.8,74.7 829,72.8 830.2,67.5 831.5,71 832.8,71.5 834,72.3 835.2,68.2 836.5,68.8 837.8,68.3 839,69.6 840.2,69.3 841.5,70.7 842.8,69.4 844,70.7 845.2,70.8 846.5,72.9 847.8,73.4 849,74.9 850.2,70.4 851.5,68.9 852.8,66.6 854,72.5 855.2,70.4 856.5,70.6 857.8,68.5 859,70.9 860.2,74.3 861.5,74 862.8,76.5 864,71.7 865.2,69 866.5,69.5 867.8,73.2 869,77.8 870.2,75.6 871.5,75.7 872.8,72.4 874,74 875.2,72 876.5,76.3 877.8,74.6 879,71.8 880.2,67.3 881.5,69.4 882.8,73 884,74.7 885.2,73 886.5,72.4 887.8,72.1 889,71.8 890.2,73 891.5,77 892.8,76.9 894,80.3 895.2,80.9 896.5,84.2 897.8,82.5 899,79.3 900.2,76.2 901.5,73.8 902.8,72.1 904,71.7 905.2,70.7 906.5,75.4 907.8,76.6 909,76.9 910.2,70 911.5,68.8 912.8,68.9 914,70.5 915.2,68.4 916.5,64.8 917.8,68 919,70.1 920.2,79.6 921.5,78.4 922.8,78.3 924,76 925.2,76.4 926.5,77 927.8,73.4 929,72 930.2,74.6 931.5,77.3 932.8,81.8 934,78.2 935.2,76.3 936.5,71.2 937.8,73.8 939,71 940.2,73.8 941.5,74.1 942.8,79.6 944,76.6 945.2,76.6 946.5,72.4 947.8,72.8 949,68.1 950.2,71.7 951.5,76.5 952.8,77.9 954,74.1 955.2,70.2 956.5,76.3 957.8,79.8 959,79.4 960.2,70.9 961.5,67.6 962.8,71 964,78.2 965.2,79 966.5,75.3 967.8,70.7 969,67.5 970.2,70.6 971.5,69.5 972.8,75.3 974,70.2 975.2,69.8 976.5,68.3 977.8,70.1 979,74.2 980.2,73.6 981.5,72.8 982.8,72.5 984,74.1 985.2,72.7 986.5,75 987.8,74.4 989,79.6 990.2,72.4 991.5,70 992.8,67.8 994,73.6 995.2,72.1 996.5,71.1 997.8,65 999,67.4 1000.2,69.8 1001.5,70.4 1002.8,69.8 1004,70.1 1005.2,76.5 1006.5,79 1007.8,77.4 1009,71.9 1010.2,68.8 1011.5,68.1 1012.8,70.7 1014,72.4 1015.2,77 1016.5,77.3 1017.8,75.3 1019,75 1020.2,76.3 1021.5,78.6 1022.8,74.2 1024,68.7 1025.2,66.5 1026.5,69.7 1027.8,71.8 1029,71.2 1030.2,69.8 1031.5,71.8 1032.8,75.6 1034,76.5 1035.2,78.8 1036.5,76 1037.8,76.6 1039,71.9 1040.2,74.9 1041.5,73.3 1042.8,75.7 1044,76.3 1045.2,75.9 1046.5,77.6 1047.8,77.4 1049,77.7 1050.2,74.4 1051.5,71.2 1052.8,69.9 1054,70.6 1055.2,72.1 1056.5,79 1057.8,80.6 1059,82.2 1060.2,74.6 1061.5,72 1062.8,69.8 1064,71.9 1065.2,71.3 1066.5,75.1 1067.8,73.6 1069,77.7 1070.2,70 1071.5,71.1 1072.8,69.5 1074,74.5 1075.2,75.7 1076.5,75.7 1077.8,75.6 1079,70.7 1080.2,68.8 1081.5,63.8 1082.8,68.8 1084,70.8 1085.2,75 1086.5,72.2 1087.8,70.4 1089,74.4 1090.2,79.4 1091.5,80.5 1092.8,79.4 1094,72.8 1095.2,69.2 1096.5,65.7 1097.8,67.1 1099,69.8 1100.2,71.1 1101.5,78.8 1102.8,78.6 1104,78.3 1105.2,72.9 1106.5,74.1 1107.8,75.9 1109,78.8 1110.2,76.4 1111.5,74.9 1112.8,70.9 1114,74 1115.2,70.7 1116.5,67.8 1117.8,62.5 1119,66.6 1120.2,70.4 1121.5,75.1 1122.8,69.4 1124,68.3 1125.2,66.7 1126.5,68.6 1127.8,67.5 1129,70.3 1130.2,74.2 1131.5,75.9 1132.8,75.6 1134,73.3 1135.2,73.5 1136.5,72.6 1137.8,74.9 1139,74.6 1140.2,74.2 1141.5,72.9 1142.8,71.7 1144,76.4 1145.2,77.7 1146.5,79.8 1147.8,79.9 1149,81.6 1150.2,77.7 1151.5,74.6 1152.8,73.5 1154,80.3 1155.2,81.5"/>
<polyline points="706.5,73 707.8,77.6 709,76.4 710.2,78.7 711.5,76.5 712.8,80.3 714,82.9 715.2,83.1 716.5,81 717.8,77.7 719,77.7 720.2,77.6 721.5,77 722.8,76.5 724,77.1 725.2,81.8 726.5,80.6 727.8,82.1 729,76.7 730.2,77.4 731.5,77.2 732.8,78.3 734,78.9 735.2,78 736.5,80.9 737.8,78.4 739,79.1 740.2,78.9 741.5,80.4 742.8,81.3 744,79.7 745.2,81.8 746.5,87.3 747.8,86.3 749,85.3 750.2,78 751.5,77.4 752.8,80.6 754,83.5 755.2,85.7 756.5,80.2 757.8,82.5 759,84.9 760.2,86.7 761.5,80.9 762.8,78.2 764,81.6 765.2,82.2 766.5,80.1 767.8,76.2 769,72.1 770.2,75.1 771.5,75.8 772.8,82.3 774,81.4 775.2,81.8 776.5,79.7 777.8,75.8 779,75.2 780.2,75.5 781.5,80.9 782.8,82 784,79.7 785.2,77.4 786.5,76.8 787.8,80.9 789,80 790.2,75.8 791.5,72 792.8,72.3 794,78.7 795.2,81.1 796.5,79.1 797.8,77.9 799,80 800.2,83.9 801.5,80.2 802.8,80.1 804,80.4 805.2,80.6 806.5,81.6 807.8,80.5 809,78.3 810.2,74.6 811.5,74.1 812.8,79.3 814,79.6 815.2,78.1 816.5,77.8 817.8,78.5 819,80 820.2,78.9 821.5,75.2 822.8,75.1 824,74.2 825.2,76.2 826.5,75.7 827.8,73.1 829,74.4 830.2,73.9 831.5,77 832.8,73.9 834,75.2 835.2,75 836.5,80.3 837.8,76.8 839,75.1 840.2,71.8 841.5,72.9 842.8,74.8 844,79.8 845.2,82.9 846.5,83.5 847.8,79.7 849,80.2 850.2,80.9 851.5,79.8 852.8,78.2 854,79.8 855.2,81.4 856.5,81.9 857.8,79.8 859,76 860.2,74.3 861.5,70.9 862.8,72.6 864,77.3 865.2,82.7 866.5,83 867.8,79.2 869,78.5 870.2,80.2 871.5,79.2 872.8,77.6 874,77.4 875.2,80.4 876.5,82.1 877.8,82.7 879,82 880.2,79.4 881.5,74.5 882.8,72.4 884,75.1 885.2,81.2 886.5,84.4 887.8,81.8 889,75.3 890.2,75.3 891.5,74.1 892.8,77.1 894,78.5 895.2,79.2 896.5,78.7 897.8,76.8 899,77 900.2,79.5 901.5,81.8 902.8,82.5 904,83.7 905.2,78.3 906.5,79.1 907.8,75.5 909,72.5 910.2,71.6 911.5,73.5 912.8,77.8 914,75.9 915.2,75.8 916.5,74.8 917.8,79.1 919,79.7 920.2,82.2 921.5,79.9 922.8,78 924,80.5 925.2,84.9 926.5,85.6 927.8,77.8 929,71.4 930.2,68 931.5,75.6 932.8,75.2 934,80.6 935.2,78.2 936.5,80.6 937.8,80.8 939,79.9 940.2,82.6 941.5,82.1 942.8,81.2 944,78.7 945.2,78.7 946.5,75.5 947.8,77.5 949,74.7 950.2,80.8 951.5,78.2 952.8,77.8 954,72.1 955.2,70 956.5,69.2 957.8,73.1 959,73.5 960.2,75.6 961.5,76.3 962.8,79.5 964,80.1 965.2,80.7 966.5,78.5 967.8,78.3 969,77.1 970.2,79.3 971.5,74.8 972.8,73.7 974,70.9 975.2,72.9 976.5,73.2 977.8,74.1 979,75.2 980.2,73.8 981.5,72.3 982.8,72.1 984,72.5 985.2,75.4 986.5,76.3 987.8,79.3 989,77.1 990.2,76.9 991.5,75.2 992.8,77 994,74.8 995.2,78.2 996.5,78.5 997.8,83.4 999,78.6 1000.2,78.5 1001.5,77.7 1002.8,79.2 1004,79.2 1005.2,76.5 1006.5,80.2 1007.8,81.7 1009,82.2 1010.2,78.8 1011.5,75.6 1012.8,77.6 1014,77.2 1015.2,77.9 1016.5,77.3 1017.8,82.3 1019,83.2 1020.2,81.3 1021.5,75.4 1022.8,77 1024,76.9 1025.2,75.5 1026.5,76.1 1027.8,74.3 1029,73.6 1030.2,71.1 1031.5,73.9 1032.8,73.8 1034,70.7 1035.2,71.4 1036.5,73.6 1037.8,72.8 1039,75 1040.2,79 1041.5,86.5 1042.8,83.8 1044,79 1045.2,74.5 1046.5,76.9 1047.8,78.3 1049,76.5 1050.2,75.7 1051.5,78.1 1052.8,79.2 1054,75.9 1055.2,75.6 1056.5,74.4 1057.8,76.8 1059,74.8 1060.2,79.7 1061.5,77.1 1062.8,77 1064,73.6 1065.2,78.5 1066.5,80.5 1067.8,80.1 1069,75.9 1070.2,74.9 1071.5,76.5 1072.8,78.7 1074,75.9 1075.2,75.1 1076.5,77.8 1077.8,82.5 1079,81.9 1080.2,81.6 1081.5,81.9 1082.8,79.3 1084,76.5 1085.2,75.9 1086.5,80.4 1087.8,79.6 1089,80.1 1090.2,80.6 1091.5,76.3 1092.8,74 1094,73.6 1095.2,75.6 1096.5,77.9 1097.8,77.5 1099,76.9 1100.2,74.2 1101.5,72.9 1102.8,77 1104,75.8 1105.2,76.2 1106.5,77.8 1107.8,78.4 1109,78.5 1110.2,75.6 1111.5,75.1 1112.8,77.4 1114,75.2 1115.2,75.6 1116.5,77.9 1117.8,76.8 1119,75.7 1120.2,72.2 1121.5,71 1122.8,68.5 1124,67 1125.2,73.6 1126.5,78.7 1127.8,79 1129,74.7 1130.2,79.2 1131.5,81.3 1132.8,81.5 1134,79.8 1135.2,81.3 1136.5,82.1 1137.8,75.5 1139,76.9 1140.2,78 1141.5,80.4 1142.8,76.9 1144,76.5 1145.2,79.8 1146.5,78 1147.8,78.5 1149,77.4 1150.2,81.2 1151.5,79.8 1152.8,77.5 1154,77.8 1155.2,79.1"/>
<polyline points="706.5,75.8 707.8,81.6 709,81.4 710.2,82.5 711.5,81.1 712.8,77.3 714,76.6 715.2,74 716.5,73.7 717.8,74.4 719,75.3 720.2,80.6 721.5,74 722.8,72.9 724,68.3 725.2,74 726.5,76.1 727.8,78.7 729,79.7 730.2,77.9 731.5,78.1 732.8,78.7 734,76.1 735.2,74.6 736.5,71.2 737.8,72.5 739,73.3 740.2,76.1 741.5,78.6 742.8,76.6 744,76.1 745.2,74.1 746.5,76.6 747.8,78.3 749,83.5 750.2,85.3 751.5,82.3 752.8,78 754,74.5 755.2,76.7 756.5,81.4 757.8,84.7 759,79.8 760.2,73.4 761.5,69.5 762.8,74.8 764,77.3 765.2,80.4 766.5,82.9 767.8,81.3 769,79 770.2,79.4 771.5,81.7 772.8,81.8 774,74 775.2,70.3 776.5,67 777.8,71.1 779,74.2 780.2,81 781.5,80.6 782.8,79.1 784,75.7 785.2,79.7 786.5,77.6 787.8,79.4 789,75.7 790.2,80.4 791.5,79.3 792.8,80.2 794,80.6 795.2,81.1 796.5,79.2 797.8,77.2 799,75.6 800.2,76.1 801.5,75.9 802.8,78.2 804,81.2 805.2,84.4 806.5,83.1 807.8,81.7 809,79.7 810.2,82.1 811.5,80.9 812.8,80.9 814,78.4 815.2,76.9 816.5,78 817.8,81.5 819,84.4 820.2,83.5 821.5,81.5 822.8,79.3 824,74.9 825.2,75.7 826.5,77 827.8,79.4 829,76.2 830.2,78.3 831.5,75.9 832.8,81.2 834,80 835.2,88.2 836.5,83.3 837.8,82 839,76.4 840.2,78.1 841.5,77.7 842.8,77.2 844,79 845.2,77.9 846.5,78.4 847.8,77.3 849,77.8 850.2,78 851.5,77.6 852.8,77.9 854,76.3 855.2,75.4 856.5,75.7 857.8,81.5 859,79.6 860.2,81.9 861.5,77 862.8,78.5 864,75.9 865.2,78 866.5,80.4 867.8,84.5 869,82.7 870.2,83.6 871.5,82.1 872.8,85 874,80.9 875.2,80.7 876.5,78.9 877.8,81 879,78.8 880.2,80.3 881.5,81.8 882.8,84.5 884,82.8 885.2,82.6 886.5,83.2 887.8,81.8 889,82.7 890.2,77.2 891.5,80.1 892.8,78.4 894,83.9 895.2,83.4 896.5,81.3 897.8,76.8 899,73.8 900.2,76.3 901.5,77.4 902.8,78.4 904,78 905.2,76.9 906.5,77.5 907.8,75.5 909,80.3 910.2,84 911.5,84.6 912.8,78.3 914,75.9 915.2,76.4 916.5,80.2 917.8,80.7 919,80 920.2,81.1 921.5,81.6 922.8,82.7 924,80.1 925.2,77.5 926.5,78.4 927.8,77.1 929,77.7 930.2,74.9 931.5,74.3 932.8,75.8 934,77.2 935.2,80 936.5,80.5 937.8,77.7 939,77.5 940.2,76.3 941.5,80.9 942.8,78.9 944,79.7 945.2,78.5 946.5,83.3 947.8,84.1 949,84.8 950.2,86.3 951.5,84.1 952.8,82.2 954,77.3 955.2,75.4 956.5,76.2 957.8,73.2 959,74.9 960.2,75.8 961.5,81.4 962.8,80.9 964,82.8 965.2,79.6 966.5,80 967.8,73.6 969,73.4 970.2,72.1 971.5,78.6 972.8,81.1 974,80.6 975.2,78.7 976.5,78.6 977.8,80.3 979,79.3 980.2,77.8 981.5,77.2 982.8,73.8 984,74.2 985.2,77.7 986.5,83.8 987.8,83.5 989,79.6 990.2,76.4 991.5,78.7 992.8,80.8 994,80.1 995.2,79 996.5,78 997.8,80.1 999,78.6 1000.2,76.2 1001.5,75.3 1002.8,77.5 1004,78.2 1005.2,77.9 1006.5,78.2 1007.8,79.6 1009,78.5 1010.2,80.7 1011.5,83 1012.8,86.2 1014,80.5 1015.2,82.1 1016.5,76.9 1017.8,77.8 1019,76.1 1020.2,81.8 1021.5,81 1022.8,78.3 1024,76.1 1025.2,74.2 1026.5,76.7 1027.8,77.4 1029,80.2 1030.2,80 1031.5,80.5 1032.8,81.9 1034,81.9 1035.2,83.3 1036.5,81.8 1037.8,81.1 1039,77.2 1040.2,80.1 1041.5,79 1042.8,80.9 1044,79.2 1045.2,80.1 1046.5,82.5 1047.8,82 1049,84.6 1050.2,82.9 1051.5,85.6 1052.8,82.6 1054,82.8 1055.2,81.7 1056.5,80.8 1057.8,79.6 1059,77.9 1060.2,79 1061.5,81 1062.8,79.8 1064,76.7 1065.2,70.9 1066.5,71.4 1067.8,73.4 1069,76.7 1070.2,78.7 1071.5,83.2 1072.8,83.8 1074,83.6 1075.2,78.9 1076.5,79.4 1077.8,81.1 1079,85 1080.2,80.2 1081.5,79.3 1082.8,79.8 1084,85 1085.2,80.5 1086.5,77 1087.8,76.5 1089,80.1 1090.2,79.2 1091.5,76.4 1092.8,77.4 1094,76.4 1095.2,80.8 1096.5,79 1097.8,82.1 1099,76.9 1100.2,75.7 1101.5,76.5 1102.8,76.2 1104,81.2 1105.2,77.3 1106.5,77.8 1107.8,73.9 1109,77.5 1110.2,81.2 1111.5,80.4 1112.8,79.1 1114,77.3 1115.2,76.9 1116.5,72.4 1117.8,74.7 1119,76.2 1120.2,81.4 1121.5,78.4 1122.8,78.4 1124,78.1 1125.2,79.1 1126.5,80.7 1127.8,77.5 1129,78.1 1130.2,74 1131.5,76.7 1132.8,79 1134,79 1135.2,79.4 1136.5,75.5 1137.8,79.3 1139,77.6 1140.2,75.6 1141.5,74.7 1142.8,75.9 1144,78.5 1145.2,79.6 1146.5,78.6 1147.8,78.5 1149,76.7 1150.2,79.2 1151.5,78.9 1152.8,80.6 1154,84 1155.2,84.2"/>
<polyline points="706.5,85.3 707.8,76.8 709,74.1 710.2,74.4 711.5,82.1 712.8,79.6 714,76.1 715.2,76.5 716.5,71.5 717.8,74.9 719,73.8 720.2,78.5 721.5,77.2 722.8,80.5 724,78.5 725.2,77.5 726.5,79.6 727.8,82.1 729,76.8 730.2,78.4 731.5,76.5 732.8,75.6 734,75.4 735.2,76.5 736.5,74.3 737.8,77.3 739,76.9 740.2,78.9 741.5,80.6 742.8,83.5 744,76.6 745.2,77.6 746.5,79.4 747.8,76.3 749,81 750.2,80 751.5,78 752.8,81.4 754,76.8 755.2,78 756.5,77.5 757.8,78.1 759,74.9 760.2,78.4 761.5,81.3 762.8,80.2 764,81.5 765.2,80.1 766.5,81.1 767.8,76 769,77.7 770.2,74 771.5,85.4 772.8,84.6 774,78.5 775.2,77.4 776.5,80.1 777.8,76.2 779,82.2 780.2,85.2 781.5,74.1 782.8,76.8 784,82 785.2,82.5 786.5,80.7 787.8,79.5 789,78.4 790.2,79.1 791.5,77.1 792.8,77.6 794,77.3 795.2,83.1 796.5,73.3 797.8,81.5 799,74.5 800.2,74.7 801.5,72.8 802.8,76.2 804,79.9 805.2,77.5 806.5,78.7 807.8,76.1 809,79.1 810.2,74.4 811.5,79.4 812.8,77.4 814,75.4 815.2,82.1 816.5,83.1 817.8,77.2 819,82.5 820.2,79.8 821.5,81.7 822.8,80.9 824,79.2 825.2,77.4 826.5,82.6 827.8,76.8 829,78.7 830.2,80.6 831.5,73.5 832.8,80.6 834,77.5 835.2,78 836.5,80.1 837.8,78.9 839,79.3 840.2,77 841.5,76.5 842.8,77.9 844,77.6 845.2,76.1 846.5,82.4 847.8,83.4 849,74.4 850.2,77.7 851.5,81.3 852.8,72.1 854,81.4 855.2,79 856.5,80.7 857.8,81.5 859,82.4 860.2,75 861.5,80.5 862.8,79.1 864,80.6 865.2,74.8 866.5,76.2 867.8,80.8 869,81.8 870.2,83.4 871.5,74.1 872.8,82.4 874,77.9 875.2,78 876.5,77.8 877.8,80.5 879,81.8 880.2,76.3 881.5,80.4 882.8,79.2 884,76.6 885.2,81.2 886.5,76.2 887.8,77.4 889,78.5 890.2,79 891.5,76.4 892.8,77.5 894,81.9 895.2,79.1 896.5,79.6 897.8,78.7 899,81.4 900.2,82.2 901.5,78.4 902.8,81 904,76.5 905.2,78.7 906.5,75.5 907.8,77.2 909,87.4 910.2,76.3 911.5,82.4 912.8,79.5 914,79.5 915.2,72.9 916.5,79.4 917.8,74.7 919,76.9 920.2,76.7 921.5,77.7 922.8,83.8 924,83.5 925.2,73.8 926.5,77.7 927.8,76.5 929,79.1 930.2,74 931.5,74.6 932.8,78.5 934,76.6 935.2,81.7 936.5,77.9 937.8,79.3 939,77.4 940.2,80.9 941.5,82 942.8,78.5 944,77.3 945.2,80.3 946.5,79 947.8,81.4 949,79 950.2,79 951.5,80.9 952.8,76.4 954,75.2 955.2,80 956.5,78.2 957.8,80.4 959,81 960.2,79.7 961.5,77.1 962.8,83.1 964,72.3 965.2,76.6 966.5,75.2 967.8,84.2 969,77.7 970.2,78.1 971.5,80.4 972.8,82.2 974,81.5 975.2,78.5 976.5,79.2 977.8,75.7 979,79.5 980.2,77.9 981.5,72.6 982.8,79.3 984,78.4 985.2,80.9 986.5,80.5 987.8,79 989,78.2 990.2,83.2 991.5,79.3 992.8,81.6 994,79.9 995.2,82.5 996.5,81.5 997.8,75.6 999,80.3 1000.2,83.2 1001.5,82.6 1002.8,77.8 1004,83.4 1005.2,81.3 1006.5,80.6 1007.8,76.9 1009,80 1010.2,80.2 1011.5,73 1012.8,77.4 1014,74.5 1015.2,73.7 1016.5,79.3 1017.8,81.2 1019,78.7 1020.2,74.5 1021.5,75.1 1022.8,81.2 1024,78.2 1025.2,79.6 1026.5,78 1027.8,79.2 1029,76.9 1030.2,76.9 1031.5,74.8 1032.8,78.9 1034,78.6 1035.2,82 1036.5,85.3 1037.8,79.3 1039,70.8 1040.2,75.4 1041.5,82.5 1042.8,80.1 1044,78.3 1045.2,76.2 1046.5,80.1 1047.8,79.7 1049,81.8 1050.2,82.6 1051.5,83.2 1052.8,81.6 1054,75.5 1055.2,80.4 1056.5,75.6 1057.8,76.8 1059,76.6 1060.2,75.4 1061.5,76.4 1062.8,82.9 1064,78.5 1065.2,83.3 1066.5,79.2 1067.8,73.7 1069,76.9 1070.2,83.4 1071.5,81.9 1072.8,78.3 1074,78.1 1075.2,82.2 1076.5,80.2 1077.8,78.2 1079,82 1080.2,78.9 1081.5,75.9 1082.8,74.6 1084,73 1085.2,85.4 1086.5,79.4 1087.8,83.6 1089,79.3 1090.2,79.1 1091.5,79.4 1092.8,79.5 1094,75 1095.2,78.7 1096.5,81.6 1097.8,85 1099,77.6 1100.2,80 1101.5,80.8 1102.8,83 1104,80.3 1105.2,77.9 1106.5,83.7 1107.8,79.6 1109,79.1 1110.2,87 1111.5,74.6 1112.8,78.8 1114,75.8 1115.2,83.1 1116.5,76.2 1117.8,79.4 1119,79.9 1120.2,77.9 1121.5,78.6 1122.8,77.7 1124,76.9 1125.2,76.4 1126.5,79.4 1127.8,78 1129,76 1130.2,77.6 1131.5,84.8 1132.8,75.3 1134,77.3 1135.2,77.3 1136.5,78.7 1137.8,81 1139,76.8 1140.2,79.6 1141.5,80.2 1142.8,83.4 1144,77.2 1145.2,76.8 1146.5,80.8 1147.8,78.7 1149,77.2 1150.2,78 1151.5,82.5 1152.8,74.3 1154,78.2 1155.2,83.5"/>
<polyline points="706.5,77.5 707.8,80.5 709,71.9 710.2,78.6 711.5,80.3 712.8,81.7 714,75.4 715.2,76.2 716.5,72.7 717.8,75.1 719,79.5 720.2,83.8 721.5,74.8 722.8,81.9 724,79.2 725.2,76.6 726.5,84.2 727.8,70.9 729,77.8 730.2,78.6 731.5,84 732.8,83.1 734,84.4 735.2,78.4 736.5,80.8 737.8,81.8 739,79.4 740.2,79 741.5,77.5 742.8,76.8 744,74.5 745.2,83.5 746.5,76.7 747.8,72.1 749,78.7 750.2,77.9 751.5,78.5 752.8,83.1 754,77.5 755.2,77.1 756.5,75.7 757.8,77.8 759,76.6 760.2,78.4 761.5,86.6 762.8,78.9 764,75.4 765.2,83.3 766.5,80.3 767.8,80.1 769,79.9 770.2,80.1 771.5,79.7 772.8,81.8 774,80.7 775.2,81.6 776.5,76.4 777.8,77.8 779,75.8 780.2,80.5 781.5,80.2 782.8,76.5 784,79.5 785.2,85.2 786.5,81.3 787.8,74.7 789,77.6 790.2,79.6 791.5,77.7 792.8,78.9 794,81.2 795.2,78.8 796.5,74.7 797.8,79.9 799,77.6 800.2,78.2 801.5,76.2 802.8,73.9 804,74.3 805.2,76.8 806.5,74.8 807.8,70.2 809,81.1 810.2,74.6 811.5,75.8 812.8,79.3 814,71 815.2,81.6 816.5,75.7 817.8,79.7 819,76.5 820.2,78.7 821.5,78.1 822.8,77.8 824,72.7 825.2,73.7 826.5,77.7 827.8,81.8 829,76.3 830.2,79.3 831.5,78.3 832.8,79.2 834,80.6 835.2,73.6 836.5,78.6 837.8,77.3 839,77 840.2,75.4 841.5,75.6 842.8,74.9 844,74.7 845.2,84.9 846.5,82.6 847.8,77.9 849,79.9 850.2,75.1 851.5,70 852.8,72.7 854,78.2 855.2,81.9 856.5,77.7 857.8,75 859,77.2 860.2,75 861.5,73.9 862.8,77.2 864,76.7 865.2,75.5 866.5,75.3 867.8,75.2 869,78.5 870.2,81.8 871.5,77.2 872.8,84.2 874,73.3 875.2,78.6 876.5,74.6 877.8,77.4 879,78.1 880.2,79.4 881.5,81 882.8,76.3 884,74.3 885.2,77.3 886.5,78.7 887.8,75.9 889,80.4 890.2,82.6 891.5,73.8 892.8,78.9 894,80.7 895.2,72.4 896.5,78.4 897.8,77.2 899,73.8 900.2,81.6 901.5,78.4 902.8,76.5 904,79.1 905.2,79.7 906.5,80 907.8,79.5 909,79 910.2,74.5 911.5,76.6 912.8,78.2 914,70 915.2,83.9 916.5,76.8 917.8,74.9 919,72.7 920.2,78.5 921.5,77.9 922.8,76.2 924,76.7 925.2,75.3 926.5,75.7 927.8,77.6 929,76 930.2,79.8 931.5,77.4 932.8,78.2 934,79 935.2,81.4 936.5,79.5 937.8,78.5 939,77.4 940.2,75.6 941.5,76.9 942.8,79.8 944,78.5 945.2,76.7 946.5,74.1 947.8,73.5 949,78.7 950.2,80.7 951.5,78.9 952.8,74 954,77.2 955.2,78.5 956.5,75.2 957.8,78.8 959,77.3 960.2,75.5 961.5,74.3 962.8,80.1 964,78.8 965.2,75.3 966.5,75 967.8,80.4 969,79.5 970.2,77 971.5,82.3 972.8,77 974,74.9 975.2,80.9 976.5,77.3 977.8,78.8 979,77.9 980.2,75 981.5,74.5 982.8,77.3 984,81.8 985.2,75 986.5,81.7 987.8,78.5 989,74.7 990.2,78.6 991.5,79.4 992.8,75.3 994,71.8 995.2,78.8 996.5,74.7 997.8,79.1 999,72.4 1000.2,77.4 1001.5,75.6 1002.8,73.7 1004,77.2 1005.2,78.3 1006.5,76.3 1007.8,74.5 1009,78.4 1010.2,72.9 1011.5,79.3 1012.8,79.2 1014,82.6 1015.2,80.3 1016.5,78.8 1017.8,78.6 1019,77.9 1020.2,74.1 1021.5,82 1022.8,79.3 1024,77 1025.2,74.6 1026.5,82 1027.8,79.3 1029,74.5 1030.2,79.7 1031.5,83.2 1032.8,77.8 1034,79 1035.2,76.7 1036.5,76.1 1037.8,80.9 1039,86.5 1040.2,78.2 1041.5,77.5 1042.8,80.1 1044,77 1045.2,79.9 1046.5,80.2 1047.8,75 1049,74.8 1050.2,77.6 1051.5,80.2 1052.8,78.6 1054,81.3 1055.2,74 1056.5,79.2 1057.8,76.1 1059,78.1 1060.2,78.7 1061.5,75.1 1062.8,77.2 1064,74.6 1065.2,78.6 1066.5,75.4 1067.8,76.4 1069,78.5 1070.2,76 1071.5,81.1 1072.8,76 1074,80.2 1075.2,78.6 1076.5,74.9 1077.8,77.2 1079,75.5 1080.2,76.8 1081.5,77.1 1082.8,83 1084,76.7 1085.2,82.2 1086.5,79.1 1087.8,74.2 1089,71.3 1090.2,79.7 1091.5,72.2 1092.8,79.9 1094,80.7 1095.2,78.9 1096.5,77.2 1097.8,77.1 1099,78.6 1100.2,77 1101.5,76.3 1102.8,76.8 1104,81.1 1105.2,76.1 1106.5,78.9 1107.8,74.6 1109,75.8 1110.2,74 1111.5,77.3 1112.8,79.8 1114,78.7 1115.2,76.5 1116.5,79.6 1117.8,76.9 1119,78.9 1120.2,78.6 1121.5,79.4 1122.8,70.9 1124,74.2 1125.2,80 1126.5,77.5 1127.8,84.1 1129,77.2 1130.2,76.3 1131.5,82 1132.8,79.4 1134,83.2 1135.2,79.3 1136.5,77.3 1137.8,79.9 1139,75.6 1140.2,76.6 1141.5,76.3 1142.8,77.2 1144,80 1145.2,76.5 1146.5,78.7 1147.8,76.4 1149,80.3 1150.2,70.1 1151.5,77.3 1152.8,78.3 1154,74.8 1155.2,80.7"/>
<polyline points="706.5,76.8 707.8,77.6 709,73.4 710.2,79 711.5,74 712.8,79.9 714,82.1 715.2,81.6 716.5,82.7 717.8,82.6 719,84.9 720.2,77.8 721.5,75.6 722.8,77.6 724,75.2 725.2,81.9 726.5,71.3 727.8,78.1 729,80.8 730.2,79.8 731.5,80.6 732.8,75 734,76.8 735.2,77.7 736.5,79.5 737.8,79.8 739,82.4 740.2,74.5 741.5,78.9 742.8,84.5 744,81.8 745.2,78.8 746.5,80.6 747.8,77.5 749,82 750.2,76.5 751.5,80.5 752.8,78.8 754,76.2 755.2,79 756.5,78.2 757.8,76.5 759,78.9 760.2,76 761.5,81.7 762.8,79.9 764,81.4 765.2,80.4 766.5,79.2 767.8,74.5 769,77.6 770.2,78.5 771.5,77 772.8,78.2 774,77.4 775.2,77.1 776.5,75.9 777.8,77 779,75.3 780.2,81.4 781.5,79.2 782.8,79.8 784,80.8 785.2,77.4 786.5,81.6 787.8,73.4 789,76.7 790.2,78.5 791.5,83.3 792.8,81.6 794,80.8 795.2,80.6 796.5,76.9 797.8,78 799,76.6 800.2,78.7 801.5,75 802.8,77.6 804,77 805.2,79.8 806.5,76.7 807.8,79.4 809,79.8 810.2,79.9 811.5,80.7 812.8,75.8 814,78.7 815.2,78 816.5,81.5 817.8,77.2 819,79.3 820.2,74.7 821.5,77.5 822.8,76.4 824,78.3 825.2,76.6 826.5,78.3 827.8,79 829,75.6 830.2,80.5 831.5,76.7 832.8,84.2 834,81.6 835.2,80.2 836.5,78.7 837.8,82.2 839,79.3 840.2,73.9 841.5,80.3 842.8,79.2 844,71.6 845.2,73.5 846.5,82.2 847.8,79.4 849,76.4 850.2,73.3 851.5,75.4 852.8,82.8 854,72 855.2,79.9 856.5,85.2 857.8,78.8 859,75.8 860.2,79.9 861.5,80.2 862.8,79.5 864,77.9 865.2,74 866.5,79.9 867.8,80.5 869,79.5 870.2,79.8 871.5,78.8 872.8,80.9 874,88.2 875.2,76.8 876.5,79.2 877.8,75.1 879,73.3 880.2,78.4 881.5,82.4 882.8,75.7 884,77.1 885.2,76.9 886.5,74.4 887.8,74.4 889,78.6 890.2,77.1 891.5,77.8 892.8,75.7 894,82.3 895.2,84.7 896.5,76.1 897.8,74.1 899,81.9 900.2,82.4 901.5,84.1 902.8,75.9 904,78.1 905.2,72.8 906.5,79.6 907.8,74.7 909,73.3 910.2,80.5 911.5,79.6 912.8,72.6 914,76.1 915.2,85.4 916.5,71.5 917.8,76.9 919,84 920.2,83.4 921.5,78.8 922.8,76.2 924,79.4 925.2,76.5 926.5,79.4 927.8,81.4 929,78.6 930.2,81.7 931.5,82 932.8,75.9 934,77.6 935.2,75.5 936.5,79.4 937.8,73.3 939,75.5 940.2,72 941.5,79.7 942.8,75.7 944,81.9 945.2,80.5 946.5,79.7 947.8,76.1 949,73.8 950.2,75.2 951.5,78.4 952.8,78.1 954,77.8 955.2,78.4 956.5,82.4 957.8,81.7 959,74.9 960.2,80.3 961.5,75.8 962.8,79 964,78.9 965.2,81 966.5,80.6 967.8,75 969,78 970.2,79.5 971.5,77.7 972.8,82.8 974,74.3 975.2,79.8 976.5,78.8 977.8,76.9 979,78 980.2,77.6 981.5,79.1 982.8,76.7 984,77.3 985.2,85.6 986.5,77 987.8,79.9 989,81.4 990.2,75.8 991.5,80.6 992.8,76.5 994,71.1 995.2,78.3 996.5,69.7 997.8,78 999,80.4 1000.2,83.4 1001.5,80.2 1002.8,81.3 1004,80.1 1005.2,78.3 1006.5,81.3 1007.8,77.2 1009,79.1 1010.2,76.3 1011.5,77.5 1012.8,79.4 1014,72.9 1015.2,76.4 1016.5,75.5 1017.8,78.1 1019,83.9 1020.2,75.7 1021.5,77.7 1022.8,77.3 1024,76.1 1025.2,76.1 1026.5,81 1027.8,77.6 1029,76.2 1030.2,74.8 1031.5,75.8 1032.8,80.8 1034,75.5 1035.2,72.7 1036.5,75.6 1037.8,78.4 1039,79.3 1040.2,78.2 1041.5,80.6 1042.8,74.5 1044,75.4 1045.2,77.2 1046.5,78.4 1047.8,72.2 1049,77.7 1050.2,73.5 1051.5,80.8 1052.8,78.9 1054,83 1055.2,83.8 1056.5,79.6 1057.8,77.3 1059,75.1 1060.2,76.3 1061.5,81.1 1062.8,79.2 1064,78.3 1065.2,74.2 1066.5,77.4 1067.8,83.1 1069,77.4 1070.2,81.8 1071.5,71.3 1072.8,82.2 1074,75.2 1075.2,74.1 1076.5,77.1 1077.8,75.8 1079,82.8 1080.2,77.3 1081.5,77.5 1082.8,76.1 1084,80.3 1085.2,81.6 1086.5,80.7 1087.8,73.7 1089,77.4 1090.2,79.6 1091.5,72.4 1092.8,77.7 1094,80.8 1095.2,82.4 1096.5,79.5 1097.8,80.5 1099,80.6 1100.2,79.1 1101.5,72.7 1102.8,83.4 1104,80.1 1105.2,77.9 1106.5,75.8 1107.8,84.8 1109,79.2 1110.2,80.7 1111.5,77 1112.8,78.8 1114,78.1 1115.2,81.2 1116.5,72.7 1117.8,83.2 1119,78.1 1120.2,80.3 1121.5,81 1122.8,76.6 1124,80.5 1125.2,74.8 1126.5,78.8 1127.8,75.8 1129,81.1 1130.2,82.3 1131.5,74.7 1132.8,79 1134,76 1135.2,74.1 1136.5,77.9 1137.8,81 1139,81.4 1140.2,76.6 1141.5,77.3 1142.8,82.3 1144,78 1145.2,83.3 1146.5,83.6 1147.8,79.7 1149,75.8 1150.2,77.2 1151.5,80.4 1152.8,77.5 1154,78.4 1155.2,79.4"/>
<polyline points="706.5,78.1 707.8,73.6 709,73.5 710.2,80.7 711.5,79.9 712.8,79.6 714,73.3 715.2,72 716.5,75 717.8,74.7 719,78.4 720.2,75.1 721.5,82.4 722.8,76.3 724,76.4 725.2,80.4 726.5,78.9 727.8,75.5 729,80.3 730.2,83.4 731.5,74.6 732.8,77.3 734,75 735.2,72.5 736.5,79.8 737.8,80 739,80.7 740.2,79.2 741.5,72.3 742.8,77.9 744,76.1 745.2,74.7 746.5,74.9 747.8,80.2 749,77.2 750.2,83.5 751.5,79.3 752.8,72.6 754,80.8 755.2,81.8 756.5,78.4 757.8,74.9 759,83.3 760.2,74.6 761.5,78.1 762.8,72.9 764,74.8 765.2,73.5 766.5,81.4 767.8,81.6 769,77.2 770.2,74.5 771.5,78.1 772.8,79.4 774,74 775.2,75 776.5,78 777.8,80.3 779,78.5 780.2,79.6 781.5,74.8 782.8,71.3 784,79.2 785.2,75.7 786.5,77.9 787.8,77.2 789,79.7 790.2,76.1 791.5,82.4 792.8,78.4 794,79.8 795.2,80.1 796.5,81.2 797.8,79.4 799,73.3 800.2,76.5 801.5,83.6 802.8,79.6 804,79.9 805.2,79.6 806.5,76.5 807.8,76.4 809,76.5 810.2,81.6 811.5,79.3 812.8,83.3 814,79.7 815.2,83.7 816.5,79.6 817.8,74.9 819,83.2 820.2,79.3 821.5,81.7 822.8,78.9 824,77.4 825.2,78.8 826.5,75.1 827.8,74.9 829,75.8 830.2,76.8 831.5,74.4 832.8,78 834,79.2 835.2,84.1 836.5,83.5 837.8,78.2 839,80.8 840.2,77.7 841.5,79.4 842.8,78.2 844,76.8 845.2,78.5 846.5,74.1 847.8,79.5 849,77.5 850.2,75.2 851.5,77.3 852.8,79.9 854,76.4 855.2,79.7 856.5,79.9 857.8,82.7 859,75.2 860.2,78 861.5,79.8 862.8,82.6 864,79 865.2,80.4 866.5,74.1 867.8,76.6 869,83 870.2,77.5 871.5,84.5 872.8,76.2 874,77.5 875.2,73.7 876.5,80.1 877.8,79.1 879,84.1 880.2,78.8 881.5,77.6 882.8,74.3 884,78.1 885.2,81 886.5,80.4 887.8,81.8 889,80.8 890.2,78.2 891.5,80 892.8,78.8 894,74.5 895.2,83.2 896.5,79.4 897.8,75.3 899,79.4 900.2,79.1 901.5,81.2 902.8,82.4 904,69.6 905.2,79.9 906.5,82.7 907.8,75.6 909,73 910.2,79.1 911.5,79.3 912.8,79.3 914,75.1 915.2,77 916.5,78.9 917.8,80.4 919,84.6 920.2,79.1 921.5,76.6 922.8,71.5 924,81.4 925.2,77.9 926.5,78 927.8,75.5 929,80.4 930.2,73.1 931.5,78.6 932.8,78.6 934,79.2 935.2,82 936.5,78 937.8,78.6 939,80.8 940.2,73.8 941.5,77.5 942.8,78.5 944,81 945.2,76 946.5,80.6 947.8,79.4 949,74 950.2,74 951.5,74.2 952.8,78.7 954,78.9 955.2,80.4 956.5,80.7 957.8,76.7 959,81.4 960.2,80.7 961.5,79.7 962.8,79.7 964,74.6 965.2,79.3 966.5,75.3 967.8,74.9 969,77.3 970.2,78.7 971.5,78.1 972.8,77.3 974,75.4 975.2,78.8 976.5,76.2 977.8,74.2 979,78.6 980.2,82.5 981.5,77.1 982.8,75.2 984,82.3 985.2,83.2 986.5,77.4 987.8,77.7 989,78.9 990.2,86.8 991.5,78.7 992.8,81.2 994,79.6 995.2,73 996.5,75.1 997.8,74.7 999,79.5 1000.2,78.6 1001.5,83.5 1002.8,77.5 1004,79.2 1005.2,78.5 1006.5,78.7 1007.8,85 1009,79.1 1010.2,82.5 1011.5,82 1012.8,76.5 1014,80.3 1015.2,77.2 1016.5,78.6 1017.8,78.8 1019,78.4 1020.2,76.9 1021.5,82.8 1022.8,77.5 1024,80.3 1025.2,83.1 1026.5,80.1 1027.8,81.3 1029,82.3 1030.2,81.4 1031.5,83.3 1032.8,74.2 1034,84 1035.2,78.4 1036.5,73.2 1037.8,76.4 1039,74.3 1040.2,78.2 1041.5,74 1042.8,75.4 1044,79.2 1045.2,78.8 1046.5,76 1047.8,77.6 1049,78 1050.2,78.5 1051.5,78.3 1052.8,77.7 1054,80.8 1055.2,73.6 1056.5,76.9 1057.8,78.7 1059,77.1 1060.2,76.7 1061.5,77 1062.8,78.9 1064,81.9 1065.2,77.8 1066.5,77.5 1067.8,79.3 1069,77.6 1070.2,72.7 1071.5,79.1 1072.8,77.2 1074,76.6 1075.2,80.1 1076.5,78.4 1077.8,76.7 1079,72 1080.2,73.3 1081.5,78.3 1082.8,78 1084,79.6 1085.2,78.9 1086.5,76.9 1087.8,74.6 1089,75.1 1090.2,77.9 1091.5,75 1092.8,80.5 1094,74.5 1095.2,73.1 1096.5,77.7 1097.8,73.2 1099,83 1100.2,75.4 1101.5,78.1 1102.8,77.6 1104,75.9 1105.2,73.2 1106.5,72.9 1107.8,80.8 1109,81.3 1110.2,84.6 1111.5,74.1 1112.8,79.9 1114,78.3 1115.2,80.7 1116.5,76.8 1117.8,80.4 1119,80.9 1120.2,80.1 1121.5,82.5 1122.8,77.8 1124,82.8 1125.2,76.3 1126.5,83.1 1127.8,70.3 1129,78.3 1130.2,76 1131.5,78.3 1132.8,81.3 1134,80.4 1135.2,78.6 1136.5,83.2 1137.8,74 1139,75.9 1140.2,82.7 1141.5,79.2 1142.8,72.3 1144,79.3 1145.2,74.9 1146.5,82.6 1147.8,81.6 1149,76.7 1150.2,82 1151.5,75.9 1152.8,81 1154,80 1155.2,77.9"/>
<polyline points="706.5,75.9 707.8,75.1 709,80.7 710.2,76.9 711.5,81.8 712.8,75.7 714,79.2 715.2,77.7 716.5,78.6 717.8,80.3 719,78.4 720.2,77.7 721.5,77.7 722.8,82.6 724,79.8 725.2,77.9 726.5,73.9 727.8,79.7 729,76.3 730.2,73.5 731.5,78 732.8,75.8 734,78 735.2,78.7 736.5,77.3 737.8,76.1 739,77.6 740.2,85.5 741.5,75.6 742.8,75 744,75.8 745.2,74.7 746.5,77.2 747.8,75.7 749,79 750.2,78.4 751.5,80.7 752.8,78.3 754,78.5 755.2,78.7 756.5,70 757.8,77.9 759,76.7 760.2,75.5 761.5,77.8 762.8,75.8 764,79.6 765.2,79.1 766.5,73.9 767.8,80 769,73.2 770.2,79.2 771.5,83.2 772.8,81.4 774,74.6 775.2,82.2 776.5,83 777.8,78.7 779,78.5 780.2,83.3 781.5,79 782.8,73.5 784,77.6 785.2,78 786.5,79.9 787.8,83.5 789,80 790.2,81.2 791.5,74 792.8,75.4 794,78.3 795.2,79.1 796.5,84.4 797.8,82.4 799,74.5 800.2,80.5 801.5,75.8 802.8,76.8 804,78.1 805.2,77.8 806.5,78.5 807.8,76.4 809,80.3 810.2,77 811.5,77.4 812.8,76.1 814,78.1 815.2,75.5 816.5,75.3 817.8,80.3 819,79.3 820.2,79 821.5,78.3 822.8,75.3 824,74 825.2,81 826.5,77.9 827.8,79.5 829,78.2 830.2,80.4 831.5,74.9 832.8,80.7 834,71.9 835.2,78.7 836.5,81.7 837.8,79 839,78.7 840.2,75.8 841.5,80.7 842.8,78.2 844,80 845.2,79.8 846.5,77.3 847.8,76.4 849,80.1 850.2,79.9 851.5,78.6 852.8,79.5 854,76.3 855.2,78.2 856.5,80.1 857.8,78.8 859,70.9 860.2,78.9 861.5,76.6 862.8,77.2 864,78.5 865.2,82.3 866.5,72.2 867.8,75.4 869,83.2 870.2,76.3 871.5,83 872.8,82.1 874,75.5 875.2,77.3 876.5,80.4 877.8,82.7 879,77.9 880.2,78.8 881.5,77 882.8,84.2 884,73.1 885.2,78.8 886.5,80.5 887.8,79.1 889,76.8 890.2,79.4 891.5,76.2 892.8,75.3 894,83.7 895.2,83.3 896.5,75.8 897.8,77.8 899,81.8 900.2,77.9 901.5,77 902.8,77.6 904,72.9 905.2,78.5 906.5,75.6 907.8,77.1 909,73.7 910.2,77.7 911.5,76.7 912.8,76.3 914,79.9 915.2,71 916.5,77.3 917.8,71.9 919,73.4 920.2,82.3 921.5,78.5 922.8,79.5 924,72.5 925.2,74 926.5,79.4 927.8,78.6 929,80.7 930.2,78.3 931.5,78.8 932.8,79.1 934,77.6 935.2,73.8 936.5,80.4 937.8,76.5 939,77.4 940.2,77.2 941.5,79.6 942.8,77 944,74.2 945.2,78.1 946.5,80.8 947.8,76.5 949,81.7 950.2,77.4 951.5,78.8 952.8,83 954,81 955.2,88.5 956.5,75.6 957.8,78.2 959,80.1 960.2,77 961.5,75.4 962.8,79.1 964,77.3 965.2,77.1 966.5,76.4 967.8,78.9 969,77.7 970.2,77.6 971.5,75.9 972.8,76.2 974,74.1 975.2,78.7 976.5,77.3 977.8,76.1 979,77.7 980.2,79.1 981.5,79.2 982.8,77.2 984,79.9 985.2,80.3 986.5,72.4 987.8,74.7 989,79.6 990.2,78.4 991.5,79.5 992.8,81 994,74.8 995.2,78.5 996.5,80.9 997.8,74.9 999,82.3 1000.2,72 1001.5,76.8 1002.8,84.5 1004,76.8 1005.2,78.1 1006.5,78.8 1007.8,76.9 1009,80 1010.2,77.9 1011.5,75.8 1012.8,85 1014,79.7 1015.2,75.4 1016.5,72.1 1017.8,76.6 1019,79.1 1020.2,73.7 1021.5,76.2 1022.8,77.5 1024,77.8 1025.2,81.9 1026.5,73.2 1027.8,74.9 1029,83.6 1030.2,73.2 1031.5,78 1032.8,78.7 1034,80.6 1035.2,75.4 1036.5,79.5 1037.8,81.7 1039,77.6 1040.2,79.8 1041.5,75.3 1042.8,80.3 1044,77.1 1045.2,76.6 1046.5,77.4 1047.8,73.6 1049,73.4 1050.2,78.4 1051.5,77.7 1052.8,77.2 1054,73.3 1055.2,78.3 1056.5,76.6 1057.8,73.6 1059,80.7 1060.2,84.3 1061.5,78.1 1062.8,75.6 1064,71 1065.2,80.7 1066.5,78.4 1067.8,80.5 1069,83.7 1070.2,76.1 1071.5,78.1 1072.8,82.3 1074,74.9 1075.2,80.9 1076.5,77.8 1077.8,76.1 1079,78 1080.2,79.6 1081.5,77.5 1082.8,78.4 1084,79.6 1085.2,79.9 1086.5,76.6 1087.8,78.2 1089,71.6 1090.2,74.2 1091.5,75.2 1092.8,76.4 1094,76.7 1095.2,74.6 1096.5,79.1 1097.8,80.6 1099,82 1100.2,78.1 1101.5,79.1 1102.8,80 1104,82.4 1105.2,76.5 1106.5,79.8 1107.8,74.1 1109,74.6 1110.2,74.2 1111.5,79.5 1112.8,77.2 1114,77.9 1115.2,75.2 1116.5,77.4 1117.8,83 1119,73.1 1120.2,74.3 1121.5,80.4 1122.8,74.9 1124,77.8 1125.2,78.1 1126.5,73.1 1127.8,76.6 1129,77.5 1130.2,78.7 1131.5,79.4 1132.8,77.7 1134,77.5 1135.2,77.4 1136.5,77.9 1137.8,79.9 1139,75.6 1140.2,69.3 1141.5,79 1142.8,77.8 1144,84.7 1145.2,74.6 1146.5,79.2 1147.8,79.7 1149,75.1 1150.2,77.3 1151.5,74.8 1152.8,79.3 1154,77.6 1155.2,78.6"/>
<polyline points="706.5,78.7 707.8,79.1 709,74.8 710.2,74.9 711.5,77.6 712.8,83.1 714,77.6 715.2,75.4 716.5,76.1 717.8,78.1 719,81.4 720.2,76.4 721.5,79.6 722.8,78.5 724,77 725.2,75.3 726.5,77.6 727.8,76 729,79.5 730.2,73 731.5,81.2 732.8,80.1 734,79.6 735.2,82.2 736.5,79.7 737.8,73.2 739,78.2 740.2,79.3 741.5,76.1 742.8,74.8 744,79.2 745.2,79.4 746.5,76.8 747.8,77.3 749,76.6 750.2,76.4 751.5,77.8 752.8,81 754,73.2 755.2,76.8 756.5,82.3 757.8,78.7 759,78.2 760.2,80.1 761.5,74.9 762.8,74.4 764,73.1 765.2,73.7 766.5,78.5 767.8,80.2 769,76.6 770.2,75.9 771.5,78.9 772.8,79.5 774,78.5 775.2,72.4 776.5,76.2 777.8,70.6 779,78.5 780.2,75.4 781.5,75.9 782.8,82 784,81.5 785.2,79.1 786.5,78.6 787.8,78.3 789,76.1 790.2,77.6 791.5,83.2 792.8,75.3 794,75.9 795.2,78.2 796.5,80.3 797.8,80.1 799,75 800.2,77.4 801.5,77 802.8,74.3 804,78 805.2,76.4 806.5,80.4 807.8,79 809,75.6 810.2,78 811.5,76.8 812.8,76 814,76.4 815.2,80.8 816.5,76.6 817.8,72.9 819,75.6 820.2,80.1 821.5,83.8 822.8,74.8 824,76.8 825.2,76.8 826.5,73.8 827.8,78.9 829,77.6 830.2,78.6 831.5,84.1 832.8,77 834,80 835.2,80.1 836.5,76 837.8,76.1 839,82.2 840.2,79.8 841.5,78.2 842.8,74.7 844,80.3 845.2,79.3 846.5,84 847.8,81.9 849,80 850.2,78.5 851.5,78 852.8,76.2 854,78.6 855.2,78.5 856.5,79.6 857.8,80.8 859,78.7 860.2,76.2 861.5,80.1 862.8,82.2 864,75.4 865.2,79 866.5,79.3 867.8,79.3 869,79.2 870.2,77.5 871.5,77.5 872.8,82.5 874,82.7 875.2,73.8 876.5,70.6 877.8,79 879,75.9 880.2,76.3 881.5,73.3 882.8,78.8 884,77.6 885.2,76.3 886.5,80.3 887.8,84.6 889,81.9 890.2,81.1 891.5,76.6 892.8,79.6 894,77.7 895.2,81 896.5,79.4 897.8,77.7 899,79.3 900.2,75.8 901.5,80 902.8,82 904,76.8 905.2,79.3 906.5,73.1 907.8,80.4 909,80.2 910.2,74.9 911.5,82.7 912.8,78.1 914,72.9 915.2,73.9 916.5,80.2 917.8,77 919,80.9 920.2,73.4 921.5,77.5 922.8,80.5 924,75.9 925.2,79.7 926.5,76.8 927.8,78.7 929,78.7 930.2,84.1 931.5,74.3 932.8,80 934,81.5 935.2,74.6 936.5,78 937.8,84.3 939,80.7 940.2,69.4 941.5,77.1 942.8,73 944,78.6 945.2,75.7 946.5,76.2 947.8,75.4 949,78.6 950.2,76.5 951.5,75.2 952.8,77.1 954,78.9 955.2,75.4 956.5,80.9 957.8,73.1 959,78.9 960.2,76.7 961.5,82.2 962.8,76 964,75.9 965.2,74 966.5,83.4 967.8,79.5 969,74.7 970.2,76.8 971.5,75.1 972.8,82.1 974,79 975.2,72 976.5,78.4 977.8,80.4 979,77.8 980.2,79.1 981.5,77.5 982.8,78.4 984,78.4 985.2,75.8 986.5,78.8 987.8,78.2 989,77.7 990.2,75.8 991.5,74.9 992.8,78.5 994,80.1 995.2,71 996.5,76.3 997.8,81.6 999,80.4 1000.2,75.8 1001.5,81.6 1002.8,75 1004,75.6 1005.2,83.2 1006.5,76.5 1007.8,77.2 1009,73.1 1010.2,74.9 1011.5,74.5 1012.8,77.4 1014,72.6 1015.2,80.8 1016.5,76.8 1017.8,76.1 1019,76 1020.2,79.9 1021.5,82.1 1022.8,76.6 1024,82.3 1025.2,82.3 1026.5,81.6 1027.8,78.6 1029,73.6 1030.2,79.7 1031.5,76.6 1032.8,78.3 1034,72.5 1035.2,77 1036.5,78.4 1037.8,75.1 1039,78.6 1040.2,82.5 1041.5,78.4 1042.8,75.8 1044,84.5 1045.2,71.7 1046.5,75.2 1047.8,78.9 1049,76.1 1050.2,71.3 1051.5,78.5 1052.8,80.1 1054,75.5 1055.2,81.9 1056.5,79.2 1057.8,81.1 1059,73.5 1060.2,77.8 1061.5,82.3 1062.8,83.5 1064,81.5 1065.2,77.8 1066.5,78.3 1067.8,76 1069,80.9 1070.2,75.8 1071.5,78.1 1072.8,71.9 1074,73.5 1075.2,82.8 1076.5,77.9 1077.8,78.4 1079,71.6 1080.2,77.7 1081.5,83.6 1082.8,73.5 1084,71.1 1085.2,77.3 1086.5,76.3 1087.8,77.2 1089,74.2 1090.2,73.9 1091.5,74.3 1092.8,79.6 1094,77.6 1095.2,80.1 1096.5,74.7 1097.8,79.4 1099,76.5 1100.2,78 1101.5,80.4 1102.8,77.9 1104,76.8 1105.2,73.1 1106.5,78 1107.8,80 1109,76 1110.2,77.6 1111.5,72.8 1112.8,74 1114,78.9 1115.2,81.5 1116.5,76.9 1117.8,73 1119,76.7 1120.2,73.3 1121.5,77 1122.8,83.3 1124,78.6 1125.2,77.3 1126.5,80.7 1127.8,76.7 1129,78.7 1130.2,78.3 1131.5,79 1132.8,73.6 1134,79.8 1135.2,80.3 1136.5,71.3 1137.8,70.1 1139,75.2 1140.2,82 1141.5,77.8 1142.8,79.7 1144,79.4 1145.2,80.3 1146.5,76 1147.8,76.1 1149,78.8 1150.2,79.5 1151.5,79.4 1152.8,78.7 1154,76.4 1155.2,80.9"/>
<polyline points="706.5,74.9 707.8,78.4 709,81.3 710.2,77.4 711.5,81.1 712.8,76.9 714,79.2 715.2,81.7 716.5,79.1 717.8,79.4 719,82 720.2,80 721.5,80.9 722.8,77.4 724,76.1 725.2,80.4 726.5,75.3 727.8,81.6 729,76.7 730.2,79 731.5,80.5 732.8,75.2 734,83.6 735.2,78.2 736.5,77.6 737.8,75.3 739,73.5 740.2,73.2 741.5,75.5 742.8,79.8 744,76.9 745.2,81.5 746.5,75.5 747.8,74 749,79.5 750.2,77.5 751.5,74.2 752.8,82.2 754,80 755.2,75.2 756.5,77.8 757.8,76.6 759,82.4 760.2,77.7 761.5,77.5 762.8,80 764,83.6 765.2,83.1 766.5,79.2 767.8,78.3 769,77.5 770.2,81.9 771.5,76.2 772.8,79 774,81.1 775.2,77.3 776.5,72.4 777.8,77.6 779,76.9 780.2,76.4 781.5,77.5 782.8,81.5 784,75 785.2,75.7 786.5,78.8 787.8,81.8 789,76.9 790.2,80.8 791.5,82.1 792.8,77.1 794,78.6 795.2,81.5 796.5,79.7 797.8,77.4 799,78.7 800.2,78.4 801.5,79.3 802.8,79.9 804,79.5 805.2,77.4 806.5,79.1 807.8,80 809,78.6 810.2,83.7 811.5,77.8 812.8,72.7 814,82.4 815.2,77.8 816.5,80.1 817.8,78.4 819,81.7 820.2,77.6 821.5,80.7 822.8,83.5 824,80.8 825.2,76.7 826.5,83.9 827.8,82.2 829,79.1 830.2,75.1 831.5,79.8 832.8,78.9 834,80.4 835.2,79.5 836.5,83.5 837.8,79.6 839,78 840.2,77.9 841.5,79.9 842.8,80.5 844,75.6 845.2,76.2 846.5,81.7 847.8,78.5 849,82 850.2,78.6 851.5,77.3 852.8,80.4 854,79.8 855.2,86.8 856.5,83.5 857.8,78.8 859,79.8 860.2,80.6 861.5,80.5 862.8,81.2 864,78.9 865.2,78 866.5,74.7 867.8,78.1 869,82 870.2,79.6 871.5,79.9 872.8,75.3 874,73.3 875.2,80.8 876.5,76.9 877.8,77.4 879,73.5 880.2,83.2 881.5,83.1 882.8,74 884,77.5 885.2,78.4 886.5,80.3 887.8,81.5 889,78.9 890.2,78.7 891.5,80.6 892.8,74.1 894,78.7 895.2,78.9 896.5,79.9 897.8,76.1 899,77.1 900.2,75.7 901.5,78.6 902.8,76 904,86 905.2,77.2 906.5,82.6 907.8,77.2 909,77.8 910.2,81.5 911.5,78.2 912.8,85.2 914,80.3 915.2,74 916.5,82.8 917.8,71 919,78 920.2,76.6 921.5,79.1 922.8,76.7 924,77.7 925.2,77.9 926.5,81.1 927.8,76.4 929,77.9 930.2,85.5 931.5,84.8 932.8,82.3 934,79 935.2,77.3 936.5,79.2 937.8,75.2 939,82.2 940.2,76.8 941.5,72.9 942.8,81.9 944,83.3 945.2,81.6 946.5,80.8 947.8,80.4 949,83.4 950.2,82.8 951.5,74.6 952.8,80.6 954,78.8 955.2,83.7 956.5,78.2 957.8,77.9 959,74.3 960.2,79.2 961.5,79.9 962.8,83.1 964,78.5 965.2,81.7 966.5,85.1 967.8,75.6 969,82 970.2,78.9 971.5,74.2 972.8,76.7 974,79.1 975.2,75.8 976.5,80.9 977.8,76.8 979,82.1 980.2,78 981.5,82.5 982.8,82.2 984,81.7 985.2,82.4 986.5,87.1 987.8,81.8 989,74.4 990.2,77.8 991.5,81.8 992.8,82 994,77.4 995.2,80.5 996.5,79.3 997.8,78.3 999,77.7 1000.2,79.1 1001.5,82.6 1002.8,74 1004,82.1 1005.2,79.7 1006.5,74.4 1007.8,79.9 1009,78.6 1010.2,76.3 1011.5,80.7 1012.8,78.2 1014,82.5 1015.2,83 1016.5,80.3 1017.8,80.2 1019,76.3 1020.2,79 1021.5,82.4 1022.8,84.7 1024,73.9 1025.2,79.8 1026.5,79 1027.8,85.4 1029,80.1 1030.2,85.2 1031.5,73.1 1032.8,73.9 1034,79.5 1035.2,74.9 1036.5,73.4 1037.8,77.8 1039,77.7 1040.2,79.4 1041.5,83.5 1042.8,76.3 1044,77 1045.2,74.6 1046.5,79.3 1047.8,82.2 1049,82.3 1050.2,72.3 1051.5,80.5 1052.8,78.2 1054,77.5 1055.2,75.6 1056.5,77.5 1057.8,80 1059,81.1 1060.2,81.5 1061.5,76.7 1062.8,79.1 1064,76.5 1065.2,81.7 1066.5,79.3 1067.8,75.1 1069,82.1 1070.2,84.1 1071.5,74 1072.8,84.4 1074,80.6 1075.2,78.8 1076.5,72.4 1077.8,75.2 1079,76.2 1080.2,81.4 1081.5,78.7 1082.8,79.6 1084,79.4 1085.2,80.4 1086.5,78.1 1087.8,83 1089,72.5 1090.2,76.2 1091.5,77.9 1092.8,76.4 1094,82.9 1095.2,77.7 1096.5,73.4 1097.8,77.4 1099,77.6 1100.2,76.6 1101.5,77 1102.8,77.5 1104,81.1 1105.2,78.6 1106.5,80 1107.8,78.8 1109,82.6 1110.2,79.2 1111.5,79.9 1112.8,82.3 1114,83 1115.2,82.7 1116.5,76.8 1117.8,75.1 1119,87.1 1120.2,75 1121.5,77 1122.8,74.8 1124,79.9 1125.2,79 1126.5,72.1 1127.8,82.4 1129,77.5 1130.2,82.4 1131.5,82 1132.8,79.1 1134,82.1 1135.2,76.7 1136.5,79.2 1137.8,78.6 1139,79.5 1140.2,80.7 1141.5,79.6 1142.8,77.8 1144,81.1 1145.2,78 1146.5,81.5 1147.8,76.6 1149,75.6 1150.2,85.7 1151.5,75.3 1152.8,81.5 1154,84 1155.2,81.2"/>
<polyline points="706.5,81.7 707.8,81.1 709,77.8 710.2,79.6 711.5,75.2 712.8,81.2 714,86.9 715.2,75.3 716.5,82 717.8,77.8 719,77 720.2,76.6 721.5,77.5 722.8,74.4 724,74.1 725.2,82.8 726.5,77.9 727.8,79.6 729,78.9 730.2,79.4 731.5,73.6 732.8,75.2 734,79.8 735.2,80.9 736.5,74.7 737.8,76.3 739,74.9 740.2,79.9 741.5,79 742.8,78.1 744,76.1 745.2,79 746.5,78.1 747.8,75.8 749,79 750.2,76.1 751.5,80.8 752.8,79.8 754,75.5 755.2,79.2 756.5,77.7 757.8,75.5 759,74.9 760.2,72.7 761.5,74.3 762.8,78.5 764,81 765.2,75.7 766.5,78 767.8,78.5 769,79.8 770.2,78.8 771.5,81.1 772.8,79.8 774,75.3 775.2,78.7 776.5,70.8 777.8,77 779,77.6 780.2,79.2 781.5,76.7 782.8,80 784,81.4 785.2,75.1 786.5,76 787.8,78.3 789,79 790.2,78 791.5,80 792.8,74.1 794,79.8 795.2,80.9 796.5,80.8 797.8,78.8 799,76.9 800.2,78.7 801.5,77.3 802.8,72.9 804,75.8 805.2,77.4 806.5,76 807.8,74.8 809,76.9 810.2,76.5 811.5,77.7 812.8,77.4 814,78 815.2,80.4 816.5,77.9 817.8,78.7 819,74 820.2,69 821.5,76.4 822.8,79.5 824,76.6 825.2,75.7 826.5,73.9 827.8,80.1 829,76 830.2,78.3 831.5,80.8 832.8,79.1 834,84 835.2,77.2 836.5,80.3 837.8,79.6 839,75.6 840.2,77.7 841.5,75.9 842.8,74.6 844,78.4 845.2,75.3 846.5,82.4 847.8,75.4 849,76 850.2,77.8 851.5,76 852.8,77.7 854,75.8 855.2,73.4 856.5,70.5 857.8,73.8 859,82 860.2,78.8 861.5,78 862.8,76.2 864,77.1 865.2,78.4 866.5,73.5 867.8,75.2 869,75 870.2,81.2 871.5,74.5 872.8,80.9 874,76.2 875.2,85.4 876.5,77.3 877.8,77.6 879,81.5 880.2,80.1 881.5,80.3 882.8,74.4 884,80.8 885.2,82.4 886.5,77.2 887.8,76.1 889,74.4 890.2,80.5 891.5,78.4 892.8,77.6 894,74 895.2,82.2 896.5,80.1 897.8,77.5 899,81.8 900.2,74.8 901.5,80.1 902.8,74.6 904,81.6 905.2,76.7 906.5,81.1 907.8,76.3 909,78.7 910.2,80.9 911.5,74.9 912.8,77.8 914,75.1 915.2,80 916.5,75.8 917.8,76.5 919,77 920.2,80.9 921.5,74.5 922.8,77.5 924,76.6 925.2,75.9 926.5,75.3 927.8,77.1 929,78.1 930.2,73.1 931.5,78.2 932.8,74.1 934,77.6 935.2,84.2 936.5,74.7 937.8,77.4 939,76.8 940.2,80.4 941.5,76.2 942.8,72.4 944,72.9 945.2,78.1 946.5,78.3 947.8,80.6 949,76 950.2,79.5 951.5,74.5 952.8,81.3 954,77.3 955.2,75.6 956.5,78.1 957.8,82.6 959,75.1 960.2,73.9 961.5,74.6 962.8,74.2 964,77.4 965.2,78.6 966.5,77.1 967.8,78.1 969,81 970.2,76.7 971.5,73.9 972.8,70.9 974,78.2 975.2,75.6 976.5,76.8 977.8,78.7 979,78.9 980.2,73 981.5,74.8 982.8,77.8 984,77.1 985.2,80.9 986.5,76.1 987.8,71.6 989,80.9 990.2,72.8 991.5,74.7 992.8,78.7 994,74.5 995.2,84.8 996.5,78.2 997.8,79.1 999,76.3 1000.2,84 1001.5,79.1 1002.8,75.5 1004,81.2 1005.2,72.6 1006.5,75.8 1007.8,78.4 1009,77.9 1010.2,74.8 1011.5,82.1 1012.8,81.8 1014,74.8 1015.2,78.6 1016.5,75.7 1017.8,76.3 1019,80.4 1020.2,77.9 1021.5,77.2 1022.8,77.8 1024,74.1 1025.2,81.1 1026.5,75.4 1027.8,81.3 1029,76.2 1030.2,76.2 1031.5,81.9 1032.8,78.1 1034,75.7 1035.2,76 1036.5,79.3 1037.8,83 1039,79.3 1040.2,76.4 1041.5,74.3 1042.8,75.6 1044,77.2 1045.2,78.3 1046.5,75.6 1047.8,81.3 1049,74.8 1050.2,75.5 1051.5,79 1052.8,78.9 1054,76.4 1055.2,80.3 1056.5,73.5 1057.8,82.3 1059,83.9 1060.2,83.2 1061.5,77.9 1062.8,83.2 1064,77.7 1065.2,81.4 1066.5,77 1067.8,78.1 1069,79.1 1070.2,72.5 1071.5,76.9 1072.8,82.5 1074,69.1 1075.2,78.7 1076.5,80.2 1077.8,78.5 1079,78.1 1080.2,81.6 1081.5,78.5 1082.8,72.1 1084,74.8 1085.2,76.7 1086.5,78 1087.8,76.2 1089,77.2 1090.2,82.4 1091.5,69 1092.8,80.9 1094,80.3 1095.2,79.3 1096.5,77.6 1097.8,77.7 1099,78.6 1100.2,78.2 1101.5,75.4 1102.8,79.8 1104,75.1 1105.2,77.4 1106.5,76.5 1107.8,74.2 1109,79.3 1110.2,77.3 1111.5,74.2 1112.8,77.3 1114,73.6 1115.2,81.7 1116.5,79 1117.8,83.3 1119,75.9 1120.2,79.6 1121.5,74.7 1122.8,75.1 1124,77.3 1125.2,78.7 1126.5,80.2 1127.8,76.8 1129,80.7 1130.2,80.3 1131.5,75 1132.8,77 1134,74.9 1135.2,82.5 1136.5,75.9 1137.8,80.1 1139,80.2 1140.2,76.8 1141.5,76.1 1142.8,78.5 1144,75.3 1145.2,73.9 1146.5,74.8 1147.8,78.5 1149,78.1 1150.2,82.6 1151.5,72.3 1152.8,79 1154,74.2 1155.2,80.9"/>
<polyline points="706.5,79.4 707.8,85.2 709,76.2 710.2,74 711.5,74.7 712.8,78.1 714,78.6 715.2,79.7 716.5,75.3 717.8,74.5 719,77.8 720.2,82.2 721.5,80.6 722.8,81 724,79.6 725.2,81.1 726.5,76.6 727.8,81.4 729,80.2 730.2,80.5 731.5,76.8 732.8,77 734,76.4 735.2,82.1 736.5,74.2 737.8,76.9 739,78.7 740.2,74.3 741.5,78.5 742.8,81.1 744,79.8 745.2,74.7 746.5,78.1 747.8,75.2 749,70.7 750.2,80.4 751.5,79.8 752.8,74.2 754,81.4 755.2,80.7 756.5,84.9 757.8,79.7 759,82.9 760.2,77.4 761.5,77.6 762.8,83.8 764,80.7 765.2,83.1 766.5,77.8 767.8,78.2 769,80.7 770.2,76.3 771.5,80.4 772.8,74.4 774,72.6 775.2,77.1 776.5,80.1 777.8,84.2 779,77.9 780.2,78.8 781.5,77.7 782.8,79.2 784,81.9 785.2,80 786.5,79.5 787.8,79.4 789,77.6 790.2,80.5 791.5,83.8 792.8,75.2 794,84.3 795.2,71.9 796.5,73.5 797.8,80.2 799,77 800.2,84.8 801.5,80 802.8,73.9 804,78.4 805.2,79.5 806.5,81.5 807.8,76.6 809,73.9 810.2,74.5 811.5,81.1 812.8,81.8 814,73.3 815.2,79.4 816.5,76.4 817.8,78.8 819,80.5 820.2,77.6 821.5,78.1 822.8,72.8 824,78.3 825.2,82.7 826.5,76.6 827.8,79.5 829,79.7 830.2,85.3 831.5,75.9 832.8,80.8 834,77.6 835.2,78.3 836.5,78.4 837.8,73.5 839,80.2 840.2,76.3 841.5,78.9 842.8,80.9 844,77.8 845.2,74 846.5,75.3 847.8,80.2 849,81.9 850.2,83.6 851.5,74.9 852.8,78.9 854,78.7 855.2,76.4 856.5,77.8 857.8,75.6 859,78.8 860.2,77.1 861.5,77.6 862.8,82.3 864,75.5 865.2,78.6 866.5,76.5 867.8,77.3 869,78.1 870.2,78.3 871.5,78.9 872.8,76.1 874,80 875.2,75.1 876.5,75 877.8,75.8 879,81.8 880.2,81.8 881.5,76.8 882.8,83.8 884,79.3 885.2,74 886.5,79.5 887.8,75.4 889,74.9 890.2,71.9 891.5,78.8 892.8,79.5 894,75.3 895.2,80.1 896.5,79.5 897.8,79.9 899,80.2 900.2,76.1 901.5,79.4 902.8,79.7 904,76.6 905.2,77.4 906.5,74.7 907.8,78.8 909,75.1 910.2,79.5 911.5,78.5 912.8,77.8 914,80 915.2,77.4 916.5,83.1 917.8,79.4 919,75 920.2,76.7 921.5,79.3 922.8,83.2 924,76.6 925.2,82.6 926.5,78.8 927.8,82 929,76.6 930.2,76 931.5,77.2 932.8,78.4 934,75.5 935.2,74.8 936.5,80.4 937.8,81.3 939,78.1 940.2,76.9 941.5,81.4 942.8,73.3 944,80.3 945.2,78.9 946.5,80.2 947.8,79.4 949,81.1 950.2,80 951.5,78.3 952.8,80.7 954,75.5 955.2,78.9 956.5,79.4 957.8,73.8 959,79.8 960.2,79.6 961.5,80.9 962.8,78.4 964,81.8 965.2,81.1 966.5,80.1 967.8,68.8 969,78.5 970.2,79 971.5,78.4 972.8,75.3 974,80.9 975.2,77 976.5,77.8 977.8,79.3 979,81.6 980.2,77.1 981.5,75.4 982.8,79.4 984,78.9 985.2,72.8 986.5,76.5 987.8,78.5 989,73.2 990.2,81.7 991.5,74.7 992.8,80.6 994,75.3 995.2,77.1 996.5,76.3 997.8,77.3 999,72.8 1000.2,76.2 1001.5,80.7 1002.8,79.6 1004,84.1 1005.2,72.8 1006.5,82.3 1007.8,78.6 1009,74.5 1010.2,74.1 1011.5,76.8 1012.8,78.6 1014,76.8 1015.2,82.6 1016.5,78 1017.8,76.3 1019,75.6 1020.2,75 1021.5,77.9 1022.8,77.8 1024,75.9 1025.2,79.2 1026.5,76.1 1027.8,76.8 1029,81.3 1030.2,81.4 1031.5,77.1 1032.8,83.3 1034,77 1035.2,81.7 1036.5,78.8 1037.8,76.9 1039,78.1 1040.2,77.2 1041.5,78.9 1042.8,78 1044,77.8 1045.2,75.5 1046.5,79.5 1047.8,80.9 1049,75.3 1050.2,78.2 1051.5,80.8 1052.8,80.7 1054,75.9 1055.2,85.5 1056.5,76 1057.8,80.3 1059,79.3 1060.2,85.8 1061.5,76.4 1062.8,82 1064,79.7 1065.2,75.7 1066.5,78.3 1067.8,75.9 1069,78.9 1070.2,78.8 1071.5,72.7 1072.8,80.1 1074,79.2 1075.2,81.3 1076.5,78.5 1077.8,75.9 1079,80.3 1080.2,81.1 1081.5,72.2 1082.8,81.4 1084,80 1085.2,77 1086.5,75.5 1087.8,77.1 1089,81.3 1090.2,78.9 1091.5,80.4 1092.8,77 1094,74.4 1095.2,75.9 1096.5,84.3 1097.8,80.8 1099,80.2 1100.2,79.8 1101.5,78.1 1102.8,77.7 1104,77.2 1105.2,79.3 1106.5,77.8 1107.8,78.3 1109,79.5 1110.2,79.9 1111.5,79.4 1112.8,78.9 1114,79.5 1115.2,81.6 1116.5,81.8 1117.8,82.3 1119,76.3 1120.2,79.4 1121.5,78.6 1122.8,83.8 1124,82.8 1125.2,79.7 1126.5,84 1127.8,82.3 1129,75 1130.2,80.4 1131.5,79.1 1132.8,77.3 1134,82.4 1135.2,80 1136.5,74.3 1137.8,75.8 1139,77.7 1140.2,81.6 1141.5,79.5 1142.8,81.1 1144,77.5 1145.2,82 1146.5,77.6 1147.8,80.5 1149,77.5 1150.2,77.3 1151.5,79.3 1152.8,75 1154,78.5 1155.2,79.7"/>
</g>
<line x1="706.5" y1="78.0" x2="1156" y2="78.0" stroke="#3f86dd" stroke-width="1.9" stroke-dasharray="4.2 3.3"/>
<text class="seri" font-size="46.5" fill="#ff0000" x="824.5" y="171.7">C33A + Na<tspan font-size="28" dy="10">V</tspan><tspan dy="-10">1.6</tspan></text>
<g fill="none" stroke="#ff0000" stroke-width="1.1" stroke-linejoin="round">
<polyline points="705,261 706.2,262.3 707.5,259.1 708.8,257.1 710,259 711.2,263.6 712.5,261.4 713.8,258 715,257.3 716.2,260.5 717.5,265.9 718.8,266.4 720,265.3 721.2,261.9 722.5,264.9 723.8,264.5 725,263.6 726.2,256.5 727.5,257.2 728.8,259 730,260.5 731.2,260.2 732.5,260.4 733.8,262.4 735,264.6 736.2,264.5 737.5,259.8 738.8,259 740,255.9 741.2,259 742.5,254.9 743.8,257.6 745,256.4 746.2,259.6 747.5,265.9 748.8,267.3 750,268.5 751.2,259.7 752.5,259.2 753.8,258.9 755,261.3 756.2,262.7 757.5,261.9 758.8,260.3 760,260.9 761.2,259.8 762.5,265.2 763.8,263.5 765,266.6 766.2,262.3 767.5,265.3 768.8,262 770,263.8 771.2,261.6 772.5,264.2 773.8,263 775,263.5 776.2,258.6 777.5,258.6 778.8,259 780,263.5 781.2,261.6 782.5,262.5 783.8,260.1 785,261.1 786.2,259.9 787.5,259.5 788.8,258.5 790,255.9 791.2,254.9 792.5,258.2 793.8,263.8 795,265.9 796.2,267 797.5,265.4 798.8,265.8 800,264.4 801.2,263.6 802.5,266.3 803.8,265.3 805,263.2 806.2,263.2 807.5,264.1 808.8,266.9 810,264.1 811.2,262.3 812.5,264.1 813.8,266.1 815,268.1 816.2,264.4 817.5,261.6 818.8,259.5 820,258.3 821.2,258.3 822.5,262.5 823.8,264.8 825,263.7 826.2,264 827.5,260.6 828.8,262.5 830,261.5 831.2,261.5 832.5,256.3 833.8,253.7 835,254.6 836.2,258.7 837.5,264.4 838.8,262 840,259.6 841.2,258.6 842.5,260 843.8,257.1 845,257.1 846.2,261.9 847.5,268.1 848.8,265.1 850,258.7 851.2,257.2 852.5,263.6 853.8,264.3 855,264.6 856.2,264 857.5,262.5 858.8,265.8 860,260.4 861.2,260.3 862.5,259.4 863.8,264 865,265.7 866.2,265.1 867.5,258.4 868.8,255.6 870,254 871.2,256.7 872.5,258.7 873.8,259 875,261.2 876.2,260.8 877.5,260.7 878.8,257.8 880,258.2 881.2,260.8 882.5,260.4 883.8,259.9 885,256.2 886.2,260.1 887.5,262.8 888.8,265.1 890,262.3 891.2,257.4 892.5,257.8 893.8,259.7 895,266.6 896.2,267.9 897.5,266 898.8,256.8 900,258.6 901.2,259.7 902.5,261 903.8,259.5 905,256.4 906.2,265.4 907.5,268.1 908.8,272.7 910,265.6 911.2,259.4 912.5,257.3 913.8,255.2 915,260.2 916.2,255.9 917.5,257.6 918.8,259 920,265.5 921.2,264.4 922.5,258.4 923.8,256.4 925,260.7 926.2,261.3 927.5,258.4 928.8,255.6 930,254.9 931.2,255.5 932.5,260.4 933.8,263.4 935,269.4 936.2,266.6 937.5,265.2 938.8,261 940,261 941.2,258.9 942.5,257.8 943.8,258.9 945,264.3 946.2,269.5 947.5,270.2 948.8,266.3 950,263.9 951.2,260.9 952.5,259.2 953.8,259.4 955,254.8 956.2,252.6 957.5,253.7 958.8,256.5 960,258.5 961.2,261.1 962.5,260.9 963.8,262.8 965,263.4 966.2,261 967.5,256.4 968.8,255.7 970,255.3 971.2,261.2 972.5,260.4 973.8,263.8 975,262.6 976.2,259.4 977.5,258.8 978.8,255.9 980,258.3 981.2,256.9 982.5,260.9 983.8,263.9 985,266.4 986.2,261.4 987.5,259.3 988.8,252.8 990,255.2 991.2,257.5 992.5,259.1 993.8,259.8 995,258.8 996.2,262.5 997.5,261 998.8,259.2 1000,255.2 1001.2,260.9 1002.5,264.8 1003.8,265.7 1005,263.5 1006.2,262 1007.5,263 1008.8,262.3 1010,261.4 1011.2,259.5 1012.5,259 1013.8,261 1015,263.4 1016.2,264.8 1017.5,261.5 1018.8,260.7 1020,261.7 1021.2,260.4 1022.5,259.9 1023.8,260 1025,260.1 1026.2,258.5 1027.5,255 1028.8,254.1 1030,257.6 1031.2,254.9 1032.5,256.9 1033.8,253.8 1035,256.7 1036.2,256.2 1037.5,258.4 1038.8,260.4 1040,260.2 1041.2,256.8 1042.5,255.1 1043.8,257.3 1045,257.9 1046.2,257 1047.5,253.7 1048.8,252.3 1050,251.8 1051.2,256.2 1052.5,259.6 1053.8,262.7 1055,263.3 1056.2,260.9 1057.5,262.7 1058.8,262.6 1060,261.9 1061.2,257.6 1062.5,253.8 1063.8,257.8 1065,262.4 1066.2,261.7 1067.5,262.7 1068.8,259.3 1070,261.5 1071.2,258.7 1072.5,258.9 1073.8,256.3 1075,254.7 1076.2,253.2 1077.5,256.8 1078.8,262.9 1080,270.3 1081.2,269.5 1082.5,262 1083.8,255.6 1085,255.3 1086.2,262.6 1087.5,264.3 1088.8,264.5 1090,263.1 1091.2,263.3 1092.5,261 1093.8,258.4 1095,256.7 1096.2,260.3 1097.5,262 1098.8,262.3 1100,262.3 1101.2,260.8 1102.5,258.4 1103.8,261.6 1105,264.1 1106.2,266.5 1107.5,260.6 1108.8,259.8 1110,261 1111.2,260.7 1112.5,262.8 1113.8,260.6 1115,263.5 1116.2,261.7 1117.5,262.5 1118.8,263.7 1120,262.6 1121.2,264.7 1122.5,260.7 1123.8,259.9 1125,256.8 1126.2,256.7 1127.5,258.7 1128.8,259.7 1130,263.9 1131.2,261.2 1132.5,260.1 1133.8,261.7 1135,268.8 1136.2,266.9 1137.5,261.9 1138.8,258.7 1140,257.2 1141.2,259.5 1142.5,259 1143.8,260.1 1145,262.4 1146.2,261.6 1147.5,258.6 1148.8,259 1150,257 1151.2,258.5 1152.5,256.4 1153.8,258.4 1155,257"/>
<polyline points="705,261.9 706.2,259.2 707.5,259.7 708.8,256.6 710,257.9 711.2,259 712.5,258.5 713.8,258.4 715,260 716.2,255.1 717.5,253.7 718.8,254.9 720,261.3 721.2,264 722.5,261.9 723.8,266.2 725,265.8 726.2,267.7 727.5,264.9 728.8,265.2 730,264.8 731.2,261.5 732.5,261.7 733.8,262.3 735,259.9 736.2,255.8 737.5,255.9 738.8,259.7 740,262.3 741.2,262.7 742.5,262.7 743.8,265.2 745,262.9 746.2,261.8 747.5,259.4 748.8,262 750,264.2 751.2,266.5 752.5,264.1 753.8,264.8 755,262.7 756.2,261.5 757.5,259 758.8,262 760,265.5 761.2,264.4 762.5,256 763.8,253.5 765,253.2 766.2,258.1 767.5,264.6 768.8,268.1 770,269.1 771.2,263.2 772.5,259.8 773.8,258.8 775,260 776.2,267.7 777.5,268.1 778.8,268 780,264.8 781.2,267.4 782.5,266.6 783.8,266.3 785,266 786.2,265.6 787.5,265 788.8,267.7 790,270.9 791.2,271.8 792.5,273.2 793.8,273 795,267.5 796.2,261.7 797.5,263.1 798.8,269.9 800,277.1 801.2,279.6 802.5,280.7 803.8,278.1 805,277.3 806.2,271.3 807.5,273.6 808.8,272.9 810,276 811.2,274.6 812.5,272.1 813.8,272.7 815,275 816.2,276.9 817.5,278.2 818.8,274.7 820,276.3 821.2,272.9 822.5,274.2 823.8,272.1 825,274.6 826.2,272.6 827.5,270.4 828.8,267.9 830,270.9 831.2,277.1 832.5,276.8 833.8,276.3 835,274.8 836.2,275.6 837.5,271.2 838.8,270.2 840,268.4 841.2,275 842.5,275.9 843.8,279 845,271.8 846.2,271.3 847.5,271.4 848.8,273.4 850,273.7 851.2,271.6 852.5,274.2 853.8,270.4 855,268.8 856.2,268.7 857.5,274.4 858.8,276.8 860,278 861.2,271.5 862.5,269.7 863.8,267.4 865,267.8 866.2,271.1 867.5,272.1 868.8,275.5 870,271.5 871.2,272.8 872.5,270.9 873.8,273.9 875,271.9 876.2,270.2 877.5,271.6 878.8,271.3 880,273.5 881.2,269.1 882.5,270.1 883.8,270.1 885,272.4 886.2,272.7 887.5,273.2 888.8,270.1 890,270.7 891.2,273.4 892.5,277 893.8,273.4 895,272.6 896.2,271.3 897.5,273.4 898.8,272.8 900,271.3 901.2,270.8 902.5,272.2 903.8,270.5 905,267.3 906.2,265.2 907.5,265.9 908.8,265.1 910,264.3 911.2,265.3 912.5,268.4 913.8,270.3 915,266 916.2,268 917.5,270.9 918.8,272.3 920,270.3 921.2,264.9 922.5,267.5 923.8,269 925,270.5 926.2,270.7 927.5,271.5 928.8,274 930,268.4 931.2,267.7 932.5,267.6 933.8,268.6 935,270.6 936.2,271.5 937.5,275.4 938.8,271.5 940,267.7 941.2,266.7 942.5,269.7 943.8,273.3 945,273.3 946.2,271.1 947.5,268 948.8,261.9 950,264.3 951.2,269.1 952.5,272.1 953.8,269.4 955,266.3 956.2,267.8 957.5,266.5 958.8,264.2 960,261.6 961.2,269.3 962.5,269.2 963.8,271.9 965,271.4 966.2,276 967.5,277.4 968.8,276.1 970,269 971.2,265.9 972.5,262.2 973.8,263 975,267.6 976.2,265.9 977.5,266.6 978.8,259 980,265.3 981.2,266.6 982.5,267.7 983.8,269.5 985,267.8 986.2,271.8 987.5,268.8 988.8,266.8 990,264.4 991.2,264.1 992.5,266.3 993.8,267.8 995,273.2 996.2,271.8 997.5,271.2 998.8,264.9 1000,263.7 1001.2,262 1002.5,262.2 1003.8,264.7 1005,267 1006.2,268.3 1007.5,267.5 1008.8,268.8 1010,270.2 1011.2,270.8 1012.5,267.8 1013.8,266.4 1015,263.8 1016.2,263.9 1017.5,262.2 1018.8,262.3 1020,262.6 1021.2,264.6 1022.5,264.9 1023.8,264.8 1025,267.6 1026.2,267.1 1027.5,266.4 1028.8,264.2 1030,262.7 1031.2,261.6 1032.5,261 1033.8,259.8 1035,256.3 1036.2,257 1037.5,261.5 1038.8,263.9 1040,260.7 1041.2,259.8 1042.5,259.5 1043.8,258.7 1045,255.9 1046.2,259.1 1047.5,257.5 1048.8,262.3 1050,262.7 1051.2,266.9 1052.5,264.3 1053.8,260.6 1055,260.5 1056.2,259.3 1057.5,263.6 1058.8,262.2 1060,264.5 1061.2,263.1 1062.5,265.6 1063.8,268.5 1065,266.8 1066.2,265.1 1067.5,266.3 1068.8,268 1070,266.8 1071.2,262.8 1072.5,260.8 1073.8,263.2 1075,263 1076.2,264.5 1077.5,266.9 1078.8,264 1080,261.5 1081.2,253.7 1082.5,254.2 1083.8,257.3 1085,261.1 1086.2,268 1087.5,263 1088.8,261.3 1090,262.2 1091.2,267.6 1092.5,270.6 1093.8,269.3 1095,268.2 1096.2,265.7 1097.5,263.8 1098.8,264.7 1100,265 1101.2,266 1102.5,266.6 1103.8,264.7 1105,262.3 1106.2,260.2 1107.5,262.5 1108.8,264.1 1110,267.7 1111.2,269 1112.5,268.9 1113.8,267.5 1115,271 1116.2,269.8 1117.5,267.3 1118.8,262.6 1120,263.6 1121.2,269 1122.5,270.1 1123.8,270.6 1125,266.4 1126.2,263.4 1127.5,262.3 1128.8,261.1 1130,266.7 1131.2,263.7 1132.5,264.4 1133.8,262.1 1135,267 1136.2,269.6 1137.5,267.7 1138.8,265.8 1140,261.2 1141.2,259.5 1142.5,261.7 1143.8,260.3 1145,262 1146.2,258.1 1147.5,259 1148.8,254.3 1150,254.2 1151.2,255.7 1152.5,260.1 1153.8,262.9 1155,262.4"/>
<polyline points="705,256.8 706.2,256.2 707.5,263.2 708.8,262.2 710,266.5 711.2,262.2 712.5,264.9 713.8,262.4 715,260.8 716.2,263.4 717.5,264 718.8,264.6 720,261.4 721.2,260.8 722.5,258.8 723.8,258.4 725,256.9 726.2,260.1 727.5,261.9 728.8,259.5 730,258 731.2,258.7 732.5,259.8 733.8,258 735,258 736.2,260.2 737.5,261.5 738.8,257.4 740,258 741.2,257.8 742.5,260.4 743.8,260.9 745,263.2 746.2,262.2 747.5,260.5 748.8,259.2 750,259.6 751.2,260.9 752.5,259.9 753.8,259.7 755,258.4 756.2,258.4 757.5,259.5 758.8,263.1 760,263.7 761.2,265.1 762.5,264.4 763.8,266.5 765,267.1 766.2,265.9 767.5,268.3 768.8,268.1 770,264.3 771.2,265.4 772.5,267 773.8,279.4 775,279.3 776.2,280.2 777.5,279 778.8,279.8 780,283 781.2,284.7 782.5,286.6 783.8,282.6 785,282.6 786.2,289.1 787.5,296.7 788.8,293.5 790,285.1 791.2,283.2 792.5,287.7 793.8,290.4 795,291.2 796.2,291.2 797.5,292.7 798.8,291.9 800,290.7 801.2,292.4 802.5,291.9 803.8,295.7 805,294.4 806.2,295.7 807.5,294 808.8,291.9 810,288.3 811.2,287.7 812.5,289.6 813.8,290.6 815,289.1 816.2,289.9 817.5,294.2 818.8,294 820,292.8 821.2,291.3 822.5,296.7 823.8,295.7 825,296.6 826.2,293.4 827.5,293.6 828.8,293.2 830,293.9 831.2,292.5 832.5,290.3 833.8,293.6 835,292.1 836.2,291.3 837.5,288.4 838.8,290.5 840,290.8 841.2,292.8 842.5,291.6 843.8,292.4 845,292.4 846.2,290.9 847.5,291.3 848.8,288.9 850,286.4 851.2,283 852.5,281.8 853.8,280.5 855,284.3 856.2,285.6 857.5,284.8 858.8,285.5 860,285.7 861.2,286.6 862.5,283.5 863.8,282.3 865,277.6 866.2,278.1 867.5,278.3 868.8,288.2 870,288.1 871.2,289.4 872.5,289.2 873.8,294.5 875,287.1 876.2,284.6 877.5,282.6 878.8,287.6 880,284.3 881.2,282.4 882.5,280.3 883.8,282.6 885,284.3 886.2,284 887.5,282.6 888.8,282.8 890,284 891.2,282.5 892.5,280 893.8,275.8 895,274.9 896.2,274.6 897.5,272.7 898.8,269.6 900,273.4 901.2,274.9 902.5,274.7 903.8,272.4 905,277.7 906.2,282.4 907.5,282.3 908.8,277.5 910,274.7 911.2,274 912.5,275.2 913.8,276.4 915,276.9 916.2,276 917.5,273.5 918.8,274.4 920,273.7 921.2,272.5 922.5,270 923.8,269.4 925,271.2 926.2,272.3 927.5,268.9 928.8,268.9 930,269.3 931.2,273.8 932.5,272.1 933.8,266.2 935,265.5 936.2,267.7 937.5,277.2 938.8,283.2 940,279.1 941.2,275.8 942.5,272.7 943.8,270.6 945,274.1 946.2,271.2 947.5,273.1 948.8,266.9 950,270.1 951.2,269.5 952.5,274.3 953.8,270.5 955,271.3 956.2,272.9 957.5,272.5 958.8,274.1 960,271.4 961.2,272.7 962.5,271.2 963.8,273.2 965,276.2 966.2,277 967.5,274.6 968.8,269.8 970,269.2 971.2,272.2 972.5,275.8 973.8,273.6 975,264.8 976.2,261.5 977.5,263.8 978.8,267.5 980,267.8 981.2,268.1 982.5,271.4 983.8,271.8 985,273.2 986.2,268.9 987.5,269.3 988.8,267.9 990,266.8 991.2,268.7 992.5,265.2 993.8,266 995,268.3 996.2,273.9 997.5,277.8 998.8,274.3 1000,274.5 1001.2,272.1 1002.5,270.2 1003.8,271 1005,272.5 1006.2,271.2 1007.5,267.3 1008.8,268.6 1010,266.4 1011.2,265.2 1012.5,260.6 1013.8,259.5 1015,260.7 1016.2,264.4 1017.5,265.5 1018.8,262.7 1020,262.4 1021.2,264.5 1022.5,269.7 1023.8,267.9 1025,267 1026.2,266.5 1027.5,270.7 1028.8,271.7 1030,270.3 1031.2,266 1032.5,265.4 1033.8,267.8 1035,272.3 1036.2,274.4 1037.5,269.2 1038.8,268.8 1040,265.2 1041.2,268.7 1042.5,262 1043.8,264 1045,261.5 1046.2,268.7 1047.5,268.8 1048.8,271.8 1050,267.5 1051.2,270.9 1052.5,267.7 1053.8,273 1055,268 1056.2,267.5 1057.5,265.1 1058.8,265.1 1060,266.5 1061.2,261.8 1062.5,261.7 1063.8,261.7 1065,262.9 1066.2,264.1 1067.5,258.9 1068.8,261.7 1070,259 1071.2,266.1 1072.5,263.2 1073.8,262.7 1075,259.2 1076.2,261 1077.5,263.5 1078.8,263.7 1080,262.3 1081.2,261.7 1082.5,265 1083.8,264.3 1085,261.1 1086.2,259.5 1087.5,266 1088.8,271 1090,273.6 1091.2,271.7 1092.5,266.6 1093.8,266.7 1095,264.3 1096.2,264.1 1097.5,265.6 1098.8,263.2 1100,266.2 1101.2,262.1 1102.5,262 1103.8,260.2 1105,257.5 1106.2,261.2 1107.5,258.3 1108.8,257.6 1110,262.9 1111.2,263.9 1112.5,267.9 1113.8,262.5 1115,264.5 1116.2,260.2 1117.5,258.6 1118.8,251.2 1120,255.4 1121.2,258.5 1122.5,260.6 1123.8,261.3 1125,261 1126.2,268.7 1127.5,267.5 1128.8,269.5 1130,265.7 1131.2,266.7 1132.5,265.4 1133.8,263.8 1135,263.4 1136.2,265.6 1137.5,263.4 1138.8,261 1140,259.2 1141.2,265.4 1142.5,267.6 1143.8,264.1 1145,261.9 1146.2,263.7 1147.5,270.4 1148.8,268.6 1150,272 1151.2,266.9 1152.5,269 1153.8,265.8 1155,265.7"/>
<polyline points="705,262 706.2,263 707.5,261.4 708.8,259.1 710,258.1 711.2,256.2 712.5,261.8 713.8,262.8 715,265.1 716.2,263.6 717.5,257.1 718.8,260 720,257.5 721.2,263.7 722.5,265.7 723.8,263.8 725,261.8 726.2,257.5 727.5,261.4 728.8,259 730,256.5 731.2,258.6 732.5,260.7 733.8,263.5 735,258 736.2,257.4 737.5,252.9 738.8,256 740,260 741.2,263.7 742.5,262.6 743.8,260.9 745,261.6 746.2,261.5 747.5,262.1 748.8,265 750,269.8 751.2,267.7 752.5,261.5 753.8,260.9 755,264.1 756.2,269 757.5,267.4 758.8,266.2 760,267.4 761.2,270.3 762.5,275.7 763.8,275.2 765,278.7 766.2,278.8 767.5,283.7 768.8,286.3 770,290.3 771.2,299.6 772.5,305.6 773.8,311 775,311.1 776.2,314.3 777.5,317.8 778.8,322.4 780,326.8 781.2,332.4 782.5,331.2 783.8,332.2 785,333.2 786.2,336 787.5,339.5 788.8,340.6 790,344 791.2,345.4 792.5,346.6 793.8,350 795,351.8 796.2,352.7 797.5,349.6 798.8,350.4 800,350.9 801.2,349.1 802.5,348.6 803.8,345.1 805,342.7 806.2,342.1 807.5,348 808.8,347.1 810,347.9 811.2,350 812.5,351 813.8,349.7 815,344.7 816.2,341 817.5,342.1 818.8,342.6 820,345.8 821.2,346.6 822.5,346.2 823.8,343.4 825,341.4 826.2,344 827.5,340.1 828.8,339 830,333.5 831.2,335.5 832.5,335.7 833.8,336.1 835,335 836.2,331.9 837.5,330.1 838.8,326.1 840,323.6 841.2,324.7 842.5,323.9 843.8,328.3 845,328.9 846.2,326 847.5,321.3 848.8,320.1 850,318.6 851.2,320 852.5,320 853.8,318.9 855,320.4 856.2,316.4 857.5,316.5 858.8,311.9 860,306.3 861.2,304.2 862.5,304.7 863.8,310.4 865,308.9 866.2,306.7 867.5,305.1 868.8,302.8 870,306.2 871.2,306.1 872.5,308.5 873.8,307.9 875,306 876.2,304.8 877.5,298 878.8,298.3 880,294.7 881.2,298.7 882.5,300.6 883.8,301.7 885,300.7 886.2,299.4 887.5,297.5 888.8,295.9 890,294.2 891.2,295.4 892.5,293.3 893.8,290.9 895,290.4 896.2,291.3 897.5,290 898.8,287.5 900,287.4 901.2,286.2 902.5,287.3 903.8,283.7 905,282.9 906.2,285.4 907.5,286.5 908.8,286.5 910,277.9 911.2,278.6 912.5,275.8 913.8,279.6 915,280.6 916.2,286.4 917.5,284.1 918.8,284.4 920,280 921.2,283.5 922.5,284.4 923.8,280.1 925,283.1 926.2,281.3 927.5,281.5 928.8,275.1 930,274.1 931.2,271.8 932.5,274.5 933.8,275.1 935,278.9 936.2,277 937.5,278 938.8,282.1 940,285.6 941.2,285.3 942.5,277.9 943.8,279.2 945,274.6 946.2,274.2 947.5,273.7 948.8,275.2 950,279.5 951.2,277 952.5,282 953.8,282 955,281.7 956.2,276 957.5,273 958.8,274.6 960,276.2 961.2,269.8 962.5,265.6 963.8,264.1 965,269.9 966.2,269.6 967.5,273.1 968.8,270.4 970,272.1 971.2,266 972.5,264.6 973.8,261.8 975,263.5 976.2,266 977.5,266.2 978.8,268.4 980,271.9 981.2,272.6 982.5,271.9 983.8,269.2 985,267.3 986.2,264.7 987.5,264.1 988.8,263.6 990,265.6 991.2,268.6 992.5,271.2 993.8,274.1 995,271.5 996.2,265.5 997.5,260.9 998.8,265.3 1000,271.1 1001.2,272.4 1002.5,271 1003.8,269.6 1005,273.2 1006.2,269.6 1007.5,268.2 1008.8,266.2 1010,264.4 1011.2,264.1 1012.5,266 1013.8,269 1015,267.9 1016.2,263.4 1017.5,262.2 1018.8,261.3 1020,262.4 1021.2,265 1022.5,267.2 1023.8,269.1 1025,266.7 1026.2,267.1 1027.5,264.4 1028.8,265.8 1030,268.2 1031.2,269.4 1032.5,265.3 1033.8,264.6 1035,266.6 1036.2,270 1037.5,269.5 1038.8,268.6 1040,262.6 1041.2,263.6 1042.5,263.9 1043.8,263.5 1045,259.8 1046.2,255.7 1047.5,258.9 1048.8,261.9 1050,258.2 1051.2,255.3 1052.5,255.4 1053.8,260.9 1055,262.2 1056.2,263.4 1057.5,265 1058.8,265.8 1060,266.4 1061.2,267.3 1062.5,264.8 1063.8,263.8 1065,261.2 1066.2,259.5 1067.5,261.1 1068.8,258.8 1070,261.5 1071.2,262.1 1072.5,259.4 1073.8,259.9 1075,260.2 1076.2,264.5 1077.5,264.6 1078.8,265.7 1080,265.4 1081.2,261.5 1082.5,261.7 1083.8,263.4 1085,262.2 1086.2,259.7 1087.5,256.5 1088.8,260.8 1090,261.6 1091.2,262.3 1092.5,263 1093.8,265.8 1095,267.7 1096.2,265.3 1097.5,264.1 1098.8,263.6 1100,264.9 1101.2,266.2 1102.5,265.5 1103.8,264.4 1105,267.2 1106.2,266.5 1107.5,263.3 1108.8,260.8 1110,260 1111.2,267.1 1112.5,267.8 1113.8,270.7 1115,266.3 1116.2,268.4 1117.5,264.9 1118.8,263.5 1120,256.4 1121.2,260.9 1122.5,260.9 1123.8,267.1 1125,264.2 1126.2,262.1 1127.5,257.7 1128.8,259.2 1130,260.2 1131.2,261.5 1132.5,259.3 1133.8,259.8 1135,258.2 1136.2,262.5 1137.5,261.7 1138.8,263.7 1140,261.8 1141.2,261.8 1142.5,257.1 1143.8,258.6 1145,264.3 1146.2,266.7 1147.5,261.4 1148.8,260.1 1150,261.2 1151.2,261.9 1152.5,258.7 1153.8,253.4 1155,253.9"/>
<polyline points="705,260 706.2,254.3 707.5,258.9 708.8,262.5 710,261.6 711.2,254 712.5,255.2 713.8,259.4 715,262.5 716.2,260.9 717.5,259.5 718.8,259.8 720,259.1 721.2,257.8 722.5,257.4 723.8,260.8 725,262.6 726.2,265.7 727.5,266.9 728.8,261.8 730,259.7 731.2,258 732.5,261.9 733.8,260.9 735,259.9 736.2,259.3 737.5,258.8 738.8,257.4 740,258.6 741.2,260.2 742.5,262.5 743.8,262.4 745,261.5 746.2,265.6 747.5,265.1 748.8,265.5 750,259.4 751.2,258.5 752.5,256 753.8,256.7 755,262 756.2,265.1 757.5,269.8 758.8,277.1 760,290.3 761.2,304.9 762.5,316.8 763.8,329.3 765,340.9 766.2,351.4 767.5,365.5 768.8,371.5 770,381.8 771.2,390.4 772.5,402.3 773.8,406.3 775,406.6 776.2,410.2 777.5,411.6 778.8,411.5 780,408.8 781.2,403.4 782.5,406.2 783.8,407.3 785,412.2 786.2,409.7 787.5,409.3 788.8,401.9 790,395.6 791.2,389.8 792.5,388.7 793.8,390.1 795,387.6 796.2,384.5 797.5,381.2 798.8,378.8 800,376.3 801.2,373.5 802.5,368.4 803.8,363.8 805,357.2 806.2,352.8 807.5,349 808.8,349.9 810,346.5 811.2,342.4 812.5,340.7 813.8,337.4 815,333.5 816.2,326.7 817.5,323.3 818.8,319.3 820,318.3 821.2,321.6 822.5,322.5 823.8,320.1 825,316.1 826.2,315.7 827.5,314 828.8,313.5 830,309.6 831.2,307.6 832.5,305.6 833.8,307 835,304.6 836.2,300.9 837.5,302.9 838.8,302.9 840,302.8 841.2,300.4 842.5,297.6 843.8,297.6 845,290.5 846.2,295.1 847.5,292.1 848.8,293.8 850,287.7 851.2,289 852.5,288.2 853.8,288.5 855,287.2 856.2,286.7 857.5,285.4 858.8,283.9 860,283.6 861.2,284.8 862.5,282.7 863.8,280.5 865,276 866.2,279.1 867.5,277.5 868.8,280.8 870,280.4 871.2,283.3 872.5,281.2 873.8,278.9 875,278.5 876.2,276.5 877.5,280.2 878.8,277.8 880,278.1 881.2,277.7 882.5,278.9 883.8,277.6 885,276 886.2,273.5 887.5,272.6 888.8,271.4 890,273.7 891.2,274.5 892.5,275.8 893.8,273.7 895,268.6 896.2,266.7 897.5,268.8 898.8,268.3 900,269.8 901.2,267.1 902.5,268.1 903.8,266.4 905,263.7 906.2,269.4 907.5,271.1 908.8,276 910,275.2 911.2,276.1 912.5,275.1 913.8,269.5 915,265.3 916.2,265.1 917.5,268.5 918.8,266.8 920,265.7 921.2,264 922.5,267.9 923.8,267.9 925,270.6 926.2,268.1 927.5,266.6 928.8,266.8 930,267.1 931.2,269.6 932.5,266.9 933.8,264.6 935,262.3 936.2,264 937.5,266.3 938.8,263.7 940,259.5 941.2,259.7 942.5,263.3 943.8,265.2 945,265.1 946.2,261.5 947.5,258.9 948.8,257.3 950,257.9 951.2,260.2 952.5,263.7 953.8,263.9 955,264.7 956.2,265 957.5,263 958.8,260.1 960,257.1 961.2,256.5 962.5,262.1 963.8,258.2 965,258.5 966.2,256.1 967.5,258 968.8,262.3 970,259.1 971.2,262.6 972.5,260.4 973.8,263.8 975,263.4 976.2,261.5 977.5,258.6 978.8,254.3 980,254.6 981.2,258.4 982.5,262 983.8,265.6 985,266.1 986.2,267.8 987.5,267.5 988.8,263.7 990,261 991.2,259.9 992.5,262.8 993.8,264.8 995,263.3 996.2,261.1 997.5,257.5 998.8,260.3 1000,260.9 1001.2,265.8 1002.5,260.4 1003.8,261.7 1005,258.4 1006.2,260.6 1007.5,257.1 1008.8,257.9 1010,256.2 1011.2,258 1012.5,255.4 1013.8,253.6 1015,252.6 1016.2,257.5 1017.5,260.1 1018.8,262.9 1020,261.9 1021.2,259.3 1022.5,261.3 1023.8,261.6 1025,262.1 1026.2,259.9 1027.5,261.7 1028.8,262.6 1030,261.3 1031.2,263.7 1032.5,260.1 1033.8,266.5 1035,263.5 1036.2,264.8 1037.5,263.9 1038.8,265.1 1040,269 1041.2,267.5 1042.5,265.7 1043.8,263.4 1045,263 1046.2,262 1047.5,264.8 1048.8,265.4 1050,268.8 1051.2,263.3 1052.5,264.6 1053.8,257.5 1055,257.1 1056.2,256.8 1057.5,259.7 1058.8,261.4 1060,259.5 1061.2,258.4 1062.5,256.5 1063.8,258 1065,256.7 1066.2,257.1 1067.5,258 1068.8,255.1 1070,257.9 1071.2,257.3 1072.5,262.3 1073.8,261.7 1075,262 1076.2,261.3 1077.5,259.2 1078.8,258.4 1080,257.6 1081.2,259.2 1082.5,258.5 1083.8,259.6 1085,262.5 1086.2,259.6 1087.5,263.4 1088.8,261.8 1090,267.9 1091.2,269.1 1092.5,270 1093.8,267.4 1095,265.5 1096.2,260.9 1097.5,260.3 1098.8,258.4 1100,259.5 1101.2,260.6 1102.5,260.4 1103.8,262.9 1105,261.5 1106.2,262.2 1107.5,262.9 1108.8,264.5 1110,263.2 1111.2,261.7 1112.5,266.6 1113.8,268.8 1115,270.5 1116.2,262.6 1117.5,262.8 1118.8,266.3 1120,268.4 1121.2,267.8 1122.5,265.3 1123.8,260 1125,260.4 1126.2,259.3 1127.5,263.5 1128.8,263 1130,263.6 1131.2,265.9 1132.5,266.9 1133.8,265.7 1135,261.9 1136.2,261.2 1137.5,261 1138.8,261.8 1140,260.3 1141.2,257 1142.5,252.2 1143.8,253.3 1145,254.7 1146.2,256.9 1147.5,255.2 1148.8,257.5 1150,257.5 1151.2,258.6 1152.5,257.2 1153.8,259 1155,262.8"/>
<polyline points="705,254.8 706.2,254.4 707.5,260.1 708.8,261.2 710,259.5 711.2,257.5 712.5,258.5 713.8,260.1 715,261.9 716.2,261.7 717.5,262.5 718.8,262.7 720,259.4 721.2,259.2 722.5,255.6 723.8,261.1 725,259.6 726.2,266 727.5,261.7 728.8,262.9 730,262.2 731.2,263.6 732.5,264.2 733.8,261.2 735,260.3 736.2,258.5 737.5,257.6 738.8,254.7 740,255.8 741.2,255.8 742.5,261.9 743.8,266.2 745,271.3 746.2,266.4 747.5,261.6 748.8,257.8 750,257.1 751.2,260.8 752.5,262.4 753.8,265.9 755,268.2 756.2,273.3 757.5,281.7 758.8,291.1 760,303.9 761.2,321.2 762.5,334.2 763.8,351.1 765,363.3 766.2,377 767.5,386.3 768.8,395.6 770,399.9 771.2,407 772.5,409.6 773.8,419 775,419.5 776.2,422.2 777.5,417.1 778.8,414.2 780,407.7 781.2,403.5 782.5,398 783.8,391.8 785,387.7 786.2,383 787.5,383.7 788.8,382.7 790,379.2 791.2,376.2 792.5,372.2 793.8,369.8 795,364.3 796.2,357.1 797.5,355.4 798.8,356.4 800,354.4 801.2,344.7 802.5,333.4 803.8,331.3 805,332.5 806.2,335.3 807.5,329 808.8,323.5 810,318.9 811.2,313.6 812.5,315.2 813.8,312.6 815,308.6 816.2,302.7 817.5,300.9 818.8,302.6 820,302.9 821.2,299.6 822.5,293.9 823.8,290.6 825,289.7 826.2,287.1 827.5,288.3 828.8,286.9 830,290.5 831.2,289.5 832.5,289.8 833.8,288.4 835,284.6 836.2,276.7 837.5,271.2 838.8,272.8 840,277 841.2,277.1 842.5,276.5 843.8,272.8 845,274.8 846.2,274.6 847.5,275.5 848.8,274.5 850,274.7 851.2,273.9 852.5,271.9 853.8,271.7 855,274.1 856.2,276.5 857.5,277.6 858.8,271.3 860,271.2 861.2,270.4 862.5,276.3 863.8,277.2 865,275.2 866.2,270.6 867.5,270.2 868.8,269.4 870,270.6 871.2,269.7 872.5,269.4 873.8,268.5 875,269.2 876.2,264.2 877.5,263.9 878.8,259.6 880,261.2 881.2,260 882.5,262.5 883.8,260.9 885,259.6 886.2,260.7 887.5,261.3 888.8,262.5 890,261.4 891.2,261.8 892.5,260.5 893.8,260.5 895,261.7 896.2,260.5 897.5,261.5 898.8,258.3 900,260.7 901.2,260.4 902.5,262.2 903.8,260.1 905,257.1 906.2,253.9 907.5,256.5 908.8,258.8 910,257.9 911.2,257.5 912.5,259.8 913.8,262 915,260.2 916.2,258.8 917.5,257.4 918.8,256.8 920,256.2 921.2,256.6 922.5,257.8 923.8,257.6 925,261.3 926.2,261.7 927.5,262.1 928.8,257.2 930,259.4 931.2,259.4 932.5,260.1 933.8,261 935,264.1 936.2,263.7 937.5,261 938.8,261.7 940,262 941.2,266 942.5,262.7 943.8,268.6 945,264.4 946.2,261.4 947.5,255.1 948.8,261.3 950,263.5 951.2,265.3 952.5,259.4 953.8,259.7 955,260.3 956.2,262.7 957.5,263 958.8,261.2 960,262.7 961.2,265.4 962.5,268.6 963.8,268.5 965,265.9 966.2,266.5 967.5,267.1 968.8,266 970,266.4 971.2,257.1 972.5,255.2 973.8,249.4 975,252.4 976.2,254.4 977.5,256.2 978.8,258.9 980,259.7 981.2,258.7 982.5,253.5 983.8,251.6 985,252.4 986.2,254.3 987.5,259.8 988.8,260 990,258.8 991.2,258.5 992.5,255.1 993.8,257.7 995,254.4 996.2,254 997.5,254.6 998.8,254.6 1000,255.3 1001.2,256.3 1002.5,259.7 1003.8,262.7 1005,266.5 1006.2,260.6 1007.5,259 1008.8,257.7 1010,259.5 1011.2,259.6 1012.5,258.7 1013.8,263.5 1015,266.2 1016.2,264.5 1017.5,261.7 1018.8,261.6 1020,262.2 1021.2,262.9 1022.5,261 1023.8,260.6 1025,258.8 1026.2,257.1 1027.5,256.5 1028.8,256.8 1030,258.1 1031.2,258 1032.5,257.5 1033.8,259.4 1035,261.5 1036.2,265.8 1037.5,261.4 1038.8,257.2 1040,253 1041.2,256.6 1042.5,259.2 1043.8,259.7 1045,259.3 1046.2,260.6 1047.5,261.5 1048.8,259.3 1050,259 1051.2,262.9 1052.5,268.9 1053.8,266.2 1055,265.5 1056.2,262.7 1057.5,261.7 1058.8,259.6 1060,261.9 1061.2,264 1062.5,262 1063.8,257.4 1065,258.2 1066.2,256.9 1067.5,260.2 1068.8,256 1070,257 1071.2,255 1072.5,256.5 1073.8,255.8 1075,261.4 1076.2,263.8 1077.5,265.2 1078.8,260.8 1080,260.8 1081.2,260.7 1082.5,263.6 1083.8,262.5 1085,263.7 1086.2,262.2 1087.5,261.5 1088.8,261.3 1090,260.4 1091.2,257.5 1092.5,252.2 1093.8,251.4 1095,256.6 1096.2,265.1 1097.5,271.1 1098.8,268.7 1100,268.9 1101.2,261.9 1102.5,260.8 1103.8,258 1105,260.5 1106.2,263.8 1107.5,261.7 1108.8,261.7 1110,262.1 1111.2,267.1 1112.5,262.8 1113.8,260.8 1115,259.4 1116.2,260 1117.5,257.6 1118.8,260.8 1120,261.9 1121.2,263.1 1122.5,255.3 1123.8,255.1 1125,258.9 1126.2,264.2 1127.5,264.2 1128.8,264.1 1130,263.7 1131.2,265.8 1132.5,262.8 1133.8,262.3 1135,260.2 1136.2,261 1137.5,258.8 1138.8,257.6 1140,260 1141.2,258.7 1142.5,259.7 1143.8,264.1 1145,264.3 1146.2,263.8 1147.5,259.2 1148.8,264.2 1150,261.9 1151.2,263.3 1152.5,260.3 1153.8,266.3 1155,265.5"/>
<polyline points="705,268.3 706.2,261.9 707.5,263 708.8,260.4 710,261.7 711.2,258.7 712.5,257.1 713.8,258.5 715,257 716.2,260.9 717.5,258.3 718.8,263 720,262.1 721.2,265.7 722.5,261.3 723.8,261.8 725,261 726.2,263.5 727.5,262.3 728.8,259.8 730,253.3 731.2,254.4 732.5,253.1 733.8,257.2 735,257 736.2,254.4 737.5,254.9 738.8,255.5 740,260.5 741.2,261.5 742.5,258.8 743.8,259.1 745,256.6 746.2,257 747.5,258.2 748.8,259.3 750,260.1 751.2,258 752.5,257.3 753.8,254 755,255.1 756.2,262.8 757.5,275.6 758.8,291.6 760,309.5 761.2,328.4 762.5,344.4 763.8,355.7 765,369.3 766.2,379.3 767.5,389.9 768.8,390.2 770,395.9 771.2,401.6 772.5,405.2 773.8,404.8 775,397.7 776.2,394.8 777.5,390.1 778.8,389.1 780,384.5 781.2,380.8 782.5,372.6 783.8,366.1 785,361.1 786.2,362.6 787.5,358.7 788.8,355.3 790,347.9 791.2,344.3 792.5,336 793.8,330 795,327.3 796.2,324.7 797.5,323.3 798.8,321.3 800,318.9 801.2,310 802.5,307.2 803.8,306.5 805,308.5 806.2,306.4 807.5,300.3 808.8,294 810,290.5 811.2,292 812.5,291.3 813.8,287.2 815,287.7 816.2,288 817.5,290 818.8,285.5 820,284 821.2,281.5 822.5,285 823.8,280.2 825,278.3 826.2,274.5 827.5,276.3 828.8,276.8 830,278 831.2,278.3 832.5,277.6 833.8,275.6 835,274.8 836.2,275.5 837.5,275.1 838.8,271.3 840,271.8 841.2,272.4 842.5,277.5 843.8,272.8 845,269 846.2,263.8 847.5,264.3 848.8,262.2 850,263.5 851.2,260.8 852.5,258.5 853.8,255.9 855,256.9 856.2,261.2 857.5,259.8 858.8,258.6 860,253.8 861.2,253.6 862.5,256.1 863.8,263.5 865,266.9 866.2,266.1 867.5,264.6 868.8,263.2 870,261.9 871.2,255.8 872.5,253.6 873.8,256 875,259.9 876.2,261.4 877.5,261.7 878.8,259.6 880,260.5 881.2,263.3 882.5,263.2 883.8,265.2 885,262.5 886.2,262.7 887.5,263.2 888.8,265.8 890,265.3 891.2,258.5 892.5,257.5 893.8,256.2 895,259.4 896.2,262.3 897.5,261.7 898.8,266.3 900,264.8 901.2,265.8 902.5,263 903.8,263.5 905,266.1 906.2,268.2 907.5,266.3 908.8,262.4 910,264.7 911.2,267.9 912.5,267.3 913.8,264.8 915,262.9 916.2,266 917.5,264.2 918.8,263.6 920,259.4 921.2,259.5 922.5,258.7 923.8,262.5 925,263.8 926.2,267.9 927.5,265.3 928.8,268 930,265.9 931.2,262 932.5,254.2 933.8,254.2 935,262.2 936.2,266.5 937.5,265.1 938.8,262.7 940,263.1 941.2,263.6 942.5,261.8 943.8,263.4 945,262.4 946.2,258.6 947.5,261.1 948.8,261.3 950,260.5 951.2,255.3 952.5,257 953.8,260.1 955,263.9 956.2,266.6 957.5,265.8 958.8,263.2 960,262.5 961.2,263.7 962.5,264.1 963.8,260 965,260.3 966.2,260.2 967.5,261 968.8,260.1 970,264.4 971.2,266.9 972.5,265.3 973.8,263.7 975,264 976.2,265.2 977.5,264.6 978.8,264.7 980,269.2 981.2,264.7 982.5,263 983.8,259 985,261.4 986.2,259.5 987.5,260.7 988.8,257.7 990,257.7 991.2,257 992.5,261.5 993.8,263.9 995,264 996.2,263.5 997.5,262.8 998.8,263 1000,261.3 1001.2,259 1002.5,263.6 1003.8,266.5 1005,266.5 1006.2,266.9 1007.5,262.3 1008.8,260.1 1010,256.2 1011.2,259.8 1012.5,260.1 1013.8,259.8 1015,255.8 1016.2,254.3 1017.5,258.5 1018.8,261.6 1020,260.6 1021.2,263.3 1022.5,260.3 1023.8,260.8 1025,257.3 1026.2,257.9 1027.5,256.5 1028.8,256.8 1030,258.4 1031.2,261.4 1032.5,261 1033.8,258.8 1035,254.2 1036.2,255.6 1037.5,255.4 1038.8,257.6 1040,260.5 1041.2,258.7 1042.5,260.4 1043.8,260.9 1045,262.2 1046.2,261.2 1047.5,261.7 1048.8,260.8 1050,261 1051.2,262.1 1052.5,257.7 1053.8,259.5 1055,259.8 1056.2,265.4 1057.5,261.1 1058.8,260.1 1060,260.4 1061.2,263.6 1062.5,261.9 1063.8,259.1 1065,261.2 1066.2,261.8 1067.5,265 1068.8,259.6 1070,260.6 1071.2,256.4 1072.5,257.9 1073.8,259.6 1075,259 1076.2,257.8 1077.5,255.1 1078.8,257.6 1080,260.3 1081.2,262.3 1082.5,265.6 1083.8,265.8 1085,267.6 1086.2,267 1087.5,266.9 1088.8,263.5 1090,264.8 1091.2,262.4 1092.5,264.5 1093.8,261.7 1095,260.9 1096.2,260.2 1097.5,261.3 1098.8,263.5 1100,264.9 1101.2,264.3 1102.5,262.7 1103.8,261.5 1105,265.3 1106.2,264.9 1107.5,261.2 1108.8,257.2 1110,256.1 1111.2,262.1 1112.5,261.9 1113.8,261.5 1115,259.5 1116.2,257.4 1117.5,259.8 1118.8,261.2 1120,264.4 1121.2,265.5 1122.5,263.4 1123.8,263.9 1125,264.3 1126.2,262 1127.5,261.6 1128.8,259.3 1130,261.5 1131.2,255.2 1132.5,254.9 1133.8,251.6 1135,253.2 1136.2,252.7 1137.5,254.3 1138.8,255.8 1140,259.2 1141.2,260.4 1142.5,261.9 1143.8,263 1145,261.8 1146.2,263.7 1147.5,261.4 1148.8,261.4 1150,261 1151.2,262.6 1152.5,261.5 1153.8,263 1155,259.3"/>
<polyline points="705,256.6 706.2,256 707.5,257.8 708.8,260.7 710,262.4 711.2,265.6 712.5,264.8 713.8,264.9 715,256.2 716.2,255.2 717.5,255.2 718.8,258.2 720,258.4 721.2,256.6 722.5,259 723.8,259 725,259.8 726.2,260.1 727.5,260.9 728.8,262 730,260.8 731.2,261.9 732.5,261.4 733.8,263.4 735,265 736.2,268 737.5,271.5 738.8,267.7 740,265.3 741.2,262.1 742.5,262.7 743.8,261.7 745,262.3 746.2,264.3 747.5,268.8 748.8,266.2 750,264.9 751.2,259.3 752.5,259.8 753.8,254.4 755,262 756.2,265.9 757.5,281.5 758.8,287.3 760,303.9 761.2,316.1 762.5,328.3 763.8,337.5 765,347.3 766.2,357.2 767.5,360.5 768.8,365 770,366.4 771.2,367.6 772.5,368.7 773.8,365 775,364.4 776.2,361.4 777.5,358.4 778.8,353.3 780,347.6 781.2,343.3 782.5,340.5 783.8,333.5 785,329.3 786.2,326.1 787.5,323.9 788.8,323.8 790,320.3 791.2,313.9 792.5,308.1 793.8,303.8 795,302.5 796.2,301.5 797.5,300.2 798.8,293.9 800,293 801.2,289.4 802.5,287.4 803.8,280.2 805,280 806.2,279.1 807.5,276.4 808.8,270.8 810,271.9 811.2,272.7 812.5,277.2 813.8,275.7 815,276.9 816.2,272.1 817.5,274.2 818.8,270.3 820,271.6 821.2,269.1 822.5,269 823.8,265.6 825,266.1 826.2,271.5 827.5,273.1 828.8,274.6 830,271.6 831.2,270.5 832.5,265.9 833.8,260.7 835,262.5 836.2,262.5 837.5,263.6 838.8,261.9 840,263.8 841.2,263.3 842.5,262.4 843.8,261 845,262.4 846.2,262.2 847.5,261.3 848.8,257.3 850,256.8 851.2,260.7 852.5,264.6 853.8,266 855,265.5 856.2,263.8 857.5,263.8 858.8,261.9 860,264.3 861.2,265.3 862.5,265.4 863.8,264.9 865,265.2 866.2,265 867.5,261.4 868.8,261.1 870,261.5 871.2,262.5 872.5,260.3 873.8,257 875,258.3 876.2,256.1 877.5,259.4 878.8,259.6 880,259.3 881.2,258.4 882.5,254.5 883.8,256.3 885,252.9 886.2,256.9 887.5,259.9 888.8,259.8 890,259.3 891.2,258.3 892.5,259.9 893.8,264 895,260.2 896.2,263.5 897.5,261 898.8,263.7 900,258.4 901.2,258.4 902.5,253.9 903.8,255.6 905,248.8 906.2,253.6 907.5,253.1 908.8,253.1 910,255.5 911.2,259.9 912.5,260.5 913.8,261 915,258.8 916.2,260.2 917.5,258.8 918.8,260.4 920,263.9 921.2,265.2 922.5,259.4 923.8,259.4 925,260.7 926.2,261.2 927.5,258 928.8,257.6 930,260.7 931.2,263.1 932.5,260.8 933.8,262.9 935,257.2 936.2,259.6 937.5,258.1 938.8,263.2 940,262.9 941.2,267.3 942.5,265.3 943.8,263.8 945,258.1 946.2,259.3 947.5,258.6 948.8,258.5 950,259.6 951.2,261.2 952.5,263.2 953.8,263 955,258.8 956.2,260.5 957.5,260 958.8,262.5 960,260.6 961.2,256 962.5,259.9 963.8,263.2 965,265.3 966.2,264.5 967.5,261.3 968.8,261.5 970,260.8 971.2,260.6 972.5,261.1 973.8,260 975,259.5 976.2,258.6 977.5,256.5 978.8,257.3 980,253.5 981.2,253.2 982.5,252.4 983.8,256.9 985,257.7 986.2,257 987.5,255.8 988.8,260 990,262.4 991.2,264.2 992.5,255.8 993.8,254.5 995,255.6 996.2,256.4 997.5,256.3 998.8,253.7 1000,256.2 1001.2,258.9 1002.5,257.9 1003.8,260.8 1005,255.3 1006.2,257.9 1007.5,257.8 1008.8,260.7 1010,261.3 1011.2,259 1012.5,263.7 1013.8,263.6 1015,266 1016.2,266.3 1017.5,267.5 1018.8,263.8 1020,258.8 1021.2,257.3 1022.5,257.1 1023.8,254.2 1025,253.4 1026.2,250 1027.5,254.6 1028.8,256.4 1030,257.5 1031.2,258.2 1032.5,259.2 1033.8,261.6 1035,257.2 1036.2,257.2 1037.5,257.7 1038.8,258.5 1040,258.2 1041.2,260.5 1042.5,261.8 1043.8,264.5 1045,264.3 1046.2,262.1 1047.5,256.9 1048.8,252.8 1050,253 1051.2,256.3 1052.5,257.7 1053.8,257 1055,256.5 1056.2,253.1 1057.5,254 1058.8,253.5 1060,258.1 1061.2,257.8 1062.5,260.6 1063.8,261.8 1065,261.6 1066.2,260.1 1067.5,256.9 1068.8,257.8 1070,255.3 1071.2,256 1072.5,255.5 1073.8,255.8 1075,255.2 1076.2,255.2 1077.5,258.2 1078.8,255.7 1080,258.5 1081.2,257.7 1082.5,262.2 1083.8,263.4 1085,262 1086.2,259.1 1087.5,259.7 1088.8,260.1 1090,260.1 1091.2,259.7 1092.5,261.4 1093.8,262.2 1095,263.5 1096.2,264.4 1097.5,262.6 1098.8,264.4 1100,265 1101.2,269.4 1102.5,265.4 1103.8,263.4 1105,259.8 1106.2,265.4 1107.5,266.9 1108.8,268.5 1110,267.2 1111.2,265.8 1112.5,263 1113.8,265.5 1115,260.4 1116.2,263.5 1117.5,261.6 1118.8,266.1 1120,266 1121.2,265.4 1122.5,266.8 1123.8,264.6 1125,263.1 1126.2,263.4 1127.5,261.4 1128.8,263 1130,258.4 1131.2,260.9 1132.5,261.1 1133.8,264.9 1135,262.6 1136.2,261.4 1137.5,258.9 1138.8,259.2 1140,261.5 1141.2,266.2 1142.5,269.6 1143.8,269.9 1145,263 1146.2,263.5 1147.5,262.6 1148.8,267.9 1150,266.6 1151.2,266.9 1152.5,262.4 1153.8,261.9 1155,258.8"/>
<polyline points="705,258.9 706.2,261.3 707.5,257.2 708.8,258.8 710,257.2 711.2,259.6 712.5,260 713.8,260 715,263.1 716.2,264.1 717.5,264.6 718.8,260.6 720,255 721.2,254.5 722.5,255.2 723.8,262.3 725,262.2 726.2,261.1 727.5,252.9 728.8,252.1 730,250.9 731.2,255.9 732.5,252.6 733.8,258.8 735,257 736.2,263.5 737.5,259.6 738.8,259.7 740,259.6 741.2,258.8 742.5,260.9 743.8,261.6 745,262.7 746.2,261.2 747.5,261.6 748.8,266.3 750,269.6 751.2,266.3 752.5,262.8 753.8,259.4 755,261 756.2,269.6 757.5,280.9 758.8,293.4 760,301.2 761.2,309.8 762.5,317.3 763.8,324.8 765,329.6 766.2,330.9 767.5,332.2 768.8,331.4 770,329.5 771.2,329.7 772.5,327.2 773.8,328.9 775,327.6 776.2,321.5 777.5,319.3 778.8,312.8 780,308 781.2,300.5 782.5,297.6 783.8,295.3 785,294.3 786.2,294.8 787.5,296.1 788.8,288.9 790,289.3 791.2,286.3 792.5,289.7 793.8,285.6 795,283.8 796.2,281.3 797.5,280.2 798.8,280.8 800,277 801.2,273.5 802.5,269 803.8,267.7 805,272.2 806.2,273.1 807.5,274 808.8,274 810,272.9 811.2,272.6 812.5,272.7 813.8,270.7 815,266 816.2,264.6 817.5,265.2 818.8,269.8 820,271.5 821.2,270.5 822.5,269.9 823.8,265.1 825,262.7 826.2,263 827.5,261.4 828.8,262.1 830,258 831.2,257.1 832.5,260.2 833.8,259.1 835,264.5 836.2,259.2 837.5,260.8 838.8,253.7 840,256.1 841.2,258.6 842.5,262.9 843.8,260.9 845,262.7 846.2,262.3 847.5,265.5 848.8,264.3 850,264.6 851.2,263.1 852.5,263.4 853.8,260.9 855,262.1 856.2,258.7 857.5,257.4 858.8,255.2 860,256.5 861.2,257.3 862.5,257.4 863.8,257.7 865,258.6 866.2,263.3 867.5,265.2 868.8,266 870,265.8 871.2,266.7 872.5,266.3 873.8,266.7 875,267.6 876.2,266.3 877.5,263.7 878.8,261.9 880,262.2 881.2,263.8 882.5,262.1 883.8,261 885,261.1 886.2,260.9 887.5,261.4 888.8,258.2 890,255.9 891.2,256.9 892.5,259.2 893.8,263.7 895,260.3 896.2,259.2 897.5,258.8 898.8,262.1 900,263.4 901.2,264 902.5,262.7 903.8,263.2 905,263.4 906.2,265.3 907.5,264.6 908.8,261 910,256.3 911.2,259.4 912.5,260.3 913.8,266.3 915,266.2 916.2,264.4 917.5,259.5 918.8,257.3 920,260.5 921.2,261.6 922.5,264.4 923.8,264.6 925,267.7 926.2,267.4 927.5,266 928.8,261.2 930,260.4 931.2,260.1 932.5,264.9 933.8,261.7 935,260.1 936.2,262.3 937.5,265.9 938.8,265.7 940,260.5 941.2,259.7 942.5,259.6 943.8,261.9 945,262.6 946.2,264.4 947.5,266.7 948.8,267.4 950,265.4 951.2,264.5 952.5,261.1 953.8,264.1 955,258.1 956.2,260.3 957.5,257.5 958.8,256.9 960,255.8 961.2,255.8 962.5,260.5 963.8,260.2 965,254.3 966.2,255.2 967.5,255.2 968.8,261.3 970,260.4 971.2,265.3 972.5,264.4 973.8,262.6 975,266.8 976.2,267 977.5,266.3 978.8,257.7 980,257.9 981.2,262.6 982.5,266.3 983.8,264 985,257.3 986.2,256 987.5,257.2 988.8,260.4 990,262.8 991.2,265 992.5,262.3 993.8,258.6 995,256.5 996.2,259.5 997.5,262.2 998.8,263.1 1000,261.5 1001.2,264.8 1002.5,262.8 1003.8,262.7 1005,260.3 1006.2,262.6 1007.5,262.2 1008.8,261.2 1010,258.4 1011.2,257.6 1012.5,262.1 1013.8,261.8 1015,263.6 1016.2,258.9 1017.5,258.7 1018.8,258.7 1020,259.5 1021.2,262.4 1022.5,261.1 1023.8,258.9 1025,257.4 1026.2,259.7 1027.5,264.2 1028.8,264.3 1030,262.6 1031.2,258.4 1032.5,262.2 1033.8,261.7 1035,263 1036.2,260.3 1037.5,260.8 1038.8,261.7 1040,261.6 1041.2,265.6 1042.5,267.3 1043.8,267.5 1045,261.7 1046.2,264.6 1047.5,264.8 1048.8,268.7 1050,264.7 1051.2,264 1052.5,261.6 1053.8,261.6 1055,261.2 1056.2,263.3 1057.5,265.5 1058.8,264.2 1060,262.8 1061.2,261.3 1062.5,261.7 1063.8,263.2 1065,259.6 1066.2,262.5 1067.5,260.2 1068.8,262.9 1070,263.7 1071.2,265.7 1072.5,264.8 1073.8,263.9 1075,266.6 1076.2,262.9 1077.5,261.3 1078.8,257.6 1080,262.8 1081.2,261.4 1082.5,262.2 1083.8,260.2 1085,263.1 1086.2,259.1 1087.5,261.2 1088.8,265.4 1090,267.2 1091.2,266 1092.5,258.6 1093.8,253.4 1095,251.7 1096.2,254.6 1097.5,260.5 1098.8,261 1100,258.3 1101.2,252.7 1102.5,255.3 1103.8,259.2 1105,262.4 1106.2,259.8 1107.5,258.5 1108.8,257.4 1110,255.7 1111.2,257.3 1112.5,253.9 1113.8,256.6 1115,256.4 1116.2,260.4 1117.5,263.7 1118.8,264.2 1120,264.1 1121.2,259.3 1122.5,253.1 1123.8,248.3 1125,253.1 1126.2,252.6 1127.5,257.1 1128.8,256.4 1130,259.8 1131.2,260.6 1132.5,263.1 1133.8,262.9 1135,264.7 1136.2,262.2 1137.5,262.1 1138.8,260.3 1140,260.8 1141.2,262.2 1142.5,262.1 1143.8,262.6 1145,266.6 1146.2,262.5 1147.5,261 1148.8,255.1 1150,259.7 1151.2,258.4 1152.5,256.1 1153.8,257.8 1155,257.8"/>
<polyline points="705,257.2 706.2,258.3 707.5,259.7 708.8,259.4 710,262.5 711.2,264.3 712.5,265.6 713.8,263.2 715,260.8 716.2,260.5 717.5,257.8 718.8,256.8 720,261.2 721.2,266.1 722.5,267.2 723.8,263.1 725,262.1 726.2,260.7 727.5,262.7 728.8,257.6 730,260 731.2,260 732.5,264.6 733.8,266.9 735,267.8 736.2,265.3 737.5,259.6 738.8,252.8 740,251.5 741.2,253.9 742.5,257.3 743.8,264.8 745,266 746.2,267.9 747.5,262.7 748.8,261.5 750,261.4 751.2,263.3 752.5,263.8 753.8,264.9 755,265.9 756.2,268.1 757.5,270.5 758.8,271.9 760,277 761.2,280 762.5,282.1 763.8,283.7 765,285.3 766.2,286.7 767.5,282.1 768.8,282.8 770,282.1 771.2,285.3 772.5,281.2 773.8,279.1 775,273.7 776.2,272.5 777.5,272.7 778.8,276.1 780,274.6 781.2,274.2 782.5,273.4 783.8,273.1 785,272.3 786.2,270.4 787.5,270.1 788.8,268.6 790,265.3 791.2,264.7 792.5,265.4 793.8,262.8 795,260.5 796.2,260.2 797.5,263.6 798.8,265.5 800,267.7 801.2,266 802.5,269.3 803.8,266.8 805,265 806.2,261.4 807.5,258.6 808.8,264.5 810,267 811.2,266.4 812.5,265.6 813.8,259.8 815,258.4 816.2,259 817.5,262.1 818.8,263.4 820,261.2 821.2,255.7 822.5,255.6 823.8,255.3 825,256.8 826.2,259 827.5,258.4 828.8,259.3 830,257.8 831.2,259.4 832.5,261.2 833.8,257.9 835,256.5 836.2,257 837.5,259.1 838.8,257 840,253.8 841.2,253.2 842.5,255.6 843.8,257 845,259.4 846.2,256.2 847.5,257.4 848.8,256.5 850,265.3 851.2,263.8 852.5,263.7 853.8,255.5 855,258.5 856.2,259.9 857.5,262.9 858.8,259.5 860,259.6 861.2,256.8 862.5,261.3 863.8,256 865,259.8 866.2,258.2 867.5,260.7 868.8,258 870,254.9 871.2,256.4 872.5,258.9 873.8,259.1 875,254.7 876.2,255.6 877.5,260.7 878.8,263.3 880,261.8 881.2,260.4 882.5,261.1 883.8,264.4 885,263 886.2,261 887.5,258.2 888.8,256.1 890,256.4 891.2,255.1 892.5,258 893.8,260.3 895,258.6 896.2,258.2 897.5,261.5 898.8,260.1 900,260.4 901.2,256 902.5,260.5 903.8,260.4 905,265.1 906.2,261.7 907.5,264.9 908.8,260.4 910,264.3 911.2,264.9 912.5,260.6 913.8,257.9 915,257.7 916.2,262.5 917.5,263.6 918.8,264.8 920,261.9 921.2,259.5 922.5,261.1 923.8,262.3 925,267.9 926.2,264.3 927.5,264.8 928.8,259.4 930,261 931.2,257.3 932.5,257.6 933.8,255 935,256.3 936.2,258.3 937.5,259.3 938.8,259.1 940,258.6 941.2,258.3 942.5,256.2 943.8,256.6 945,260.9 946.2,264.3 947.5,264.3 948.8,258.9 950,258.6 951.2,256.3 952.5,255.5 953.8,257.3 955,256.4 956.2,260.2 957.5,261.4 958.8,260 960,263.8 961.2,262.8 962.5,264.8 963.8,260 965,258.3 966.2,257 967.5,259.3 968.8,256.4 970,255.8 971.2,255.4 972.5,263.2 973.8,258.9 975,257.7 976.2,255.4 977.5,257.4 978.8,261.8 980,257.8 981.2,257.6 982.5,258.1 983.8,258.4 985,258.5 986.2,258.1 987.5,262.7 988.8,263.7 990,268.2 991.2,262.8 992.5,266.9 993.8,263.4 995,266.6 996.2,264 997.5,262.3 998.8,260.4 1000,256.2 1001.2,256 1002.5,255.2 1003.8,258.4 1005,259.6 1006.2,260.7 1007.5,260.1 1008.8,265.3 1010,263.2 1011.2,261.4 1012.5,258.1 1013.8,256.9 1015,257.9 1016.2,254.9 1017.5,256.3 1018.8,256.5 1020,262.7 1021.2,266.2 1022.5,269.3 1023.8,264.8 1025,264.1 1026.2,260.3 1027.5,259.7 1028.8,259.3 1030,262 1031.2,263.8 1032.5,261.4 1033.8,258 1035,258.5 1036.2,258.4 1037.5,263 1038.8,265.3 1040,270.4 1041.2,268.3 1042.5,262.5 1043.8,261 1045,261.7 1046.2,267.1 1047.5,268.4 1048.8,267.2 1050,264.6 1051.2,262.7 1052.5,265.5 1053.8,263 1055,263.6 1056.2,261.6 1057.5,261.5 1058.8,260.2 1060,258.7 1061.2,259.4 1062.5,260.3 1063.8,261.8 1065,261.6 1066.2,263.7 1067.5,261.3 1068.8,261.4 1070,262.3 1071.2,262.2 1072.5,261.7 1073.8,260.2 1075,261.1 1076.2,260.1 1077.5,261.3 1078.8,262.1 1080,266.9 1081.2,263.4 1082.5,259.2 1083.8,256 1085,262.7 1086.2,267 1087.5,266.7 1088.8,262.2 1090,259.9 1091.2,259.7 1092.5,260.1 1093.8,259.4 1095,258.3 1096.2,259.5 1097.5,258.1 1098.8,259.9 1100,261.4 1101.2,262.2 1102.5,263.4 1103.8,260 1105,256.6 1106.2,257.4 1107.5,259.2 1108.8,263.2 1110,260.9 1111.2,263.8 1112.5,261.8 1113.8,261.6 1115,258.1 1116.2,256.9 1117.5,261.1 1118.8,260.1 1120,262.4 1121.2,258.5 1122.5,256.4 1123.8,253.3 1125,251.4 1126.2,252.8 1127.5,253.9 1128.8,259.8 1130,260 1131.2,262.8 1132.5,261.8 1133.8,264.4 1135,263.2 1136.2,261.6 1137.5,260.6 1138.8,261.8 1140,261.2 1141.2,258.1 1142.5,255.9 1143.8,253.3 1145,254.7 1146.2,255.1 1147.5,256.4 1148.8,256.2 1150,259 1151.2,260.3 1152.5,262.5 1153.8,260 1155,260.5"/>
<polyline points="705,260.6 706.2,260.2 707.5,260.4 708.8,261.2 710,258.2 711.2,258.1 712.5,258.5 713.8,262.4 715,261.7 716.2,264.8 717.5,261.3 718.8,264.7 720,262.7 721.2,266.7 722.5,261.2 723.8,260.4 725,258.8 726.2,261.4 727.5,258.1 728.8,258.3 730,253.7 731.2,260.9 732.5,259.7 733.8,262.2 735,257.1 736.2,259.6 737.5,262.6 738.8,264.8 740,260.4 741.2,257.9 742.5,257.1 743.8,260.6 745,262.8 746.2,261.4 747.5,260.6 748.8,255.2 750,256 751.2,257.8 752.5,262 753.8,260.3 755,258 756.2,256.2 757.5,254.2 758.8,251.7 760,250.5 761.2,252 762.5,255.5 763.8,252.6 765,249.4 766.2,246.6 767.5,247.2 768.8,249.1 770,244.4 771.2,248.4 772.5,250 773.8,254.8 775,249.6 776.2,247.8 777.5,246.9 778.8,253.6 780,254.2 781.2,256.6 782.5,255.9 783.8,257 785,255.7 786.2,250.9 787.5,253.9 788.8,256.8 790,261.1 791.2,257.3 792.5,254.4 793.8,254.2 795,250.6 796.2,249.3 797.5,245.8 798.8,250.6 800,248.5 801.2,254.1 802.5,251.7 803.8,254.6 805,252.9 806.2,253.7 807.5,254.6 808.8,254.4 810,254.3 811.2,250.6 812.5,250.8 813.8,251.5 815,254.1 816.2,253.6 817.5,257 818.8,256.7 820,256.2 821.2,256.7 822.5,256.4 823.8,257.9 825,256.4 826.2,254.7 827.5,255.9 828.8,256 830,258.2 831.2,254.7 832.5,256.4 833.8,259.4 835,263.7 836.2,260.7 837.5,261.2 838.8,255.2 840,258.4 841.2,256.8 842.5,256.1 843.8,260.7 845,261 846.2,262.1 847.5,259.1 848.8,255.6 850,255.7 851.2,253.6 852.5,254.7 853.8,256.7 855,258.6 856.2,262.1 857.5,258.8 858.8,258.6 860,257.2 861.2,260.3 862.5,259.7 863.8,260.9 865,258.6 866.2,259.4 867.5,259.5 868.8,261.9 870,261.2 871.2,260.7 872.5,258.7 873.8,260.2 875,260.1 876.2,259.3 877.5,256.7 878.8,257.9 880,257.5 881.2,253.6 882.5,252.9 883.8,254.3 885,259.3 886.2,260.4 887.5,261.1 888.8,261.4 890,259.7 891.2,254.7 892.5,255.2 893.8,253.7 895,255.4 896.2,254.6 897.5,254.9 898.8,255.4 900,253.9 901.2,253.6 902.5,257.2 903.8,255.8 905,255.8 906.2,256.8 907.5,260.7 908.8,266.2 910,266.6 911.2,266.6 912.5,260.7 913.8,259.6 915,260.9 916.2,265.8 917.5,265.6 918.8,264.7 920,263.5 921.2,264.3 922.5,263.6 923.8,264.2 925,265.5 926.2,263.6 927.5,266 928.8,261.7 930,262 931.2,258.8 932.5,257.7 933.8,258.5 935,260 936.2,263.8 937.5,265.7 938.8,259.3 940,258.7 941.2,255.4 942.5,260.2 943.8,261 945,265.3 946.2,267.8 947.5,266.1 948.8,262.2 950,258.1 951.2,261.2 952.5,262.2 953.8,263.4 955,259.7 956.2,258 957.5,261.6 958.8,266 960,266.9 961.2,264.9 962.5,260.5 963.8,259.1 965,257.2 966.2,259.7 967.5,262.7 968.8,262.9 970,257.5 971.2,255.5 972.5,260.2 973.8,260.4 975,262 976.2,259.4 977.5,261.9 978.8,255.1 980,254.2 981.2,250 982.5,254.2 983.8,258.3 985,261.4 986.2,259.9 987.5,255.4 988.8,255.2 990,257.6 991.2,260.8 992.5,262.3 993.8,262.3 995,258.1 996.2,256.4 997.5,258 998.8,259.4 1000,261.6 1001.2,261.8 1002.5,265.4 1003.8,263.6 1005,263.7 1006.2,262.4 1007.5,264.2 1008.8,258.6 1010,254 1011.2,255.9 1012.5,258.1 1013.8,259.8 1015,261.1 1016.2,262.1 1017.5,264 1018.8,265 1020,263.2 1021.2,261 1022.5,255.4 1023.8,252.6 1025,253 1026.2,252.9 1027.5,257.5 1028.8,256.3 1030,261.6 1031.2,257.9 1032.5,260 1033.8,259.2 1035,261.5 1036.2,264.6 1037.5,261.2 1038.8,261.9 1040,257.8 1041.2,260.5 1042.5,256.1 1043.8,254.8 1045,253.8 1046.2,258.4 1047.5,258.4 1048.8,255.8 1050,251.3 1051.2,251.8 1052.5,256.4 1053.8,258.7 1055,257 1056.2,252.1 1057.5,250.6 1058.8,252.9 1060,257.2 1061.2,260.5 1062.5,260.3 1063.8,260.4 1065,259.7 1066.2,262 1067.5,263.6 1068.8,264.8 1070,260.7 1071.2,260.1 1072.5,257.7 1073.8,256.6 1075,256.7 1076.2,256.6 1077.5,258.7 1078.8,254.3 1080,255.5 1081.2,258.1 1082.5,263.2 1083.8,262.1 1085,265.5 1086.2,262.6 1087.5,263.1 1088.8,260.6 1090,265.5 1091.2,267.9 1092.5,266.3 1093.8,266.5 1095,262.2 1096.2,265.1 1097.5,260 1098.8,257.4 1100,257.6 1101.2,261.9 1102.5,264.7 1103.8,258.7 1105,256.3 1106.2,255.1 1107.5,260.1 1108.8,261.7 1110,258.7 1111.2,255.3 1112.5,252.8 1113.8,255.7 1115,254.6 1116.2,258.6 1117.5,261.9 1118.8,263.6 1120,259.8 1121.2,255.4 1122.5,256.3 1123.8,262 1125,265.3 1126.2,265.2 1127.5,263.3 1128.8,260.8 1130,258.1 1131.2,257.2 1132.5,256.7 1133.8,260.5 1135,259.4 1136.2,259.3 1137.5,259.4 1138.8,260.1 1140,262.5 1141.2,263.5 1142.5,268.5 1143.8,269.5 1145,269 1146.2,263.1 1147.5,267.3 1148.8,264.9 1150,267.1 1151.2,267.3 1152.5,267.7 1153.8,263 1155,260.4"/>
<polyline points="705,256.9 706.2,259.9 707.5,263.5 708.8,264.5 710,263.2 711.2,266.7 712.5,264.9 713.8,267.1 715,261.6 716.2,262.1 717.5,259.7 718.8,258.9 720,258.5 721.2,257.4 722.5,261.4 723.8,257.8 725,255.8 726.2,256.5 727.5,260.8 728.8,263.9 730,257.7 731.2,255.2 732.5,256.3 733.8,263.8 735,263.9 736.2,266.7 737.5,259.6 738.8,263.9 740,261.9 741.2,263.9 742.5,263.4 743.8,262.2 745,262.1 746.2,258.8 747.5,260.3 748.8,260.8 750,260.1 751.2,258.1 752.5,258.8 753.8,257.5 755,257.6 756.2,255.6 757.5,250.5 758.8,241.7 760,231.9 761.2,225.8 762.5,222.2 763.8,218.8 765,216.7 766.2,215 767.5,218.2 768.8,220.4 770,224.2 771.2,226.4 772.5,230.1 773.8,232.9 775,232.3 776.2,233.1 777.5,233.7 778.8,237.2 780,236 781.2,237.6 782.5,238 783.8,241.8 785,241.9 786.2,241.7 787.5,238.7 788.8,239.9 790,245.5 791.2,249.6 792.5,250.7 793.8,246 795,247.2 796.2,248.4 797.5,251.4 798.8,250.4 800,249.1 801.2,248 802.5,247.2 803.8,247.6 805,248.4 806.2,251.2 807.5,253.4 808.8,254.9 810,254.7 811.2,257 812.5,255.7 813.8,256.8 815,251.4 816.2,256.6 817.5,255.6 818.8,264.4 820,263.9 821.2,262.5 822.5,258.1 823.8,255.7 825,251.7 826.2,252.2 827.5,252.3 828.8,258.3 830,255.8 831.2,251.4 832.5,248.7 833.8,242.1 835,244.7 836.2,245.1 837.5,250.8 838.8,253.6 840,255.4 841.2,251.3 842.5,250.7 843.8,247.3 845,250.4 846.2,248.3 847.5,254.5 848.8,254.6 850,256.8 851.2,255.5 852.5,254.3 853.8,257.3 855,254.2 856.2,261.6 857.5,257.5 858.8,262.3 860,265.1 861.2,262.1 862.5,255.8 863.8,250.7 865,256.8 866.2,262.6 867.5,264.2 868.8,263.4 870,262.2 871.2,261.1 872.5,258.3 873.8,257.7 875,262 876.2,260.6 877.5,261 878.8,257.3 880,255.1 881.2,254.7 882.5,256.1 883.8,258.3 885,256.8 886.2,254.6 887.5,255.3 888.8,255.4 890,255 891.2,250.5 892.5,254 893.8,258.1 895,259.4 896.2,258.6 897.5,255.1 898.8,256.4 900,256.3 901.2,254.9 902.5,255.6 903.8,259.8 905,260.6 906.2,258.9 907.5,258.8 908.8,258.7 910,260.4 911.2,257.8 912.5,258.7 913.8,254.7 915,254.9 916.2,254.5 917.5,257 918.8,256.7 920,262.8 921.2,262 922.5,260.9 923.8,253 925,255.1 926.2,255.4 927.5,260 928.8,259.7 930,260.4 931.2,258.6 932.5,262.4 933.8,264.2 935,266.4 936.2,264.7 937.5,262.3 938.8,258.6 940,254.3 941.2,255 942.5,257.8 943.8,259.2 945,256.7 946.2,257.6 947.5,258.2 948.8,258.2 950,258 951.2,258.2 952.5,257.2 953.8,259 955,258 956.2,260.2 957.5,256.3 958.8,257.2 960,261.2 961.2,261.1 962.5,263.9 963.8,258.9 965,261.3 966.2,262.3 967.5,265.8 968.8,266.9 970,263.9 971.2,258.8 972.5,252.5 973.8,250.3 975,255.5 976.2,258.6 977.5,261.3 978.8,260.5 980,260.1 981.2,259.3 982.5,258.9 983.8,259.4 985,261.9 986.2,267.1 987.5,269.9 988.8,268.6 990,264.2 991.2,260 992.5,256.5 993.8,258.4 995,260.8 996.2,265.5 997.5,264.5 998.8,262.9 1000,264.1 1001.2,266.7 1002.5,262.5 1003.8,265.2 1005,262.1 1006.2,268.8 1007.5,262.8 1008.8,266.9 1010,269.8 1011.2,273.4 1012.5,270.3 1013.8,267.3 1015,265.2 1016.2,265.3 1017.5,260.4 1018.8,259.7 1020,258.9 1021.2,256.9 1022.5,257.8 1023.8,258.4 1025,257.7 1026.2,254 1027.5,253 1028.8,255.3 1030,260.1 1031.2,258.1 1032.5,258.7 1033.8,256 1035,257.5 1036.2,259.3 1037.5,260.5 1038.8,261.1 1040,258.8 1041.2,257 1042.5,258.1 1043.8,258.9 1045,254.1 1046.2,254.2 1047.5,254.9 1048.8,259.1 1050,257 1051.2,258.1 1052.5,255.8 1053.8,253.4 1055,253.2 1056.2,254.4 1057.5,258.9 1058.8,259.1 1060,260.8 1061.2,257.3 1062.5,255.4 1063.8,251.5 1065,253.2 1066.2,254.4 1067.5,253.5 1068.8,254.6 1070,257.7 1071.2,259.6 1072.5,260.1 1073.8,260.3 1075,262.8 1076.2,261.1 1077.5,256.3 1078.8,255.2 1080,250 1081.2,251.4 1082.5,253.3 1083.8,252.6 1085,257.2 1086.2,254.7 1087.5,261.5 1088.8,263.2 1090,264.8 1091.2,261.8 1092.5,262 1093.8,259.5 1095,261 1096.2,259.2 1097.5,263.8 1098.8,259.6 1100,260.2 1101.2,261.7 1102.5,264.1 1103.8,267.3 1105,266.2 1106.2,262.8 1107.5,260.6 1108.8,259.1 1110,261 1111.2,259.2 1112.5,255.9 1113.8,260.7 1115,261.9 1116.2,264.4 1117.5,263.3 1118.8,266 1120,266 1121.2,264.4 1122.5,263 1123.8,261.3 1125,264.9 1126.2,266.2 1127.5,267 1128.8,262.3 1130,256.4 1131.2,254.5 1132.5,260.1 1133.8,263.5 1135,267.4 1136.2,259.2 1137.5,256.8 1138.8,255.5 1140,262 1141.2,261.4 1142.5,255.6 1143.8,251.6 1145,254.5 1146.2,252.7 1147.5,258.1 1148.8,255.1 1150,259.6 1151.2,258 1152.5,260.2 1153.8,260.1 1155,258.8"/>
<polyline points="705,252.4 706.2,256 707.5,255.9 708.8,259.9 710,258.2 711.2,263.9 712.5,262.6 713.8,261.5 715,258.5 716.2,258.5 717.5,262.4 718.8,262.7 720,261.2 721.2,259.2 722.5,258.3 723.8,260.4 725,260.9 726.2,264 727.5,261.4 728.8,262.9 730,266.6 731.2,270.9 732.5,268.9 733.8,263.3 735,257.6 736.2,258.4 737.5,262.5 738.8,266.5 740,266.3 741.2,262.3 742.5,259 743.8,262.8 745,262.3 746.2,267.6 747.5,263.1 748.8,263.6 750,258.9 751.2,259.1 752.5,259.6 753.8,260.1 755,254.5 756.2,243 757.5,229 758.8,216.2 760,212.2 761.2,204.7 762.5,203.2 763.8,193.4 765,193.9 766.2,195.6 767.5,197.4 768.8,203.3 770,207.5 771.2,212.8 772.5,216.4 773.8,218.3 775,215.7 776.2,215.7 777.5,215 778.8,223.4 780,225.3 781.2,225.6 782.5,223.5 783.8,226.3 785,230.5 786.2,234.7 787.5,233.4 788.8,235.1 790,235.2 791.2,237.5 792.5,234.7 793.8,241 795,244.4 796.2,247.8 797.5,246.2 798.8,244 800,248.8 801.2,250.3 802.5,247.7 803.8,244.6 805,243.5 806.2,248.4 807.5,246.5 808.8,249.4 810,248.9 811.2,255.4 812.5,253.9 813.8,256.5 815,257.1 816.2,256.6 817.5,253.9 818.8,253.6 820,255.3 821.2,255.4 822.5,258.2 823.8,259.5 825,260.5 826.2,254.6 827.5,248.7 828.8,247.9 830,248.1 831.2,247.1 832.5,249.1 833.8,253.1 835,254.9 836.2,253.9 837.5,254.7 838.8,258.5 840,263.4 841.2,261 842.5,258.5 843.8,257.6 845,260.9 846.2,261.4 847.5,260 848.8,256.2 850,257.4 851.2,260.2 852.5,257.6 853.8,257.3 855,256 856.2,260.3 857.5,258.1 858.8,256.2 860,254.8 861.2,257.3 862.5,255.8 863.8,256.7 865,256.6 866.2,258.3 867.5,258.3 868.8,260.4 870,260.1 871.2,259.6 872.5,254.7 873.8,254.3 875,253.8 876.2,253.9 877.5,255.4 878.8,257.6 880,259.4 881.2,258.2 882.5,261 883.8,256.9 885,259.8 886.2,257.2 887.5,258.7 888.8,254.2 890,253.1 891.2,254.5 892.5,258.1 893.8,258.1 895,260 896.2,258.1 897.5,259.3 898.8,260.4 900,260.9 901.2,259.1 902.5,257.3 903.8,258.7 905,260.8 906.2,259.9 907.5,260 908.8,258.4 910,259.3 911.2,256.4 912.5,259.4 913.8,259.6 915,261.9 916.2,261.2 917.5,260.7 918.8,257.6 920,260 921.2,258.9 922.5,260.5 923.8,255 925,256 926.2,255.3 927.5,255.4 928.8,256.9 930,259.7 931.2,262 932.5,259.2 933.8,259.3 935,259.3 936.2,259.1 937.5,255.8 938.8,256.2 940,256.1 941.2,252.8 942.5,249.9 943.8,248.5 945,256.7 946.2,255.8 947.5,254.2 948.8,252.5 950,253.6 951.2,258 952.5,256.7 953.8,261.1 955,259.7 956.2,261 957.5,257.6 958.8,259 960,257.7 961.2,258.9 962.5,262 963.8,265 965,264.7 966.2,262.7 967.5,259.3 968.8,261.8 970,265.5 971.2,265 972.5,260.1 973.8,264 975,266.7 976.2,270.9 977.5,266.4 978.8,265.9 980,267.2 981.2,267.3 982.5,264.9 983.8,261.8 985,265.1 986.2,263 987.5,262.6 988.8,261.3 990,262.7 991.2,264.4 992.5,263.6 993.8,263.7 995,263.2 996.2,263.1 997.5,263.1 998.8,262.8 1000,263.5 1001.2,262.8 1002.5,264.1 1003.8,261.6 1005,264 1006.2,265.4 1007.5,266.6 1008.8,265.5 1010,265.5 1011.2,266.2 1012.5,262.6 1013.8,260.4 1015,255.5 1016.2,257.8 1017.5,259.5 1018.8,259.8 1020,258.1 1021.2,254.2 1022.5,256.2 1023.8,262.3 1025,261.8 1026.2,261.8 1027.5,255.9 1028.8,260 1030,259.6 1031.2,263.6 1032.5,261.9 1033.8,261.2 1035,259.2 1036.2,255.1 1037.5,255.9 1038.8,259.6 1040,263.1 1041.2,261.8 1042.5,259.5 1043.8,255.5 1045,257.5 1046.2,262.8 1047.5,266.8 1048.8,265.1 1050,265.1 1051.2,265.8 1052.5,268.8 1053.8,269.5 1055,266 1056.2,263.2 1057.5,259.9 1058.8,264.2 1060,263.2 1061.2,263.3 1062.5,255.9 1063.8,254 1065,252.1 1066.2,252.9 1067.5,253.8 1068.8,254.1 1070,256.2 1071.2,257.6 1072.5,259.2 1073.8,258.3 1075,258.6 1076.2,255.8 1077.5,255.3 1078.8,253.8 1080,259.3 1081.2,258.6 1082.5,259.3 1083.8,256.7 1085,258.7 1086.2,260.9 1087.5,258.3 1088.8,261.5 1090,260.5 1091.2,258.1 1092.5,254.2 1093.8,251.3 1095,255.7 1096.2,258.4 1097.5,261.5 1098.8,263.7 1100,264.8 1101.2,263.9 1102.5,260.9 1103.8,257 1105,253.9 1106.2,256.9 1107.5,257.4 1108.8,256.3 1110,253.9 1111.2,256.3 1112.5,256.1 1113.8,257.1 1115,258 1116.2,262.5 1117.5,261 1118.8,259.2 1120,256.9 1121.2,265 1122.5,264.3 1123.8,263.2 1125,257.4 1126.2,258.5 1127.5,260.5 1128.8,262.8 1130,262.3 1131.2,262.7 1132.5,268 1133.8,268.6 1135,270.4 1136.2,263.8 1137.5,258.1 1138.8,260.6 1140,259.9 1141.2,266.5 1142.5,259.5 1143.8,259.7 1145,260.2 1146.2,259.7 1147.5,262.4 1148.8,262.5 1150,266.4 1151.2,263.3 1152.5,262.8 1153.8,258.5 1155,261"/>
<polyline points="705,260.9 706.2,263.7 707.5,258.4 708.8,257.9 710,258.6 711.2,261.7 712.5,262.3 713.8,262.1 715,265.3 716.2,267.9 717.5,266.5 718.8,262.7 720,262 721.2,260.4 722.5,259.2 723.8,255.8 725,257 726.2,257.9 727.5,257.9 728.8,259.8 730,259 731.2,258.3 732.5,256.6 733.8,259.9 735,261.2 736.2,259.2 737.5,262.7 738.8,262.9 740,269.8 741.2,263.8 742.5,267.1 743.8,259.7 745,264.2 746.2,262.8 747.5,265.6 748.8,261.4 750,263.5 751.2,265.5 752.5,266.8 753.8,263.4 755,248.4 756.2,228.2 757.5,205.7 758.8,191.1 760,175 761.2,170.7 762.5,169.7 763.8,174.4 765,179.4 766.2,178.7 767.5,184.7 768.8,186.6 770,192.9 771.2,195.5 772.5,202.8 773.8,202.8 775,205.1 776.2,206.5 777.5,214.4 778.8,217 780,219.2 781.2,220.8 782.5,225.8 783.8,227.5 785,229.2 786.2,228.5 787.5,231.1 788.8,231.4 790,237.6 791.2,239.8 792.5,242.3 793.8,241.1 795,245.8 796.2,245.2 797.5,242.4 798.8,242 800,239.4 801.2,243.2 802.5,243.9 803.8,249.7 805,251.3 806.2,248.6 807.5,247.3 808.8,249.4 810,247 811.2,245.8 812.5,244.2 813.8,247.6 815,251.7 816.2,252.1 817.5,253.2 818.8,252.7 820,255.3 821.2,256.4 822.5,254.9 823.8,255.6 825,255 826.2,258.7 827.5,258.7 828.8,258.3 830,258.9 831.2,258.3 832.5,254 833.8,254 835,252 836.2,254.2 837.5,252.4 838.8,253.7 840,254.1 841.2,254 842.5,252.7 843.8,252.6 845,255.2 846.2,257.4 847.5,262.2 848.8,262.6 850,260.9 851.2,256.4 852.5,256.5 853.8,256.7 855,257.8 856.2,258.3 857.5,255.6 858.8,256.8 860,255.6 861.2,257.7 862.5,257.9 863.8,258.5 865,257.1 866.2,257.6 867.5,258 868.8,262.2 870,260.1 871.2,257.5 872.5,254.6 873.8,253.7 875,255.5 876.2,260.6 877.5,261.1 878.8,260.3 880,256.9 881.2,257.8 882.5,256.7 883.8,261.9 885,259.1 886.2,262.5 887.5,260.9 888.8,263.7 890,265.6 891.2,260 892.5,254.3 893.8,252.7 895,256.1 896.2,260.6 897.5,259.9 898.8,257.6 900,255.1 901.2,253.1 902.5,254.4 903.8,257.6 905,262.4 906.2,261.9 907.5,258.3 908.8,256.6 910,256.4 911.2,258.4 912.5,258.1 913.8,256 915,255 916.2,256.8 917.5,260.5 918.8,263.3 920,261.4 921.2,260.2 922.5,258.8 923.8,259.1 925,262.1 926.2,263.6 927.5,265.6 928.8,266.9 930,265.2 931.2,260.1 932.5,258.2 933.8,255.5 935,253.1 936.2,249.2 937.5,250.5 938.8,254.5 940,256 941.2,257.6 942.5,258.6 943.8,259 945,257.6 946.2,258 947.5,260.5 948.8,259.7 950,260.7 951.2,259.6 952.5,259.3 953.8,258.6 955,258.7 956.2,258.3 957.5,257.8 958.8,261.2 960,256.1 961.2,258 962.5,255.7 963.8,259.8 965,260.7 966.2,263.2 967.5,259.5 968.8,256.5 970,256.8 971.2,258.4 972.5,260.1 973.8,261.4 975,265.7 976.2,263.7 977.5,258.9 978.8,253.5 980,253.9 981.2,259.3 982.5,260.7 983.8,264.8 985,263.8 986.2,260.4 987.5,258.5 988.8,256.9 990,258.6 991.2,255.2 992.5,257.8 993.8,255.4 995,258.5 996.2,258.7 997.5,260.4 998.8,259.3 1000,260.2 1001.2,259.8 1002.5,263.3 1003.8,259.7 1005,257.7 1006.2,256.1 1007.5,256.7 1008.8,259.6 1010,263.2 1011.2,258.7 1012.5,258.1 1013.8,256 1015,262.3 1016.2,264.7 1017.5,261.4 1018.8,260.5 1020,260.3 1021.2,265 1022.5,269 1023.8,268.8 1025,266.4 1026.2,264 1027.5,263.1 1028.8,262.6 1030,261.7 1031.2,260.6 1032.5,262.3 1033.8,261.6 1035,260.6 1036.2,261.1 1037.5,262.9 1038.8,262.4 1040,261.2 1041.2,258.4 1042.5,260.3 1043.8,257.5 1045,258.1 1046.2,258.2 1047.5,258.9 1048.8,260.6 1050,262.9 1051.2,263.5 1052.5,261 1053.8,258.5 1055,258.6 1056.2,257.7 1057.5,260.5 1058.8,259.7 1060,266.5 1061.2,263.4 1062.5,265.5 1063.8,262.3 1065,259.9 1066.2,259.7 1067.5,257.7 1068.8,259.5 1070,256.7 1071.2,257.8 1072.5,251.3 1073.8,251.6 1075,252.1 1076.2,257.8 1077.5,259.8 1078.8,260 1080,263.5 1081.2,262.3 1082.5,254.8 1083.8,252.6 1085,253.8 1086.2,260.6 1087.5,260.1 1088.8,263.1 1090,263.7 1091.2,260.1 1092.5,257.6 1093.8,254.8 1095,254.4 1096.2,250.8 1097.5,252.5 1098.8,253.2 1100,254.6 1101.2,254.6 1102.5,253.3 1103.8,256.9 1105,259.6 1106.2,263.6 1107.5,262.4 1108.8,258.4 1110,254.2 1111.2,254.2 1112.5,252.7 1113.8,258.3 1115,255.9 1116.2,257.2 1117.5,257.3 1118.8,257.5 1120,254.4 1121.2,258.1 1122.5,258.3 1123.8,264.1 1125,264.4 1126.2,265.4 1127.5,263.6 1128.8,261.2 1130,262.3 1131.2,263.2 1132.5,262 1133.8,259.8 1135,260.9 1136.2,260.7 1137.5,257.3 1138.8,251.9 1140,252.7 1141.2,257.6 1142.5,266 1143.8,265.5 1145,264.7 1146.2,259.2 1147.5,259.9 1148.8,260.6 1150,265.2 1151.2,267.1 1152.5,268.2 1153.8,266.9 1155,266.8"/>
</g>
<line x1="706" y1="260.7" x2="1155" y2="260.7" stroke="#000" stroke-width="1.5" stroke-dasharray="3.6 3"/>
<g class="san" font-size="18" fill="#000" stroke="#000" stroke-width="0.45" letter-spacing="2.7">
<text x="771.5" y="176.5">80</text>
<text x="731" y="337.5">30</text>
<text x="815.5" y="353.5">-20</text>
<text x="756.5" y="431">0</text>
</g>
<path d="M981.3 305V370.8H1043" fill="none" stroke="#3a3a3a" stroke-width="1.6"/>
<g class="san" font-size="18.7" fill="#000" stroke="#000" stroke-width="0.4" letter-spacing="1.3">
<text x="989" y="333">150 pA</text>
<text x="991.5" y="391">2 ms</text>
</g>
<text class="san" font-size="18.6" fill="#000" stroke="#000" stroke-width="0.35" x="900.5" y="450.6" letter-spacing="1.4"><tspan font-style="italic">V</tspan><tspan font-size="12.5" dy="3.5">m</tspan><tspan dy="-3.5"> (mV)</tspan></text>
<g fill="none" stroke="#2a2a2a" stroke-width="1.4">
<path d="M748.2 459.8H1156M748.2 463.7H1156M748.2 467.5H1156M748.2 471.4H1156M748.2 475.2H1156M748.2 479.1H1156M748.2 482.9H1156M748.2 486.8H1156M748.2 490.6H1156M748.2 494.4H1156M748.2 498.3H1156M748.2 502.2H1156M748.2 506H1156M748.2 509.9H1156"/>
<path d="M706 524.8H748.2V459.3"/>
</g>
<text class="san" font-size="18.7" fill="#000" stroke="#000" stroke-width="0.4" x="702.3" y="521" letter-spacing="-0.85">-100</text>
</g>
<g id="panelC">
<text class="lab" x="-0.5" y="606">C</text>
<g stroke="#000" stroke-width="2" fill="none" stroke-linecap="butt">
<line x1="102.0" y1="632" x2="102.0" y2="955"/>
<line x1="130" y1="739.8" x2="625" y2="739.8"/>
<line x1="102.0" y1="954" x2="112.0" y2="954"/>
<line x1="102.0" y1="923.4" x2="108.0" y2="923.4"/>
<line x1="102.0" y1="892.8" x2="112.0" y2="892.8"/>
<line x1="102.0" y1="862.2" x2="108.0" y2="862.2"/>
<line x1="102.0" y1="831.6" x2="112.0" y2="831.6"/>
<line x1="102.0" y1="801" x2="108.0" y2="801"/>
<line x1="102.0" y1="770.4" x2="112.0" y2="770.4"/>
<line x1="102.0" y1="739.8" x2="112.0" y2="739.8"/>
<line x1="102.0" y1="709.2" x2="112.0" y2="709.2"/>
<line x1="102.0" y1="678.6" x2="108.0" y2="678.6"/>
<line x1="102.0" y1="648" x2="112.0" y2="648"/>
<line x1="131.1" y1="739.8" x2="131.1" y2="745.8"/>
<line x1="149.95" y1="739.8" x2="149.95" y2="745.8"/>
<line x1="168.8" y1="739.8" x2="168.8" y2="749.8"/>
<line x1="187.65" y1="739.8" x2="187.65" y2="745.8"/>
<line x1="206.5" y1="739.8" x2="206.5" y2="745.8"/>
<line x1="225.35" y1="739.8" x2="225.35" y2="745.8"/>
<line x1="244.2" y1="739.8" x2="244.2" y2="749.8"/>
<line x1="263.05" y1="739.8" x2="263.05" y2="745.8"/>
<line x1="281.9" y1="739.8" x2="281.9" y2="745.8"/>
<line x1="300.75" y1="739.8" x2="300.75" y2="745.8"/>
<line x1="319.6" y1="739.8" x2="319.6" y2="749.8"/>
<line x1="338.45" y1="739.8" x2="338.45" y2="745.8"/>
<line x1="357.3" y1="739.8" x2="357.3" y2="745.8"/>
<line x1="376.15" y1="739.8" x2="376.15" y2="745.8"/>
<line x1="395" y1="739.8" x2="395" y2="749.8"/>
<line x1="413.85" y1="739.8" x2="413.85" y2="745.8"/>
<line x1="432.7" y1="739.8" x2="432.7" y2="745.8"/>
<line x1="451.55" y1="739.8" x2="451.55" y2="745.8"/>
<line x1="470.4" y1="739.8" x2="470.4" y2="749.8"/>
<line x1="489.25" y1="739.8" x2="489.25" y2="745.8"/>
<line x1="508.1" y1="739.8" x2="508.1" y2="745.8"/>
<line x1="526.95" y1="739.8" x2="526.95" y2="745.8"/>
<line x1="545.8" y1="739.8" x2="545.8" y2="749.8"/>
<line x1="564.65" y1="739.8" x2="564.65" y2="745.8"/>
<line x1="583.5" y1="739.8" x2="583.5" y2="745.8"/>
<line x1="602.35" y1="739.8" x2="602.35" y2="745.8"/>
<line x1="621.2" y1="739.8" x2="621.2" y2="749.8"/>
</g>
<g class="ser" font-size="28" fill="#000">
<text x="96.5" y="657" text-anchor="end">15</text>
<text x="96.5" y="718.2" text-anchor="end">5</text>
<text x="96.5" y="779.4" text-anchor="end">-5</text>
<text x="96.5" y="840.6" text-anchor="end">-15</text>
<text x="96.5" y="901.8" text-anchor="end">-25</text>
<text x="96.5" y="963" text-anchor="end">-35</text>
<text x="168.4" y="728.6" text-anchor="middle">-40</text>
<text x="243.8" y="728.6" text-anchor="middle">-20</text>
<text x="319.2" y="728.6" text-anchor="middle">0</text>
<text x="394.6" y="728.6" text-anchor="middle">20</text>
<text x="470" y="728.6" text-anchor="middle">40</text>
<text x="545.4" y="728.6" text-anchor="middle">60</text>
<text x="620.8" y="728.6" text-anchor="middle">80</text>
</g>
<text class="ser" font-size="31" fill="#000" x="308" y="670"><tspan class="seri">V</tspan><tspan font-size="21.5" font-weight="bold" dy="7" dx="-1">m</tspan><tspan dy="-7" dx="0"> (mV)</tspan></text>
<text class="ser" font-size="31" fill="#000" transform="translate(38.5 940.5) rotate(-90)" textLength="300" lengthAdjust="spacingAndGlyphs">Current density (pA/pF)</text>
<g stroke="#ff0000" fill="none" stroke-width="1.8">
<polyline points="131.1,741.6 149.95,744.6 168.8,749.6 187.65,758 206.5,773.6 225.35,800.4 244.2,831.6 263.05,870 281.9,902.6 300.75,920.6 319.6,925.6 338.45,920 357.3,904 376.15,879 395,862.6 413.85,843 432.7,818.6 451.55,794.5 470.4,770.6 489.25,750 508.1,732.4 526.95,719 545.8,703.6 564.65,688.6 583.5,680.4 602.35,670.4 621.2,657"/>
<path d="M244.2 819.1V844.1M239.2 819.1h10M239.2 844.1h10"/>
<path d="M263.05 853.5V886.5M258.05 853.5h10M258.05 886.5h10"/>
<path d="M281.9 881.6V923.6M276.9 881.6h10M276.9 923.6h10"/>
<path d="M300.75 895.1V946.1M295.75 895.1h10M295.75 946.1h10"/>
<path d="M319.6 900.3V950.9M314.6 900.3h10M314.6 950.9h10"/>
<path d="M338.45 895.4V944.6M333.45 895.4h10M333.45 944.6h10"/>
<path d="M357.3 881.8V926.2M352.3 881.8h10M352.3 926.2h10"/>
<path d="M376.15 859.3V898.7M371.15 859.3h10M371.15 898.7h10"/>
<path d="M395 844.5V880.7M390 844.5h10M390 880.7h10"/>
<path d="M413.85 828.2V857.8M408.85 828.2h10M408.85 857.8h10"/>
<path d="M432.7 807.3V829.9M427.7 807.3h10M427.7 829.9h10"/>
<path d="M583.5 667.9V692.9M578.5 667.9h10M578.5 692.9h10"/>
<path d="M602.35 658.1V682.7M597.35 658.1h10M597.35 682.7h10"/>
<path d="M621.2 641.2V672.8M616.2 641.2h10M616.2 672.8h10"/>
</g>
<g fill="#ff0000">
<circle cx="131.1" cy="741.6" r="10.8"/>
<circle cx="149.95" cy="744.6" r="10.8"/>
<circle cx="168.8" cy="749.6" r="10.8"/>
<circle cx="187.65" cy="758" r="10.8"/>
<circle cx="206.5" cy="773.6" r="10.8"/>
<circle cx="225.35" cy="800.4" r="10.8"/>
<circle cx="244.2" cy="831.6" r="10.8"/>
<circle cx="263.05" cy="870" r="10.8"/>
<circle cx="281.9" cy="902.6" r="10.8"/>
<circle cx="300.75" cy="920.6" r="10.8"/>
<circle cx="319.6" cy="925.6" r="10.8"/>
<circle cx="338.45" cy="920" r="10.8"/>
<circle cx="357.3" cy="904" r="10.8"/>
<circle cx="376.15" cy="879" r="10.8"/>
<circle cx="395" cy="862.6" r="10.8"/>
<circle cx="413.85" cy="843" r="10.8"/>
<circle cx="432.7" cy="818.6" r="10.8"/>
<circle cx="451.55" cy="794.5" r="10.8"/>
<circle cx="470.4" cy="770.6" r="10.8"/>
<circle cx="489.25" cy="750" r="10.8"/>
<circle cx="508.1" cy="732.4" r="10.8"/>
<circle cx="526.95" cy="719" r="10.8"/>
<circle cx="545.8" cy="703.6" r="10.8"/>
<circle cx="564.65" cy="688.6" r="10.8"/>
<circle cx="583.5" cy="680.4" r="10.8"/>
<circle cx="602.35" cy="670.4" r="10.8"/>
<circle cx="621.2" cy="657" r="10.8"/>
</g>
</g>
<g id="panelD">
<text class="lab" x="697.5" y="608.5">D</text>
<g stroke="#1a1a1a" stroke-width="1.3" fill="none">
<line x1="794.0" y1="624" x2="794.0" y2="939.2"/>
<line x1="794.0" y1="938.6" x2="804.0" y2="938.6"/>
<line x1="794.0" y1="908.7" x2="800.0" y2="908.7"/>
<line x1="794.0" y1="878.8" x2="800.0" y2="878.8"/>
<line x1="794.0" y1="848.9" x2="800.0" y2="848.9"/>
<line x1="794.0" y1="819" x2="800.0" y2="819"/>
<line x1="794.0" y1="789.1" x2="804.0" y2="789.1"/>
<line x1="794.0" y1="759.2" x2="800.0" y2="759.2"/>
<line x1="794.0" y1="729.3" x2="800.0" y2="729.3"/>
<line x1="794.0" y1="699.4" x2="800.0" y2="699.4"/>
<line x1="794.0" y1="669.5" x2="800.0" y2="669.5"/>
<line x1="794.0" y1="639.6" x2="804.0" y2="639.6"/>
<line x1="808" y1="949.6" x2="1121.3" y2="949.6"/>
<line x1="812.6" y1="949.6" x2="812.6" y2="940.6"/>
<line x1="830.7" y1="949.6" x2="830.7" y2="944.6"/>
<line x1="848.8" y1="949.6" x2="848.8" y2="944.6"/>
<line x1="866.9" y1="949.6" x2="866.9" y2="944.6"/>
<line x1="885" y1="949.6" x2="885" y2="940.6"/>
<line x1="903.1" y1="949.6" x2="903.1" y2="944.6"/>
<line x1="921.2" y1="949.6" x2="921.2" y2="944.6"/>
<line x1="939.3" y1="949.6" x2="939.3" y2="944.6"/>
<line x1="957.4" y1="949.6" x2="957.4" y2="940.6"/>
<line x1="975.5" y1="949.6" x2="975.5" y2="944.6"/>
<line x1="993.6" y1="949.6" x2="993.6" y2="944.6"/>
<line x1="1011.7" y1="949.6" x2="1011.7" y2="944.6"/>
<line x1="1029.8" y1="949.6" x2="1029.8" y2="940.6"/>
<line x1="1047.9" y1="949.6" x2="1047.9" y2="944.6"/>
<line x1="1066" y1="949.6" x2="1066" y2="944.6"/>
<line x1="1084.1" y1="949.6" x2="1084.1" y2="944.6"/>
<line x1="1102.2" y1="949.6" x2="1102.2" y2="940.6"/>
<line x1="1120.3" y1="949.6" x2="1120.3" y2="944.6"/>
</g>
<g class="ser" font-size="28.6" fill="#000">
<text x="791" y="648.9" text-anchor="end">1.0</text>
<text x="791" y="798.4" text-anchor="end">0.5</text>
<text x="791" y="947.9" text-anchor="end">0.0</text>
<text x="812.3" y="979" text-anchor="middle">-50</text>
<text x="884.7" y="979" text-anchor="middle">-30</text>
<text x="957.1" y="979" text-anchor="middle">-10</text>
<text x="1029.5" y="979" text-anchor="middle">10</text>
<text x="1101.9" y="979" text-anchor="middle">30</text>
</g>
<text class="ser" font-size="31" fill="#000" x="906" y="1023.5"><tspan class="seri">V</tspan><tspan font-size="21.5" font-weight="bold" dy="7" dx="-1">m</tspan><tspan dy="-7" dx="0"> (mV)</tspan></text>
<text class="ser" font-size="30" fill="#000" transform="translate(737 934) rotate(-90)" textLength="310" lengthAdjust="spacingAndGlyphs">Normalized Conductance</text>
<g stroke="#ff0000" fill="none" stroke-width="1.3">
<polyline points="812.6,936.73 814.41,936.59 816.22,936.45 818.03,936.29 819.84,936.12 821.65,935.93 823.46,935.74 825.27,935.53 827.08,935.31 828.89,935.06 830.7,934.81 832.51,934.53 834.32,934.23 836.13,933.91 837.94,933.57 839.75,933.21 841.56,932.81 843.37,932.39 845.18,931.95 846.99,931.46 848.8,930.95 850.61,930.4 852.42,929.81 854.23,929.18 856.04,928.5 857.85,927.78 859.66,927.01 861.47,926.19 863.28,925.31 865.09,924.38 866.9,923.38 868.71,922.31 870.52,921.18 872.33,919.97 874.14,918.68 875.95,917.31 877.76,915.85 879.57,914.3 881.38,912.66 883.19,910.92 885,909.07 886.81,907.11 888.62,905.04 890.43,902.85 892.24,900.54 894.05,898.1 895.86,895.54 897.67,892.83 899.48,889.99 901.29,887.01 903.1,883.89 904.91,880.62 906.72,877.21 908.53,873.65 910.34,869.94 912.15,866.09 913.96,862.09 915.77,857.95 917.58,853.66 919.39,849.25 921.2,844.71 923.01,840.04 924.82,835.26 926.63,830.36 928.44,825.38 930.25,820.3 932.06,815.15 933.87,809.93 935.68,804.66 937.49,799.34 939.3,794 941.11,788.65 942.92,783.3 944.73,777.96 946.54,772.65 948.35,767.37 950.16,762.16 951.97,757 953.78,751.93 955.59,746.94 957.4,742.05 959.21,737.26 961.02,732.6 962.83,728.05 964.64,723.64 966.45,719.36 968.26,715.22 970.07,711.22 971.88,707.36 973.69,703.65 975.5,700.09 977.31,696.68 979.12,693.41 980.93,690.29 982.74,687.31 984.55,684.47 986.36,681.77 988.17,679.2 989.98,676.76 991.79,674.45 993.6,672.26 995.41,670.19 997.22,668.24 999.03,666.39 1000.84,664.64 1002.65,663 1004.46,661.45 1006.27,660 1008.08,658.63 1009.89,657.34 1011.7,656.13 1013.51,654.99 1015.32,653.93 1017.13,652.93 1018.94,651.99 1020.75,651.11 1022.56,650.29 1024.37,649.52 1026.18,648.8 1027.99,648.12 1029.8,647.49 1031.61,646.9 1033.42,646.35 1035.23,645.84 1037.04,645.36 1038.85,644.91 1040.66,644.49 1042.47,644.1 1044.28,643.73 1046.09,643.39 1047.9,643.07 1049.71,642.77 1051.52,642.5 1053.33,642.24 1055.14,642 1056.95,641.77 1058.76,641.56 1060.57,641.37 1062.38,641.19 1064.19,641.02 1066,640.86 1067.81,640.71 1069.62,640.57 1071.43,640.44 1073.24,640.33 1075.05,640.21 1076.86,640.11 1078.67,640.01 1080.48,639.92 1082.29,639.84 1084.1,639.76 1085.91,639.69 1087.72,639.62 1089.53,639.56 1091.34,639.5 1093.15,639.44 1094.96,639.39 1096.77,639.35 1098.58,639.3 1100.39,639.26 1102.2,639.22 1104.01,639.19 1105.82,639.15 1107.63,639.12 1109.44,639.09 1111.25,639.07 1113.06,639.04 1114.87,639.02 1116.68,639 1118.49,638.98 1120.3,638.96"/>
<path d="M921.2 832.3V852.9M916.2 832.3h10M916.2 852.9h10"/>
<path d="M939.3 783V803.4M934.3 783h10M934.3 803.4h10"/>
<path d="M957.4 732.8V754.4M952.4 732.8h10M952.4 754.4h10"/>
<path d="M1084.1 629.1V650.1M1079.1 629.1h10M1079.1 650.1h10"/>
<path d="M1120.3 645.9V676.9M1115.3 645.9h10M1115.3 676.9h10"/>
</g>
<g fill="#ff0000">
<circle cx="812.6" cy="937.4" r="10.4"/>
<circle cx="830.7" cy="936" r="10.4"/>
<circle cx="848.8" cy="930.6" r="10.4"/>
<circle cx="866.9" cy="922" r="10.4"/>
<circle cx="885" cy="905.4" r="10.4"/>
<circle cx="903.1" cy="876.6" r="10.4"/>
<circle cx="921.2" cy="842.6" r="10.4"/>
<circle cx="939.3" cy="793.2" r="10.4"/>
<circle cx="957.4" cy="743.6" r="10.4"/>
<circle cx="975.5" cy="707" r="10.4"/>
<circle cx="993.6" cy="677" r="10.4"/>
<circle cx="1011.7" cy="655.6" r="10.4"/>
<circle cx="1029.8" cy="646" r="10.4"/>
<circle cx="1047.9" cy="655" r="10.4"/>
<circle cx="1066" cy="647" r="10.4"/>
<circle cx="1084.1" cy="639.6" r="10.4"/>
<circle cx="1102.2" cy="647.6" r="10.4"/>
<circle cx="1120.3" cy="661.4" r="10.4"/>
</g>
</g>
<g id="panelE">
<defs><pattern id="hatch" patternUnits="userSpaceOnUse" width="8.7" height="8.7" x="1585" y="589.2"><path d="M-2 2L2 -2M0 8.7L8.7 0M6.7 10.7L10.7 6.7" stroke="#ff0000" stroke-width="1.45" fill="none"/></pattern></defs>
<text class="lab" x="1224" y="100.5">E</text>
<g stroke="#000" stroke-width="1.75" fill="none">
<line x1="1375.0" y1="120.1" x2="1375.0" y2="747.6999999999999"/>
<line x1="1375.0" y1="746.8" x2="1384.0" y2="746.8"/>
<line x1="1375.0" y1="694.65" x2="1380.0" y2="694.65"/>
<line x1="1375.0" y1="642.5" x2="1384.0" y2="642.5"/>
<line x1="1375.0" y1="590.35" x2="1380.0" y2="590.35"/>
<line x1="1375.0" y1="538.2" x2="1384.0" y2="538.2"/>
<line x1="1375.0" y1="486.05" x2="1380.0" y2="486.05"/>
<line x1="1375.0" y1="433.9" x2="1384.0" y2="433.9"/>
<line x1="1375.0" y1="381.75" x2="1380.0" y2="381.75"/>
<line x1="1375.0" y1="329.6" x2="1384.0" y2="329.6"/>
<line x1="1375.0" y1="277.45" x2="1380.0" y2="277.45"/>
<line x1="1375.0" y1="225.3" x2="1384.0" y2="225.3"/>
<line x1="1375.0" y1="173.15" x2="1380.0" y2="173.15"/>
<line x1="1375.0" y1="121" x2="1384.0" y2="121"/>
</g>
<g class="ser" font-size="33" fill="#000">
<text x="1360" y="757.8" text-anchor="end">0</text>
<text x="1360" y="653.5" text-anchor="end">100</text>
<text x="1360" y="549.2" text-anchor="end">200</text>
<text x="1360" y="444.9" text-anchor="end">300</text>
<text x="1360" y="340.6" text-anchor="end">400</text>
<text x="1360" y="236.3" text-anchor="end">500</text>
<text x="1360" y="132" text-anchor="end">600</text>
</g>
<text class="ser" font-size="38" fill="#000" transform="translate(1277 527) rotate(-90)" textLength="193.5" lengthAdjust="spacingAndGlyphs">Invasion (%)</text>
<rect x="1406" y="642.5" width="58.7" height="105.1" fill="#000"/>
<rect x="1495.3" y="254.7" width="59.2" height="492.9" fill="#ff0000"/>
<rect x="1585" y="589.4" width="58.3" height="157.4" fill="url(#hatch)" stroke="#ff0000" stroke-width="1.6"/>
<g stroke="#ff0000" stroke-width="1.8" fill="none">
<path d="M1524.7 255V150.3M1517.6 150.3h14.4"/>
<path d="M1614.2 589V572.6M1607.2 572.6h14"/>
</g>
<text class="san" font-weight="bold" font-size="35" fill="#000" x="1524.7" y="154.6" text-anchor="middle">*</text>
<g class="ser" font-size="32.5" fill="#000">
<text transform="translate(1451 771.3) rotate(-31)" text-anchor="end">C33A</text>
<text transform="translate(1539 773.5) rotate(-31)" text-anchor="end">+ Na<tspan font-size="24" dy="7.5">V</tspan><tspan dy="-7.5">1.6</tspan></text>
<text transform="translate(1636 775) rotate(-31)" text-anchor="end">+ Na<tspan font-size="24" dy="7.5">V</tspan><tspan dy="-7.5">1.6</tspan> + TTX</text>
</g>
</g>
</svg></body></html>
